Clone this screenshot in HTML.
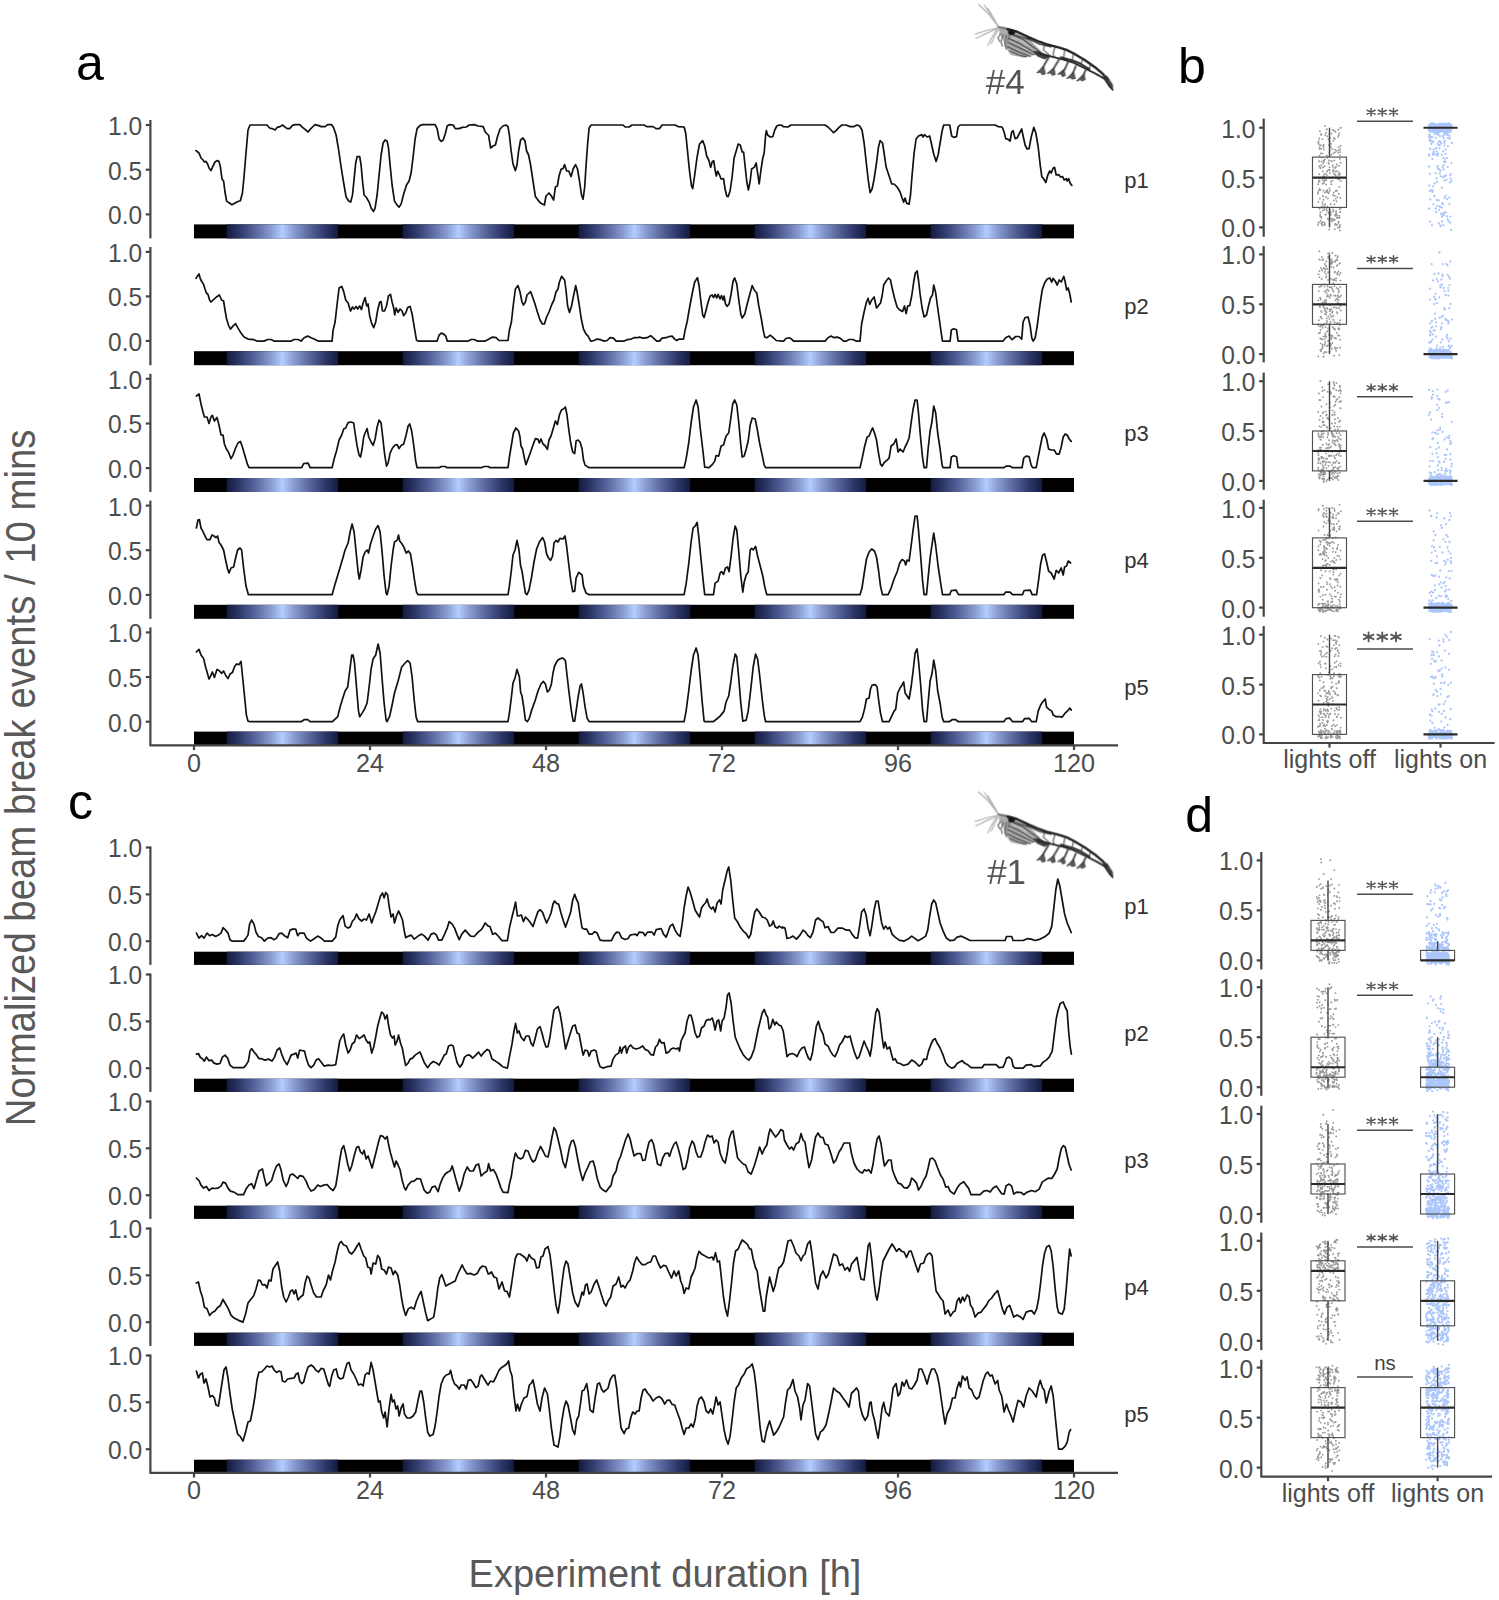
<!DOCTYPE html>
<html><head><meta charset="utf-8"><title>figure</title>
<style>
html,body{margin:0;padding:0;background:#fff;}
svg{display:block;font-family:"Liberation Sans",sans-serif;}
.tk{font-size:25.2px;fill:#4d4d4d;}
.pl{font-size:22px;fill:#333;}
.big{font-size:50px;fill:#000;}
.ttl{font-size:38px;fill:#595959;}
.st{font-size:17px;fill:#333;}
</style></head><body>
<svg width="1499" height="1600" viewBox="0 0 1499 1600">
<defs>
<linearGradient id="lg" x1="0" x2="1" y1="0" y2="0">
<stop offset="0" stop-color="#131a40"/>
<stop offset="0.1" stop-color="#2a3363"/>
<stop offset="0.25" stop-color="#56649b"/>
<stop offset="0.4" stop-color="#8a9dd3"/>
<stop offset="0.5" stop-color="#b2cdff"/>
<stop offset="0.6" stop-color="#8a9dd3"/>
<stop offset="0.75" stop-color="#56649b"/>
<stop offset="0.9" stop-color="#2a3363"/>
<stop offset="1" stop-color="#131a40"/>
</linearGradient>
</defs>
<rect width="1499" height="1600" fill="#fff"/>

<text x="76" y="79.5" class="big">a</text>
<text x="1178" y="82.5" class="big">b</text>
<text x="68" y="819" class="big">c</text>
<text x="1185.3" y="832" class="big">d</text>
<text x="665" y="1587" text-anchor="middle" class="ttl">Experiment duration [h]</text>
<text transform="translate(34.9,777.8) rotate(-90) scale(1.0087,1.12)" text-anchor="middle" class="ttl">Normalized beam break events / 10 mins</text>
<line x1="150.4" y1="120.0" x2="150.4" y2="238.4" stroke="#454545" stroke-width="2.2"/>
<line x1="145.8" y1="125.0" x2="150.4" y2="125.0" stroke="#454545" stroke-width="2.2"/>
<text transform="translate(142.2,134.9) scale(0.975,1.05)" text-anchor="end" class="tk">1.0</text>
<line x1="145.8" y1="169.7" x2="150.4" y2="169.7" stroke="#454545" stroke-width="2.2"/>
<text transform="translate(142.2,179.6) scale(0.975,1.05)" text-anchor="end" class="tk">0.5</text>
<line x1="145.8" y1="214.4" x2="150.4" y2="214.4" stroke="#454545" stroke-width="2.2"/>
<text transform="translate(142.2,224.3) scale(0.975,1.05)" text-anchor="end" class="tk">0.0</text>
<rect x="194.0" y="224.4" width="880.0" height="14.0" fill="#000"/>
<rect x="226.6" y="224.4" width="111.5" height="14.0" fill="url(#lg)"/>
<rect x="402.6" y="224.4" width="111.5" height="14.0" fill="url(#lg)"/>
<rect x="578.6" y="224.4" width="111.5" height="14.0" fill="url(#lg)"/>
<rect x="754.6" y="224.4" width="111.5" height="14.0" fill="url(#lg)"/>
<rect x="930.6" y="224.4" width="111.5" height="14.0" fill="url(#lg)"/>
<text x="1124.3" y="187.5" class="pl">p1</text>
<path d="M196.0,150.6 199.0,153.0 201.0,158.0 203.0,160.0 204.4,162.0 206.0,161.4 207.6,164.0 209.0,168.0 211.0,170.6 213.0,166.0 215.0,162.0 217.0,160.6 219.0,161.4 220.4,167.0 222.0,179.0 223.6,181.0 225.0,192.0 226.6,201.1 229.0,202.7 232.0,204.7 235.0,203.1 238.0,201.5 240.4,200.7 242.4,193.0 244.0,177.0 246.0,153.0 248.0,130.0 250.0,125.0 267.0,125.0 269.6,128.0 272.0,128.6 275.1,130.0 277.1,127.4 280.1,126.6 282.5,125.0 284.5,126.6 287.1,128.6 289.7,128.6 292.5,125.4 295.1,124.6 299.7,124.6 302.5,127.4 305.1,129.4 308.1,132.0 310.1,129.4 312.5,127.0 315.1,124.6 318.1,125.4 321.1,126.6 325.1,126.6 327.7,124.6 331.7,124.6 333.7,128.0 336.1,135.0 338.5,149.0 341.1,167.0 343.7,183.0 346.1,197.0 348.5,200.7 350.7,202.1 352.5,195.0 354.1,179.0 355.7,163.0 357.1,156.6 359.7,156.6 361.1,165.0 362.5,181.0 364.1,195.0 366.1,197.0 369.1,202.1 371.1,208.1 373.5,211.5 375.1,208.1 377.1,195.0 379.1,175.0 381.1,155.0 383.1,143.0 385.1,140.0 387.1,141.0 388.5,148.0 390.1,165.0 392.1,185.0 394.5,201.1 397.1,205.1 399.1,207.1 401.1,204.1 403.7,194.0 406.5,185.0 409.1,181.0 411.1,173.0 413.1,157.0 415.1,139.0 417.1,128.6 420.1,125.4 423.1,124.6 435.1,124.6 437.1,128.6 439.1,139.0 441.2,141.4 443.2,140.0 445.2,134.0 447.2,126.0 449.2,124.6 453.2,125.0 455.2,128.6 459.2,128.6 462.2,127.4 466.2,127.0 469.2,125.0 474.2,124.6 478.2,126.0 483.2,126.6 485.2,132.0 488.2,135.0 488.6,135.4 490.6,148.0 493.0,146.0 495.4,145.0 497.4,137.0 500.0,129.0 503.0,126.0 506.0,125.0 508.0,126.6 509.4,135.0 511.0,150.0 513.0,164.0 515.4,170.6 517.0,165.0 518.6,151.0 520.6,140.0 523.0,138.0 525.0,141.0 526.6,151.0 528.6,155.0 530.6,165.0 533.0,181.0 535.4,196.6 538.0,200.1 540.6,203.1 544.4,205.1 546.0,196.0 549.0,193.0 551.4,196.0 553.6,200.1 555.4,187.0 557.4,186.0 559.0,176.0 561.0,169.4 563.0,168.6 564.6,164.6 566.6,171.0 568.7,171.0 571.1,176.6 573.1,169.0 575.5,164.6 577.5,169.0 579.5,181.0 581.5,195.0 583.1,199.1 584.7,187.0 586.1,165.0 587.7,143.0 589.1,128.0 591.1,125.0 623.1,125.0 625.1,127.0 629.1,127.0 632.1,125.0 644.1,125.0 646.7,126.6 653.1,126.6 656.1,128.6 659.5,128.6 662.1,125.0 675.1,125.0 678.1,126.6 684.1,127.0 685.7,133.0 687.5,151.0 689.5,171.0 691.5,186.0 692.7,188.6 694.7,175.0 697.1,157.0 699.5,144.0 702.7,140.6 704.7,146.0 706.7,156.0 708.7,160.0 710.7,167.4 712.1,162.0 713.7,160.6 715.1,170.0 716.3,176.0 717.7,171.0 719.5,175.0 721.1,179.0 723.5,178.6 725.1,189.0 726.7,196.0 728.1,196.6 730.1,191.0 732.1,177.0 734.1,158.0 736.2,151.0 738.2,144.0 740.2,145.0 742.2,152.0 743.6,152.0 745.2,167.0 746.8,182.0 748.4,190.0 750.2,181.0 751.6,169.0 754.2,167.4 756.2,163.0 757.6,173.0 759.2,184.0 760.8,171.0 762.8,158.0 764.2,153.0 765.6,135.0 766.4,130.6 767.6,135.0 770.2,137.0 772.8,136.6 774.8,130.0 776.8,126.0 779.2,125.0 782.2,125.4 783.0,126.6 788.0,127.0 791.0,125.0 825.0,125.0 828.0,127.0 831.0,130.0 833.6,132.6 836.0,130.6 839.0,127.4 842.0,125.0 846.0,125.0 850.0,126.6 854.0,126.6 857.0,125.0 859.6,126.0 862.0,130.0 864.1,143.0 866.1,161.0 868.1,179.0 870.1,192.6 872.1,189.0 874.1,179.0 876.5,163.0 878.5,147.0 880.1,140.6 882.5,143.0 884.1,153.0 886.1,167.0 888.1,173.0 890.1,179.0 891.7,184.0 894.1,184.0 897.1,187.0 900.1,192.0 902.1,198.0 903.7,202.1 905.1,198.0 906.5,203.1 909.1,204.1 910.5,195.0 912.1,175.0 914.1,153.0 916.1,139.0 918.5,136.0 921.7,134.6 923.1,137.0 924.5,134.6 927.1,137.0 929.7,136.0 931.7,145.0 933.7,154.0 936.1,161.4 938.1,155.0 940.1,143.0 942.1,131.0 943.7,125.0 949.7,125.0 951.7,136.0 953.7,137.4 956.5,136.6 958.1,127.0 960.1,125.0 995.1,125.0 998.1,126.6 1002.1,127.0 1004.1,132.0 1005.7,138.6 1008.1,139.4 1010.1,141.0 1011.7,132.0 1013.1,130.6 1015.1,138.6 1017.1,138.0 1019.1,134.0 1021.7,129.0 1023.1,136.0 1025.1,145.0 1027.1,149.0 1029.1,148.6 1031.2,137.0 1033.8,127.4 1035.8,133.0 1038.2,147.0 1040.2,165.0 1041.8,176.6 1043.8,179.0 1045.8,182.6 1047.8,175.0 1049.8,171.0 1051.2,173.0 1053.2,168.0 1054.6,167.4 1056.2,175.0 1058.6,174.6 1060.6,177.0 1062.6,176.6 1064.2,180.0 1066.2,178.6 1067.2,181.0 1068.6,178.6 1070.2,183.4 1071.8,185.4" fill="none" stroke="#111" stroke-width="1.7" stroke-linejoin="round" stroke-linecap="round"/>
<line x1="150.4" y1="247.0" x2="150.4" y2="365.2" stroke="#454545" stroke-width="2.2"/>
<line x1="145.8" y1="251.9" x2="150.4" y2="251.9" stroke="#454545" stroke-width="2.2"/>
<text transform="translate(142.2,261.8) scale(0.975,1.05)" text-anchor="end" class="tk">1.0</text>
<line x1="145.8" y1="296.4" x2="150.4" y2="296.4" stroke="#454545" stroke-width="2.2"/>
<text transform="translate(142.2,306.3) scale(0.975,1.05)" text-anchor="end" class="tk">0.5</text>
<line x1="145.8" y1="340.9" x2="150.4" y2="340.9" stroke="#454545" stroke-width="2.2"/>
<text transform="translate(142.2,350.8) scale(0.975,1.05)" text-anchor="end" class="tk">0.0</text>
<rect x="194.0" y="351.2" width="880.0" height="14.0" fill="#000"/>
<rect x="226.6" y="351.2" width="111.5" height="14.0" fill="url(#lg)"/>
<rect x="402.6" y="351.2" width="111.5" height="14.0" fill="url(#lg)"/>
<rect x="578.6" y="351.2" width="111.5" height="14.0" fill="url(#lg)"/>
<rect x="754.6" y="351.2" width="111.5" height="14.0" fill="url(#lg)"/>
<rect x="930.6" y="351.2" width="111.5" height="14.0" fill="url(#lg)"/>
<text x="1124.3" y="314.2" class="pl">p2</text>
<path d="M196.0,278.4 197.6,276.0 199.0,274.0 200.4,279.0 202.0,282.0 203.6,284.4 205.0,289.0 206.4,293.0 208.0,294.4 209.6,300.0 211.0,302.0 213.6,299.6 216.4,297.0 219.4,295.0 221.6,300.0 223.6,301.0 225.0,310.0 226.4,318.0 228.4,325.0 230.4,329.1 233.0,326.1 235.6,323.6 238.0,328.1 241.0,333.1 244.0,337.1 248.0,339.1 254.0,339.7 257.0,341.1 264.0,341.1 267.6,339.5 271.0,339.5 274.1,341.1 291.1,341.1 294.1,339.5 298.1,339.5 301.1,341.1 304.1,337.7 307.7,336.1 311.1,337.7 314.1,339.1 318.1,341.1 332.1,341.1 333.1,330.1 335.1,322.0 337.1,304.0 339.1,288.0 341.7,286.4 343.7,291.6 345.7,300.0 348.1,303.0 350.5,311.0 352.5,307.0 354.1,309.0 356.1,306.4 357.7,309.0 359.7,306.0 361.5,309.6 363.1,303.0 365.1,297.6 366.7,306.0 368.1,304.0 369.7,316.0 371.7,323.6 373.7,327.7 375.7,322.0 377.7,310.0 379.7,302.0 381.1,301.6 382.5,311.0 384.5,311.0 386.5,306.0 388.5,296.0 390.5,294.4 392.1,302.0 393.7,308.0 394.7,315.0 396.1,308.0 398.1,312.4 400.1,309.0 402.1,311.0 403.7,315.6 405.7,313.0 407.7,307.6 410.1,306.4 412.1,314.0 414.1,326.1 416.5,340.1 418.1,341.1 437.1,341.1 439.1,335.1 441.2,333.1 443.8,334.1 445.8,336.1 447.2,341.1 468.2,341.1 471.2,339.5 474.2,339.5 477.2,341.1 485.2,341.1 488.2,339.5 489.0,339.1 492.6,337.1 496.0,337.7 499.0,340.5 508.0,340.5 509.4,330.1 511.4,322.0 513.4,304.0 515.4,289.0 518.0,285.6 520.0,292.0 522.0,302.0 523.4,305.0 525.4,302.0 527.0,295.0 530.6,291.6 532.6,297.0 535.0,304.0 537.4,312.0 540.0,320.0 542.4,324.0 544.4,324.0 546.6,317.0 549.0,312.0 552.0,304.0 554.0,300.0 556.0,292.0 558.0,289.0 559.4,282.0 561.6,276.4 564.6,280.0 566.0,290.0 567.6,306.0 569.5,312.4 571.5,306.0 573.5,296.0 575.7,285.6 577.1,292.0 579.1,304.0 581.1,318.0 583.5,329.1 586.1,334.1 588.1,336.1 590.7,341.1 594.1,340.5 597.1,339.1 600.7,339.7 604.1,341.1 607.1,340.5 610.1,337.7 613.5,338.1 616.1,341.1 624.1,341.1 627.1,339.7 631.1,339.1 634.1,337.7 637.1,337.7 639.5,337.1 643.1,338.1 647.1,337.7 650.7,335.7 653.5,338.1 656.7,341.1 659.5,341.1 662.1,338.1 666.1,337.7 669.1,336.5 672.1,336.1 674.7,339.1 676.7,340.5 679.1,339.1 683.5,339.1 685.1,330.1 687.1,322.0 689.5,308.0 692.1,294.0 694.7,282.0 697.5,277.6 699.1,286.0 700.7,300.0 702.7,315.0 704.1,317.6 706.1,310.0 708.1,302.0 710.1,296.0 712.1,295.0 713.5,297.6 715.1,294.4 716.7,298.0 718.1,294.4 720.1,299.0 721.5,295.6 723.1,300.0 724.1,296.0 725.5,304.0 727.1,306.4 729.1,304.0 731.1,294.0 733.1,281.0 734.7,278.0 736.8,284.0 738.8,300.0 740.8,314.0 742.2,318.0 744.8,314.0 747.2,304.0 749.6,295.0 752.2,285.6 754.2,290.0 756.8,293.0 758.8,306.0 761.2,318.0 763.2,330.1 764.8,337.1 767.2,337.7 770.2,335.1 773.2,337.7 776.2,340.5 782.2,341.1 783.6,341.1 786.0,338.5 789.0,337.7 791.6,339.1 793.6,341.1 825.0,341.1 828.0,337.7 831.0,336.1 834.0,337.7 837.0,337.1 840.0,338.1 843.6,341.1 846.4,341.1 849.0,339.5 853.0,339.5 856.0,341.1 860.0,341.1 861.6,324.0 864.1,312.0 866.5,302.0 868.1,298.4 869.7,304.4 871.7,300.0 874.1,297.0 876.5,308.0 878.5,305.6 880.5,303.0 882.1,296.0 883.7,285.0 886.1,281.0 888.5,278.0 890.5,280.0 892.1,288.0 894.5,298.0 897.1,307.0 899.7,310.0 902.5,311.6 904.5,306.0 906.1,313.6 907.7,306.0 909.7,305.6 911.7,296.0 913.7,282.0 915.3,273.0 917.1,271.0 918.5,280.0 920.1,294.0 922.1,308.0 924.1,317.0 926.5,315.0 928.5,306.0 930.5,298.0 932.5,295.0 933.7,285.0 935.7,293.0 937.7,308.0 939.7,322.0 941.7,336.1 942.5,341.1 950.1,341.1 951.3,330.1 953.7,328.7 956.5,329.7 958.1,341.1 1003.1,341.1 1005.7,337.7 1009.1,336.1 1012.1,339.7 1015.7,336.5 1019.1,336.5 1021.7,339.1 1023.1,322.0 1025.1,317.6 1028.1,317.0 1030.2,326.1 1031.8,338.1 1033.2,341.1 1035.2,337.7 1037.2,326.1 1039.8,306.0 1042.2,290.0 1044.6,283.0 1047.2,279.0 1049.8,278.0 1051.8,282.0 1053.2,278.4 1055.2,281.0 1057.2,285.0 1059.2,280.0 1061.2,282.0 1063.8,276.4 1065.2,282.0 1066.6,290.0 1068.2,288.0 1069.8,294.0 1071.2,302.0" fill="none" stroke="#111" stroke-width="1.7" stroke-linejoin="round" stroke-linecap="round"/>
<line x1="150.4" y1="373.8" x2="150.4" y2="492.0" stroke="#454545" stroke-width="2.2"/>
<line x1="145.8" y1="378.8" x2="150.4" y2="378.8" stroke="#454545" stroke-width="2.2"/>
<text transform="translate(142.2,388.7) scale(0.975,1.05)" text-anchor="end" class="tk">1.0</text>
<line x1="145.8" y1="423.5" x2="150.4" y2="423.5" stroke="#454545" stroke-width="2.2"/>
<text transform="translate(142.2,433.4) scale(0.975,1.05)" text-anchor="end" class="tk">0.5</text>
<line x1="145.8" y1="468.1" x2="150.4" y2="468.1" stroke="#454545" stroke-width="2.2"/>
<text transform="translate(142.2,478.0) scale(0.975,1.05)" text-anchor="end" class="tk">0.0</text>
<rect x="194.0" y="478.0" width="880.0" height="14.0" fill="#000"/>
<rect x="226.6" y="478.0" width="111.5" height="14.0" fill="url(#lg)"/>
<rect x="402.6" y="478.0" width="111.5" height="14.0" fill="url(#lg)"/>
<rect x="578.6" y="478.0" width="111.5" height="14.0" fill="url(#lg)"/>
<rect x="754.6" y="478.0" width="111.5" height="14.0" fill="url(#lg)"/>
<rect x="930.6" y="478.0" width="111.5" height="14.0" fill="url(#lg)"/>
<text x="1124.3" y="441.3" class="pl">p3</text>
<path d="M196.4,396.0 199.0,394.0 201.0,404.0 203.0,412.0 204.4,417.0 207.0,417.0 209.0,423.4 211.0,417.0 212.4,415.4 214.4,421.0 217.0,417.4 219.0,425.0 221.0,435.0 223.0,435.0 224.4,444.0 226.4,449.0 228.4,452.0 231.0,458.7 233.0,455.1 235.6,448.0 238.0,443.0 240.4,441.4 242.4,447.0 245.0,456.1 247.6,464.7 249.0,467.7 301.7,467.7 303.7,463.5 308.1,463.1 310.1,467.7 332.1,467.7 334.1,459.1 336.5,451.0 339.1,440.0 341.7,435.0 343.7,429.0 345.7,428.0 348.1,422.6 351.1,422.0 353.7,423.0 355.1,433.0 357.1,446.0 359.1,455.1 360.5,457.1 362.1,449.0 363.7,437.0 365.1,433.0 367.1,428.6 368.7,437.0 371.1,442.0 373.1,445.4 375.1,439.0 377.1,427.0 379.1,420.0 381.1,423.0 382.5,435.0 384.5,453.1 386.5,466.1 388.1,463.1 390.1,453.1 392.5,448.0 395.1,445.0 397.1,444.6 399.1,448.6 401.1,445.4 403.7,444.0 406.1,435.0 408.1,426.0 409.7,424.0 411.7,431.0 413.7,445.0 415.7,461.1 417.1,467.7 439.1,467.7 441.2,466.5 445.2,466.5 447.2,467.7 481.2,467.7 484.2,466.5 488.2,466.5 490.0,467.7 508.0,467.7 509.4,457.1 511.4,445.0 513.4,433.0 516.0,428.0 518.6,431.0 520.0,437.0 521.0,446.0 522.6,449.0 524.6,459.1 526.0,464.7 528.0,459.1 530.6,452.0 533.0,445.0 535.4,438.6 538.0,439.4 539.4,443.0 541.0,439.0 543.0,444.0 545.4,446.0 547.4,449.4 549.0,440.0 551.0,436.0 553.4,428.0 555.4,421.0 557.4,424.6 559.4,415.0 561.4,410.0 563.4,409.0 565.4,407.0 567.0,415.0 568.7,429.0 570.7,443.0 572.7,452.0 574.7,453.5 576.1,441.0 578.1,440.0 580.1,442.0 582.1,449.0 583.5,460.1 585.1,465.1 589.1,467.7 684.1,467.7 686.1,459.1 688.7,443.0 691.1,423.0 693.5,407.0 696.1,400.0 698.1,407.0 700.1,427.0 702.7,449.0 704.7,467.1 709.1,467.7 712.7,464.1 714.7,461.1 716.1,455.5 718.7,456.1 721.1,446.0 723.5,445.0 726.1,436.0 728.7,433.0 730.7,419.0 732.7,404.0 734.7,400.0 736.8,405.0 738.8,423.0 740.8,445.0 742.2,457.1 744.2,456.1 746.2,449.0 748.2,441.0 750.2,425.0 752.2,418.0 755.2,419.0 757.2,429.0 759.6,443.0 762.2,455.1 764.2,465.1 765.6,467.7 782.2,467.7 783.0,467.7 860.0,467.7 862.0,459.1 864.5,447.0 867.1,437.0 869.1,436.0 871.1,431.0 872.7,428.0 874.5,433.0 876.5,440.0 878.5,453.1 880.5,464.1 882.1,466.1 884.1,462.7 887.1,460.1 889.1,458.1 891.1,446.0 893.7,444.0 896.1,439.0 898.1,452.0 900.1,449.0 903.1,452.0 905.1,447.0 907.1,443.0 909.1,438.0 911.1,423.0 913.1,409.0 915.1,400.0 917.1,400.0 918.5,413.0 920.5,437.0 922.5,457.1 924.1,467.7 926.5,467.7 928.1,449.0 930.1,431.0 932.1,421.0 933.7,406.0 935.7,413.0 937.7,433.0 940.1,449.0 942.1,465.1 943.1,467.7 950.1,467.7 951.3,457.1 953.7,455.7 956.5,456.7 958.1,467.7 1003.7,467.7 1006.1,466.1 1010.1,466.1 1012.1,467.7 1022.1,467.7 1023.7,458.1 1026.1,456.1 1029.1,456.7 1031.2,465.1 1032.6,467.7 1036.2,467.7 1038.2,457.1 1040.2,447.0 1042.2,437.0 1044.2,433.0 1046.6,439.0 1048.6,449.0 1051.2,450.0 1054.2,450.0 1056.6,454.1 1059.2,454.1 1061.2,447.0 1063.2,437.0 1065.2,434.0 1067.2,435.0 1069.2,439.0 1071.2,441.4" fill="none" stroke="#111" stroke-width="1.7" stroke-linejoin="round" stroke-linecap="round"/>
<line x1="150.4" y1="500.6" x2="150.4" y2="618.8" stroke="#454545" stroke-width="2.2"/>
<line x1="145.8" y1="505.6" x2="150.4" y2="505.6" stroke="#454545" stroke-width="2.2"/>
<text transform="translate(142.2,515.5) scale(0.975,1.05)" text-anchor="end" class="tk">1.0</text>
<line x1="145.8" y1="550.2" x2="150.4" y2="550.2" stroke="#454545" stroke-width="2.2"/>
<text transform="translate(142.2,560.1) scale(0.975,1.05)" text-anchor="end" class="tk">0.5</text>
<line x1="145.8" y1="594.9" x2="150.4" y2="594.9" stroke="#454545" stroke-width="2.2"/>
<text transform="translate(142.2,604.8) scale(0.975,1.05)" text-anchor="end" class="tk">0.0</text>
<rect x="194.0" y="604.8" width="880.0" height="14.0" fill="#000"/>
<rect x="226.6" y="604.8" width="111.5" height="14.0" fill="url(#lg)"/>
<rect x="402.6" y="604.8" width="111.5" height="14.0" fill="url(#lg)"/>
<rect x="578.6" y="604.8" width="111.5" height="14.0" fill="url(#lg)"/>
<rect x="754.6" y="604.8" width="111.5" height="14.0" fill="url(#lg)"/>
<rect x="930.6" y="604.8" width="111.5" height="14.0" fill="url(#lg)"/>
<text x="1124.3" y="568.0" class="pl">p4</text>
<path d="M196.4,528.0 198.0,520.0 199.4,519.6 201.0,528.0 203.0,531.6 205.0,536.0 207.0,539.6 210.0,539.6 212.0,535.0 214.0,536.0 216.0,537.6 217.6,536.0 219.0,542.4 221.0,545.0 223.6,550.0 225.6,560.0 227.6,569.0 229.0,573.0 231.0,568.0 233.6,567.0 235.6,558.0 237.6,550.0 240.0,548.0 241.6,550.0 243.6,568.0 246.0,586.1 248.4,594.7 332.1,594.7 334.5,586.1 338.1,574.0 341.7,562.0 345.1,550.0 348.1,543.0 350.1,532.0 352.1,524.0 354.1,532.0 356.1,552.0 358.1,572.0 359.3,579.0 361.1,570.0 363.1,557.0 365.1,552.0 367.1,550.0 368.5,553.0 370.5,544.0 373.1,536.0 375.7,529.0 378.1,525.6 380.1,532.0 382.1,552.0 384.1,576.0 386.1,593.1 387.1,594.7 389.1,586.1 391.1,566.0 393.1,550.0 394.5,542.0 397.1,540.4 398.5,535.0 399.7,541.0 402.1,544.0 404.1,547.6 406.1,553.0 408.5,551.0 410.5,554.0 412.5,566.0 414.5,580.1 416.5,592.1 418.1,594.7 487.2,594.7 488.0,594.7 508.0,594.7 509.4,586.1 511.4,570.0 513.0,555.0 515.0,550.0 517.0,540.4 519.0,550.0 520.6,566.0 522.0,571.0 524.0,584.1 525.4,593.1 527.0,594.7 529.0,590.1 531.4,578.0 534.0,562.0 536.6,549.0 539.4,542.0 542.6,537.6 544.6,542.0 546.6,554.0 548.6,558.0 550.6,560.4 552.6,556.0 554.0,543.0 556.0,540.4 558.0,542.0 560.0,538.4 563.0,539.0 565.0,536.0 566.6,546.0 568.7,564.0 570.7,580.1 572.7,591.7 574.7,591.1 576.1,578.0 578.7,572.4 582.1,575.0 583.5,586.1 586.1,593.1 589.1,594.7 684.1,594.7 686.1,584.1 688.7,564.0 691.1,542.0 693.1,528.0 695.5,525.6 697.1,522.4 698.7,536.0 701.1,560.0 703.1,580.1 704.7,594.7 713.5,594.7 715.1,583.1 718.1,581.1 720.1,573.0 721.5,571.6 723.5,574.4 725.5,568.0 727.5,567.0 729.1,571.6 731.1,556.0 733.1,538.0 735.2,526.0 736.8,530.0 738.8,552.0 740.8,576.0 742.8,592.1 744.2,582.1 746.2,575.0 748.2,572.0 750.2,550.0 751.6,548.4 753.2,550.0 755.6,546.4 757.6,556.0 760.2,566.0 762.8,576.0 764.8,587.1 766.8,594.7 782.2,594.7 783.0,594.7 860.0,594.7 862.0,588.1 864.1,574.0 866.5,559.0 869.1,552.0 871.7,549.0 874.5,551.0 876.5,557.0 878.5,570.0 880.5,586.1 882.5,594.7 888.1,594.7 891.1,588.1 894.1,579.0 897.1,572.0 899.7,563.0 902.1,559.6 904.5,561.0 905.7,565.0 907.1,560.0 909.1,561.0 911.1,546.0 913.1,530.0 915.1,516.0 917.1,516.0 918.5,530.0 920.5,554.0 922.5,580.1 924.1,594.7 926.5,594.7 928.1,578.0 930.1,558.0 932.1,544.0 933.7,533.0 935.7,546.0 938.1,566.0 940.5,582.1 942.5,594.7 949.7,594.7 951.3,590.5 956.1,590.1 958.5,594.7 1003.7,594.7 1005.7,592.1 1010.1,592.1 1012.5,594.7 1022.5,594.7 1024.1,590.5 1030.2,590.1 1032.2,594.7 1036.6,594.7 1038.6,580.1 1040.6,564.0 1042.6,555.0 1044.6,554.0 1046.6,562.0 1048.6,571.0 1051.2,573.0 1054.2,579.0 1056.2,570.4 1058.6,573.0 1061.2,568.0 1063.2,575.0 1064.6,567.0 1066.6,566.0 1068.2,561.0 1070.6,563.0" fill="none" stroke="#111" stroke-width="1.7" stroke-linejoin="round" stroke-linecap="round"/>
<line x1="150.4" y1="627.4" x2="150.4" y2="745.4" stroke="#454545" stroke-width="2.2"/>
<line x1="145.8" y1="632.4" x2="150.4" y2="632.4" stroke="#454545" stroke-width="2.2"/>
<text transform="translate(142.2,642.3) scale(0.975,1.05)" text-anchor="end" class="tk">1.0</text>
<line x1="145.8" y1="677.0" x2="150.4" y2="677.0" stroke="#454545" stroke-width="2.2"/>
<text transform="translate(142.2,686.9) scale(0.975,1.05)" text-anchor="end" class="tk">0.5</text>
<line x1="145.8" y1="721.7" x2="150.4" y2="721.7" stroke="#454545" stroke-width="2.2"/>
<text transform="translate(142.2,731.6) scale(0.975,1.05)" text-anchor="end" class="tk">0.0</text>
<rect x="194.0" y="731.6" width="880.0" height="13.8" fill="#000"/>
<rect x="226.6" y="731.6" width="111.5" height="13.8" fill="url(#lg)"/>
<rect x="402.6" y="731.6" width="111.5" height="13.8" fill="url(#lg)"/>
<rect x="578.6" y="731.6" width="111.5" height="13.8" fill="url(#lg)"/>
<rect x="754.6" y="731.6" width="111.5" height="13.8" fill="url(#lg)"/>
<rect x="930.6" y="731.6" width="111.5" height="13.8" fill="url(#lg)"/>
<text x="1124.3" y="694.8" class="pl">p5</text>
<path d="M196.4,652.0 199.0,649.4 201.0,655.0 203.6,658.6 205.6,667.0 207.6,674.0 209.0,679.0 211.0,675.4 212.4,672.0 214.4,677.4 217.0,669.4 219.6,671.0 221.6,673.4 223.6,671.0 226.0,676.0 228.0,678.6 230.0,674.0 232.4,672.6 234.4,667.0 236.4,664.0 239.0,664.6 241.0,661.4 242.4,675.0 244.4,695.0 246.4,715.1 248.0,721.1 250.0,721.7 301.1,721.7 304.1,719.7 307.7,719.7 310.1,721.7 332.5,721.7 335.1,719.1 337.7,716.7 340.1,707.1 342.5,699.0 345.1,691.0 347.7,687.0 349.7,671.0 351.7,655.0 353.1,655.0 354.5,663.0 356.5,687.0 358.5,711.1 359.7,716.7 362.1,713.1 364.5,709.1 367.1,703.0 369.1,687.0 371.1,669.0 373.1,659.0 375.7,655.0 378.1,644.0 380.1,653.0 382.1,679.0 384.1,703.0 386.1,720.1 387.1,721.7 389.7,716.1 392.1,705.0 394.5,693.0 398.1,681.0 401.7,667.0 405.1,663.0 407.7,660.6 410.1,663.0 412.1,677.0 414.1,699.0 416.1,717.1 417.7,721.7 487.2,721.7 488.0,721.7 508.0,721.7 509.4,713.1 511.4,697.0 513.0,683.0 515.0,678.0 517.0,669.4 519.4,677.0 520.6,692.0 522.0,696.0 524.0,709.1 525.4,720.1 527.4,721.7 529.4,718.1 532.0,709.1 535.0,701.0 538.0,691.0 541.0,684.0 543.4,681.4 545.4,684.0 547.4,692.0 549.4,690.0 551.4,684.0 553.0,673.0 554.6,666.0 556.6,662.0 558.0,660.0 560.6,658.6 563.0,658.0 565.4,660.6 567.0,675.0 569.1,693.0 571.1,709.1 573.1,721.1 574.7,721.1 576.1,711.1 578.1,697.0 580.1,686.0 581.5,684.0 583.1,693.0 585.1,707.1 587.1,718.1 589.1,721.7 684.1,721.7 686.1,711.1 688.7,691.0 691.1,671.0 693.5,655.0 696.1,648.0 698.1,655.0 700.1,677.0 702.1,701.0 704.1,721.1 705.1,721.7 713.1,721.7 716.1,719.5 720.1,716.1 724.1,711.1 726.1,702.0 728.7,696.0 730.7,683.0 732.7,667.0 735.2,654.0 736.8,657.0 738.8,679.0 740.8,703.0 742.8,721.1 746.2,720.1 748.2,711.1 750.8,689.0 753.2,667.0 755.6,654.0 757.6,659.0 759.6,675.0 762.2,699.0 764.2,715.1 765.6,721.7 782.2,721.7 783.0,721.7 860.0,721.7 862.4,717.1 864.5,709.1 866.5,699.0 869.1,698.0 870.5,689.0 872.1,685.0 875.1,684.6 877.1,687.0 878.5,699.0 880.5,713.1 882.5,721.7 889.1,721.7 891.7,716.1 894.1,711.1 895.7,709.1 897.7,693.0 900.1,688.0 902.1,685.0 903.7,682.0 905.1,693.0 907.1,696.0 909.1,699.0 911.1,687.0 913.1,671.0 915.1,653.0 917.1,649.0 918.5,661.0 920.5,683.0 922.5,709.1 924.1,721.7 926.5,721.7 928.1,703.0 930.1,681.0 932.1,673.0 933.7,660.0 935.7,671.0 937.7,691.0 940.1,703.0 942.1,717.1 943.7,721.7 949.1,721.7 952.1,719.7 955.7,719.7 958.5,721.7 1003.7,721.7 1006.1,718.7 1009.7,718.1 1012.5,721.7 1022.5,721.7 1024.5,718.7 1029.1,718.3 1031.8,721.7 1036.2,721.7 1038.2,711.1 1040.6,705.0 1042.6,702.0 1045.2,699.0 1046.6,707.1 1049.2,709.5 1051.8,711.1 1053.2,715.1 1056.2,716.7 1059.2,716.7 1062.2,717.1 1065.2,713.1 1067.8,710.7 1069.8,708.1 1071.2,710.1" fill="none" stroke="#111" stroke-width="1.7" stroke-linejoin="round" stroke-linecap="round"/>
<line x1="149.5" y1="745.4" x2="1118" y2="745.4" stroke="#454545" stroke-width="2.2"/>
<line x1="194.0" y1="745.4" x2="194.0" y2="750.0" stroke="#454545" stroke-width="2.2"/>
<text x="194.1" y="771.7" text-anchor="middle" class="tk">0</text>
<line x1="370.0" y1="745.4" x2="370.0" y2="750.0" stroke="#454545" stroke-width="2.2"/>
<text x="370.1" y="771.7" text-anchor="middle" class="tk">24</text>
<line x1="546.0" y1="745.4" x2="546.0" y2="750.0" stroke="#454545" stroke-width="2.2"/>
<text x="546.1" y="771.7" text-anchor="middle" class="tk">48</text>
<line x1="722.0" y1="745.4" x2="722.0" y2="750.0" stroke="#454545" stroke-width="2.2"/>
<text x="722.1" y="771.7" text-anchor="middle" class="tk">72</text>
<line x1="898.0" y1="745.4" x2="898.0" y2="750.0" stroke="#454545" stroke-width="2.2"/>
<text x="898.1" y="771.7" text-anchor="middle" class="tk">96</text>
<line x1="1074.0" y1="745.4" x2="1074.0" y2="750.0" stroke="#454545" stroke-width="2.2"/>
<text x="1074.1" y="771.7" text-anchor="middle" class="tk">120</text>
<line x1="150.4" y1="846.5" x2="150.4" y2="964.9" stroke="#454545" stroke-width="2.2"/>
<line x1="145.8" y1="847.5" x2="150.4" y2="847.5" stroke="#454545" stroke-width="2.2"/>
<text transform="translate(142.2,857.4) scale(0.975,1.05)" text-anchor="end" class="tk">1.0</text>
<line x1="145.8" y1="894.4" x2="150.4" y2="894.4" stroke="#454545" stroke-width="2.2"/>
<text transform="translate(142.2,904.2) scale(0.975,1.05)" text-anchor="end" class="tk">0.5</text>
<line x1="145.8" y1="941.2" x2="150.4" y2="941.2" stroke="#454545" stroke-width="2.2"/>
<text transform="translate(142.2,951.1) scale(0.975,1.05)" text-anchor="end" class="tk">0.0</text>
<rect x="194.0" y="951.7" width="880.0" height="13.2" fill="#000"/>
<rect x="226.6" y="951.7" width="111.5" height="13.2" fill="url(#lg)"/>
<rect x="402.6" y="951.7" width="111.5" height="13.2" fill="url(#lg)"/>
<rect x="578.6" y="951.7" width="111.5" height="13.2" fill="url(#lg)"/>
<rect x="754.6" y="951.7" width="111.5" height="13.2" fill="url(#lg)"/>
<rect x="930.6" y="951.7" width="111.5" height="13.2" fill="url(#lg)"/>
<text x="1124.3" y="914.0" class="pl">p1</text>
<path d="M196.4,933.1 199.0,938.1 201.6,935.7 204.0,938.1 207.0,933.1 209.6,935.7 212.4,934.5 215.6,936.5 218.4,935.1 221.0,933.1 223.0,927.7 225.6,930.1 228.0,933.1 230.0,939.7 232.0,941.1 243.6,941.1 246.0,938.1 248.0,935.1 249.6,924.1 251.6,920.0 254.0,924.1 256.0,932.1 258.4,936.5 261.6,937.7 264.4,941.1 267.6,938.1 271.0,937.7 274.1,939.7 276.5,938.1 279.1,933.7 281.7,933.1 284.5,935.7 287.7,937.7 290.1,930.1 292.5,929.1 295.7,929.1 297.7,935.7 299.7,933.1 304.1,933.1 306.5,938.1 310.5,941.1 314.5,938.5 317.7,936.1 321.1,938.1 324.5,941.1 332.1,941.1 335.7,937.1 337.7,926.1 339.7,920.0 343.1,915.6 345.1,926.1 348.1,928.1 350.1,927.1 352.5,921.0 354.5,919.0 356.5,914.0 359.1,919.0 361.7,921.0 364.1,919.0 366.5,920.0 369.1,914.0 371.7,923.0 373.7,917.0 375.7,912.0 378.1,904.0 380.5,896.0 382.5,893.0 384.1,898.0 385.7,892.4 387.7,895.0 389.1,906.0 391.1,917.0 393.1,914.0 394.5,923.0 396.5,916.0 398.5,911.0 400.5,915.0 402.5,920.0 404.1,930.1 405.7,937.7 408.5,936.1 411.1,935.1 414.1,939.1 418.1,936.1 421.7,934.1 424.5,936.1 428.1,940.1 431.1,934.1 434.1,933.1 436.5,935.1 438.5,940.1 441.8,940.1 444.6,934.1 447.2,928.1 449.2,921.6 452.2,924.1 454.6,928.1 457.2,935.1 459.2,939.7 461.8,934.1 465.2,930.1 467.8,933.1 470.6,936.1 474.2,936.5 478.2,932.1 481.8,929.1 485.2,923.0 488.2,926.1 490.0,926.5 492.6,934.1 495.4,933.1 498.6,936.5 502.0,940.7 507.4,940.7 509.4,928.1 512.0,917.0 514.0,909.0 515.6,902.0 517.4,916.0 519.4,915.6 521.4,915.0 523.4,921.6 525.4,917.0 528.0,919.6 530.6,923.0 533.0,926.5 535.4,919.0 538.0,911.6 540.0,909.6 542.6,912.4 544.6,918.0 546.6,923.0 549.0,918.0 551.0,913.0 553.0,904.0 554.6,901.0 556.6,903.6 558.6,904.0 561.0,913.0 563.4,921.0 565.6,927.1 568.0,920.0 570.7,912.0 572.7,900.0 574.7,894.4 576.7,900.0 578.1,902.4 580.1,916.0 582.1,928.1 584.1,929.1 586.7,929.1 589.1,934.1 592.1,934.1 594.7,931.7 597.1,933.1 600.1,940.1 603.1,940.7 611.5,940.7 614.1,935.1 616.7,932.1 619.1,932.5 621.5,937.7 625.1,939.5 628.1,938.5 630.1,935.1 633.1,934.5 635.5,934.1 637.1,935.7 639.1,932.1 643.1,932.5 645.1,935.7 647.5,932.1 652.1,932.1 654.1,935.1 656.1,929.7 658.7,929.1 661.1,928.5 663.5,934.1 666.1,937.1 668.1,932.1 670.1,926.1 672.7,924.1 675.1,930.1 677.5,934.1 680.1,936.5 682.1,924.1 684.1,908.0 686.1,896.0 688.1,887.0 690.1,892.0 692.7,901.0 695.1,910.0 697.5,914.0 699.5,917.0 701.5,908.0 703.5,905.0 705.5,903.0 707.1,899.0 709.1,906.0 711.5,909.0 713.1,907.0 715.1,912.0 717.1,903.0 719.5,900.0 721.1,904.0 722.7,890.0 725.1,880.0 727.1,871.0 728.7,867.0 730.7,880.0 732.7,900.0 734.7,918.0 737.6,922.0 740.2,927.1 743.2,931.1 746.2,933.7 748.8,938.1 750.8,934.1 752.8,922.0 754.8,912.0 756.8,909.0 759.2,912.0 762.2,917.0 765.2,918.0 767.2,920.0 769.6,926.1 771.6,925.1 773.2,921.0 775.2,927.1 777.2,928.1 779.2,926.1 782.2,928.1 782.4,927.1 785.0,928.1 787.0,938.5 790.0,937.7 793.0,936.1 796.4,939.1 800.0,935.1 803.0,930.1 805.6,932.1 808.0,935.7 810.4,937.7 813.0,932.1 815.6,920.0 818.0,918.0 820.4,920.0 823.0,921.6 825.0,927.7 828.0,926.5 831.0,932.5 834.0,932.5 838.0,928.1 842.0,928.1 846.0,930.1 849.6,930.1 852.0,934.1 855.0,937.7 857.6,938.1 859.6,926.1 861.6,912.0 864.1,909.0 866.1,915.0 868.1,928.1 870.1,935.7 872.1,924.1 874.1,910.0 876.1,901.0 878.1,901.0 879.7,911.0 881.7,923.0 883.7,929.1 885.7,926.1 887.7,929.1 889.7,927.1 892.1,934.1 895.1,937.1 899.1,940.1 904.1,941.1 908.1,939.1 911.7,936.1 914.5,938.1 918.1,940.7 922.1,938.5 925.7,936.1 927.7,930.1 929.7,916.0 931.7,904.0 933.7,900.0 935.7,903.0 937.7,912.0 940.1,923.0 943.1,931.1 946.1,937.7 950.1,940.7 954.1,940.1 957.1,937.1 961.1,936.1 965.1,938.1 970.1,940.5 1005.1,940.5 1006.5,936.5 1011.7,936.5 1013.1,940.5 1023.1,940.5 1027.1,938.7 1031.2,939.1 1035.2,940.5 1040.2,939.1 1045.2,936.5 1049.2,933.1 1051.8,926.1 1053.8,908.0 1055.8,890.0 1057.8,879.0 1059.8,886.0 1062.2,900.0 1064.6,914.0 1067.2,923.0 1069.8,929.1 1071.2,932.5" fill="none" stroke="#111" stroke-width="1.7" stroke-linejoin="round" stroke-linecap="round"/>
<line x1="150.4" y1="973.5" x2="150.4" y2="1091.9" stroke="#454545" stroke-width="2.2"/>
<line x1="145.8" y1="974.5" x2="150.4" y2="974.5" stroke="#454545" stroke-width="2.2"/>
<text transform="translate(142.2,984.4) scale(0.975,1.05)" text-anchor="end" class="tk">1.0</text>
<line x1="145.8" y1="1021.4" x2="150.4" y2="1021.4" stroke="#454545" stroke-width="2.2"/>
<text transform="translate(142.2,1031.2) scale(0.975,1.05)" text-anchor="end" class="tk">0.5</text>
<line x1="145.8" y1="1068.2" x2="150.4" y2="1068.2" stroke="#454545" stroke-width="2.2"/>
<text transform="translate(142.2,1078.1) scale(0.975,1.05)" text-anchor="end" class="tk">0.0</text>
<rect x="194.0" y="1078.7" width="880.0" height="13.2" fill="#000"/>
<rect x="226.6" y="1078.7" width="111.5" height="13.2" fill="url(#lg)"/>
<rect x="402.6" y="1078.7" width="111.5" height="13.2" fill="url(#lg)"/>
<rect x="578.6" y="1078.7" width="111.5" height="13.2" fill="url(#lg)"/>
<rect x="754.6" y="1078.7" width="111.5" height="13.2" fill="url(#lg)"/>
<rect x="930.6" y="1078.7" width="111.5" height="13.2" fill="url(#lg)"/>
<text x="1124.3" y="1041.0" class="pl">p2</text>
<path d="M196.4,1054.1 198.4,1053.5 200.4,1057.5 202.4,1058.7 204.4,1061.1 206.4,1057.1 209.0,1060.7 211.6,1060.1 214.0,1063.1 217.0,1064.1 220.0,1063.5 222.4,1057.1 225.0,1055.1 227.6,1058.1 230.0,1065.1 233.0,1067.7 243.6,1067.7 246.0,1065.1 248.4,1061.1 250.0,1051.1 251.6,1048.6 254.0,1052.1 256.4,1054.7 259.0,1058.7 261.6,1058.7 265.0,1060.1 268.4,1059.1 272.0,1061.1 274.5,1057.1 277.1,1050.0 279.7,1048.0 281.7,1054.1 284.1,1060.1 287.1,1064.7 289.1,1060.1 291.1,1055.1 293.7,1054.1 296.1,1053.1 297.7,1058.1 299.7,1050.0 302.5,1050.7 304.5,1051.1 306.5,1059.1 308.5,1065.1 311.1,1067.7 313.7,1065.1 316.1,1060.1 318.5,1058.7 321.1,1062.1 324.1,1066.1 328.1,1065.1 332.1,1065.5 335.7,1064.7 337.7,1053.1 339.7,1041.0 342.1,1036.0 343.7,1034.0 345.7,1045.0 348.1,1053.1 350.1,1050.0 352.1,1044.0 354.5,1042.0 356.5,1035.0 359.1,1038.6 361.7,1037.0 364.1,1035.0 366.1,1040.0 368.1,1043.0 369.7,1042.0 371.7,1053.1 373.7,1047.0 375.7,1037.0 377.7,1026.0 380.1,1017.0 381.7,1012.0 383.7,1014.0 385.1,1019.0 387.1,1015.0 388.5,1025.0 390.5,1035.0 392.5,1038.0 394.1,1036.0 395.1,1045.0 397.1,1041.0 398.5,1035.0 400.5,1043.0 402.5,1049.0 404.1,1058.1 405.7,1065.5 408.1,1063.1 410.1,1059.1 412.5,1058.1 415.1,1055.1 418.1,1053.1 420.1,1052.1 422.1,1057.1 424.5,1063.1 427.7,1067.7 430.1,1064.1 433.1,1061.5 436.1,1062.7 439.1,1065.1 441.8,1060.1 444.2,1055.1 446.2,1054.1 448.6,1046.0 451.2,1045.0 453.2,1046.0 455.2,1055.1 457.2,1062.7 459.8,1067.1 462.2,1064.1 464.6,1057.1 467.2,1055.1 469.8,1055.1 472.6,1058.1 475.8,1055.1 478.6,1052.1 481.2,1056.1 484.2,1052.1 487.2,1049.4 489.4,1050.7 492.0,1059.1 495.4,1061.1 499.0,1063.5 502.6,1066.7 507.4,1068.1 509.4,1057.1 512.0,1044.0 514.0,1031.0 515.6,1023.4 517.4,1033.0 519.0,1031.0 521.0,1037.0 524.0,1040.6 526.0,1036.0 529.0,1036.0 531.0,1043.0 533.0,1046.0 535.0,1039.0 537.4,1029.0 540.0,1026.6 542.0,1033.0 544.0,1041.0 546.0,1047.0 548.0,1046.6 550.0,1037.0 552.0,1023.0 554.0,1010.0 556.0,1008.0 558.0,1006.6 560.0,1013.0 562.0,1025.0 564.0,1039.0 565.6,1049.0 568.0,1041.0 570.1,1034.0 572.7,1026.0 575.1,1025.0 577.1,1033.0 579.1,1034.0 581.1,1045.0 583.1,1055.1 585.1,1050.0 587.5,1050.7 589.1,1056.1 591.1,1051.1 594.1,1050.0 596.1,1051.1 598.1,1061.1 600.1,1066.7 603.1,1068.1 607.1,1066.7 611.1,1066.1 613.1,1059.1 615.5,1055.1 618.7,1053.1 620.1,1047.0 621.5,1053.1 623.1,1048.0 625.5,1046.0 626.7,1053.1 628.7,1047.0 630.7,1045.0 633.1,1048.0 636.1,1049.0 639.5,1048.0 642.7,1046.0 645.1,1049.4 648.1,1050.7 651.1,1054.7 653.5,1055.1 655.5,1047.0 657.5,1045.0 659.5,1039.4 661.5,1043.0 664.1,1042.6 666.1,1053.1 668.7,1052.1 671.1,1049.0 673.5,1048.0 676.1,1049.0 678.1,1048.0 679.5,1051.1 681.1,1041.0 683.1,1036.6 685.1,1033.0 687.1,1021.0 689.1,1015.0 691.1,1015.4 693.1,1023.0 695.1,1033.0 697.1,1037.4 699.5,1036.0 701.5,1028.0 704.1,1026.0 706.1,1020.6 708.1,1019.4 710.1,1020.0 712.1,1018.0 713.5,1022.0 715.1,1030.0 717.1,1021.0 718.7,1020.0 720.7,1031.0 722.1,1021.0 724.1,1018.0 726.1,1007.0 727.5,995.0 729.1,993.0 731.1,1003.0 733.1,1021.0 735.2,1037.0 737.6,1043.0 740.2,1049.0 743.2,1054.7 746.2,1058.1 748.8,1060.1 751.2,1057.1 754.2,1049.0 756.2,1039.0 758.2,1029.0 760.2,1021.0 762.2,1013.0 764.2,1009.4 766.2,1015.0 767.6,1017.0 769.2,1029.0 770.8,1027.0 772.8,1019.4 774.8,1025.0 776.2,1022.0 778.8,1025.0 781.2,1026.0 783.2,1031.0 785.0,1043.0 787.0,1056.7 789.6,1054.1 792.4,1053.5 795.0,1054.7 797.0,1056.7 799.6,1051.1 802.0,1048.0 804.4,1047.0 806.4,1053.1 808.4,1058.1 810.4,1060.1 812.4,1053.1 814.4,1039.0 816.4,1026.0 818.4,1021.4 820.4,1029.0 823.0,1034.0 825.0,1044.0 828.0,1046.0 830.4,1051.1 833.0,1055.1 835.0,1056.7 837.6,1051.1 839.6,1045.0 842.0,1042.0 845.0,1036.0 847.6,1037.4 850.0,1036.0 852.0,1044.0 854.4,1052.1 857.0,1058.7 859.0,1057.1 861.6,1049.0 864.1,1041.0 866.1,1046.0 868.5,1051.1 870.1,1056.1 871.7,1047.0 873.7,1029.0 875.7,1013.0 877.3,1008.6 879.1,1012.0 880.5,1023.0 882.1,1037.0 883.7,1048.0 885.1,1042.0 887.1,1049.0 889.7,1047.0 891.7,1055.1 893.1,1060.1 895.1,1058.7 897.1,1062.7 900.1,1063.5 903.7,1065.5 908.1,1064.1 911.7,1060.1 915.1,1062.1 919.1,1066.1 921.7,1064.1 923.7,1059.1 926.5,1059.5 928.5,1051.1 931.1,1044.0 933.1,1040.0 935.1,1038.6 937.1,1043.0 940.1,1048.0 943.1,1055.1 945.7,1062.7 948.5,1066.1 951.7,1068.1 954.5,1067.1 957.1,1063.5 959.7,1062.1 962.1,1060.7 964.5,1063.1 968.1,1065.1 971.1,1067.7 982.1,1067.7 984.1,1064.7 996.1,1064.7 999.1,1067.7 1003.1,1067.1 1005.1,1062.7 1006.5,1058.1 1009.1,1057.1 1011.7,1059.5 1013.1,1066.1 1015.1,1068.1 1023.1,1068.1 1026.1,1065.1 1031.2,1064.7 1033.8,1066.7 1037.2,1066.1 1040.2,1066.1 1043.2,1062.1 1046.2,1060.1 1049.2,1057.1 1052.2,1051.1 1054.2,1035.0 1056.2,1019.0 1058.2,1010.0 1060.2,1003.4 1063.2,1002.0 1065.2,1007.0 1067.2,1011.0 1068.6,1031.0 1070.2,1047.0 1071.4,1054.1" fill="none" stroke="#111" stroke-width="1.7" stroke-linejoin="round" stroke-linecap="round"/>
<line x1="150.4" y1="1100.5" x2="150.4" y2="1218.9" stroke="#454545" stroke-width="2.2"/>
<line x1="145.8" y1="1101.5" x2="150.4" y2="1101.5" stroke="#454545" stroke-width="2.2"/>
<text transform="translate(142.2,1111.4) scale(0.975,1.05)" text-anchor="end" class="tk">1.0</text>
<line x1="145.8" y1="1148.3" x2="150.4" y2="1148.3" stroke="#454545" stroke-width="2.2"/>
<text transform="translate(142.2,1158.2) scale(0.975,1.05)" text-anchor="end" class="tk">0.5</text>
<line x1="145.8" y1="1195.2" x2="150.4" y2="1195.2" stroke="#454545" stroke-width="2.2"/>
<text transform="translate(142.2,1205.1) scale(0.975,1.05)" text-anchor="end" class="tk">0.0</text>
<rect x="194.0" y="1205.7" width="880.0" height="13.2" fill="#000"/>
<rect x="226.6" y="1205.7" width="111.5" height="13.2" fill="url(#lg)"/>
<rect x="402.6" y="1205.7" width="111.5" height="13.2" fill="url(#lg)"/>
<rect x="578.6" y="1205.7" width="111.5" height="13.2" fill="url(#lg)"/>
<rect x="754.6" y="1205.7" width="111.5" height="13.2" fill="url(#lg)"/>
<rect x="930.6" y="1205.7" width="111.5" height="13.2" fill="url(#lg)"/>
<text x="1124.3" y="1167.9" class="pl">p3</text>
<path d="M196.4,1178.1 199.0,1180.5 201.0,1185.1 203.6,1188.1 206.4,1186.5 209.0,1190.5 212.0,1188.1 215.0,1188.5 218.0,1188.1 221.0,1186.1 223.0,1182.1 225.6,1183.1 228.0,1188.1 230.4,1191.1 234.0,1192.1 238.0,1194.7 243.6,1194.7 246.0,1189.1 249.0,1185.1 251.6,1183.7 254.0,1188.5 256.4,1180.1 259.0,1171.0 262.4,1169.0 264.4,1178.1 266.4,1185.7 269.0,1183.1 271.6,1180.5 274.1,1172.0 276.5,1166.0 279.1,1164.0 281.1,1170.0 283.1,1180.1 286.1,1186.5 288.1,1182.1 290.1,1175.0 292.5,1174.0 295.1,1176.0 297.7,1178.5 299.7,1175.6 303.1,1176.4 306.1,1181.1 308.5,1187.1 311.1,1191.1 314.1,1189.7 317.7,1185.1 320.5,1186.5 323.7,1185.1 327.1,1184.5 330.1,1188.1 333.1,1190.5 335.7,1186.1 337.7,1174.0 339.7,1160.0 341.7,1149.0 343.7,1145.6 345.7,1154.0 347.7,1164.0 349.7,1171.0 351.7,1166.0 354.1,1156.0 356.5,1147.6 358.5,1146.4 360.5,1152.0 362.5,1154.0 364.1,1150.4 366.1,1159.0 368.1,1156.0 370.1,1162.0 372.1,1168.0 374.1,1160.0 376.1,1152.0 378.5,1142.0 380.5,1135.6 383.1,1136.4 385.1,1139.0 387.1,1136.4 388.5,1144.0 390.5,1153.0 392.5,1160.0 394.5,1167.0 396.1,1161.0 398.1,1165.0 400.1,1170.0 402.1,1180.1 404.1,1187.1 405.7,1190.1 408.1,1185.1 411.1,1181.7 414.1,1181.1 417.1,1178.5 420.5,1179.1 422.1,1184.1 424.1,1190.1 427.1,1193.1 429.7,1192.1 432.1,1187.1 435.1,1186.1 438.1,1191.7 440.2,1184.1 442.6,1178.1 445.2,1174.0 447.8,1172.0 450.2,1171.0 452.2,1166.0 454.2,1173.0 456.6,1182.1 459.2,1191.1 461.8,1184.1 464.2,1174.0 467.2,1167.0 469.8,1171.0 473.2,1171.0 476.2,1165.0 478.6,1164.0 481.2,1176.0 484.2,1173.0 487.2,1171.0 488.6,1163.6 490.6,1171.0 493.4,1169.6 496.0,1174.0 498.6,1181.1 501.0,1188.1 503.0,1192.1 508.0,1192.7 509.4,1184.1 511.4,1176.0 513.4,1162.0 515.4,1153.0 518.0,1157.6 520.6,1159.0 523.0,1157.6 525.4,1150.4 528.0,1151.0 530.6,1158.0 533.0,1162.0 535.4,1160.0 538.0,1152.0 540.6,1146.4 543.0,1151.0 545.4,1156.0 548.0,1157.0 550.0,1148.0 552.0,1137.0 554.0,1127.6 556.0,1131.0 558.0,1139.0 560.6,1150.0 563.0,1162.0 565.4,1167.6 567.4,1158.0 569.5,1147.0 571.5,1141.0 573.5,1140.4 575.5,1147.0 577.5,1158.0 580.1,1171.0 582.7,1180.5 585.1,1173.0 587.5,1168.0 590.1,1162.0 593.1,1161.0 595.1,1168.0 597.1,1178.1 600.1,1187.1 603.1,1190.1 606.1,1191.7 608.7,1188.1 611.1,1185.1 613.1,1176.0 616.1,1171.0 618.1,1162.0 620.7,1156.0 623.1,1148.0 625.5,1140.0 628.1,1134.0 630.1,1139.0 632.1,1148.0 634.1,1156.0 637.1,1153.6 640.7,1153.6 642.7,1160.4 645.1,1160.0 647.1,1150.0 649.1,1142.0 651.5,1139.6 653.5,1144.0 655.5,1154.0 657.5,1164.0 660.7,1165.6 662.7,1158.0 665.1,1153.6 668.1,1153.0 669.5,1156.4 671.5,1150.0 674.1,1144.0 676.1,1142.0 678.1,1148.0 680.7,1158.0 683.1,1169.6 685.5,1168.0 687.5,1160.0 689.5,1148.0 692.1,1141.0 694.1,1144.0 696.1,1152.0 698.1,1157.0 700.7,1157.0 703.1,1150.0 705.1,1142.0 707.5,1135.0 710.1,1137.0 712.1,1136.0 714.1,1143.0 716.1,1140.0 718.1,1142.0 720.1,1153.0 722.7,1160.0 725.1,1163.0 727.1,1154.0 729.1,1139.0 731.5,1132.0 733.1,1131.0 735.2,1144.0 737.6,1158.0 740.2,1161.0 743.2,1164.0 745.6,1165.0 748.2,1172.0 751.2,1174.0 754.2,1166.0 757.2,1156.0 759.6,1147.0 762.2,1154.0 764.2,1149.0 766.8,1145.0 768.8,1134.0 770.2,1129.0 772.8,1133.0 775.6,1137.0 778.2,1134.0 780.8,1129.6 783.2,1131.0 784.4,1140.0 787.0,1145.0 789.6,1149.0 791.6,1147.0 793.6,1150.0 796.0,1144.0 799.0,1142.0 801.0,1133.6 803.0,1140.0 805.0,1142.0 807.0,1156.0 809.0,1167.6 811.6,1160.0 813.6,1148.0 815.6,1137.0 818.0,1133.0 820.4,1137.0 823.0,1137.6 825.0,1144.0 828.0,1145.0 831.0,1154.0 833.6,1163.0 836.0,1160.0 839.0,1152.0 841.6,1148.0 844.0,1143.0 847.0,1143.0 849.6,1143.0 851.6,1154.0 854.0,1163.0 857.0,1169.0 860.0,1172.0 862.4,1173.0 864.5,1169.6 866.5,1171.0 868.5,1169.6 871.1,1173.0 873.1,1164.0 875.1,1150.0 877.1,1139.0 879.1,1136.0 881.1,1144.0 883.1,1158.0 884.5,1166.0 886.5,1163.0 888.5,1160.0 891.1,1160.0 892.5,1170.0 895.1,1177.0 898.1,1183.1 901.1,1184.1 904.1,1187.7 907.1,1188.1 909.7,1185.1 911.7,1178.1 914.1,1180.1 916.5,1183.1 918.5,1190.1 921.1,1186.1 923.7,1180.1 926.1,1176.0 928.1,1168.0 930.1,1159.0 932.5,1158.0 935.1,1161.0 937.7,1168.0 940.5,1175.0 943.1,1179.1 945.7,1187.1 948.1,1186.5 950.1,1191.1 954.1,1194.1 957.1,1188.1 960.1,1184.1 963.7,1181.7 966.1,1185.1 968.5,1188.1 971.1,1194.7 980.1,1194.7 983.7,1191.1 987.1,1190.5 990.1,1192.1 993.1,1188.1 996.5,1186.1 999.1,1190.1 1001.7,1193.7 1004.1,1194.1 1006.1,1185.7 1009.1,1184.1 1011.7,1186.1 1013.7,1194.1 1017.1,1192.1 1021.1,1192.5 1023.7,1194.7 1027.1,1192.1 1031.8,1190.5 1035.2,1191.7 1039.2,1189.1 1042.2,1182.1 1045.2,1180.1 1048.6,1178.1 1051.8,1178.5 1054.6,1174.0 1057.2,1169.0 1059.2,1158.0 1061.2,1149.0 1063.2,1145.6 1065.2,1147.0 1067.2,1156.0 1069.2,1165.0 1071.2,1170.0" fill="none" stroke="#111" stroke-width="1.7" stroke-linejoin="round" stroke-linecap="round"/>
<line x1="150.4" y1="1227.5" x2="150.4" y2="1345.9" stroke="#454545" stroke-width="2.2"/>
<line x1="145.8" y1="1228.5" x2="150.4" y2="1228.5" stroke="#454545" stroke-width="2.2"/>
<text transform="translate(142.2,1238.4) scale(0.975,1.05)" text-anchor="end" class="tk">1.0</text>
<line x1="145.8" y1="1275.3" x2="150.4" y2="1275.3" stroke="#454545" stroke-width="2.2"/>
<text transform="translate(142.2,1285.2) scale(0.975,1.05)" text-anchor="end" class="tk">0.5</text>
<line x1="145.8" y1="1322.2" x2="150.4" y2="1322.2" stroke="#454545" stroke-width="2.2"/>
<text transform="translate(142.2,1332.1) scale(0.975,1.05)" text-anchor="end" class="tk">0.0</text>
<rect x="194.0" y="1332.7" width="880.0" height="13.2" fill="#000"/>
<rect x="226.6" y="1332.7" width="111.5" height="13.2" fill="url(#lg)"/>
<rect x="402.6" y="1332.7" width="111.5" height="13.2" fill="url(#lg)"/>
<rect x="578.6" y="1332.7" width="111.5" height="13.2" fill="url(#lg)"/>
<rect x="754.6" y="1332.7" width="111.5" height="13.2" fill="url(#lg)"/>
<rect x="930.6" y="1332.7" width="111.5" height="13.2" fill="url(#lg)"/>
<text x="1124.3" y="1294.9" class="pl">p4</text>
<path d="M196.4,1283.0 198.4,1282.0 200.4,1291.0 202.4,1297.0 204.4,1307.1 207.0,1308.7 209.6,1315.5 212.0,1312.7 215.0,1311.1 217.6,1307.5 220.0,1306.1 223.0,1299.4 225.6,1304.0 228.0,1308.1 231.0,1315.1 234.0,1318.1 238.0,1320.1 243.0,1322.1 245.6,1314.1 248.0,1303.0 251.0,1299.0 253.6,1296.0 256.0,1289.0 258.4,1280.0 260.4,1280.6 262.4,1285.0 265.0,1284.6 267.0,1288.0 269.0,1280.0 271.0,1281.0 273.0,1269.0 275.7,1265.0 277.7,1262.0 279.7,1271.0 281.7,1287.0 283.7,1297.0 286.1,1302.0 288.5,1297.0 290.5,1291.0 292.5,1290.0 294.1,1294.0 295.7,1290.0 298.1,1300.0 300.5,1297.0 303.1,1295.0 305.1,1283.0 307.1,1276.0 309.1,1278.0 311.1,1285.0 313.7,1293.0 316.5,1297.0 321.1,1297.0 323.1,1291.0 326.1,1285.0 328.5,1275.0 330.5,1280.0 332.5,1271.0 335.1,1262.0 337.1,1252.0 339.1,1244.0 341.1,1241.4 343.7,1245.0 346.5,1246.0 349.1,1252.0 351.7,1254.0 354.1,1251.0 357.1,1246.0 359.1,1243.0 361.1,1249.0 363.7,1256.0 365.7,1258.0 367.7,1267.0 370.1,1268.0 371.1,1274.0 373.1,1263.0 375.7,1264.0 377.7,1255.4 379.7,1258.0 381.7,1269.0 384.1,1270.0 386.5,1274.0 388.5,1267.0 391.1,1268.0 393.1,1274.6 395.1,1271.0 397.7,1275.0 399.7,1285.0 401.7,1299.0 403.7,1309.1 405.7,1315.5 408.1,1309.1 411.1,1307.1 414.1,1309.1 416.5,1301.0 419.1,1295.0 421.1,1291.4 423.1,1301.0 425.7,1313.1 427.7,1320.7 430.5,1319.1 433.7,1317.1 435.7,1305.1 437.7,1289.0 439.7,1278.0 441.8,1274.6 443.8,1280.0 445.8,1286.0 449.2,1284.0 452.2,1282.6 455.2,1281.0 457.8,1274.0 460.2,1269.0 462.2,1265.0 464.6,1270.0 467.2,1274.0 470.2,1273.4 474.2,1275.0 477.2,1273.4 480.2,1268.0 482.6,1266.0 485.8,1267.0 488.2,1274.0 489.0,1274.0 491.4,1272.0 494.0,1277.0 496.6,1278.0 499.0,1289.0 502.0,1282.0 504.6,1291.0 507.0,1291.4 509.4,1297.0 511.4,1285.0 513.4,1271.0 515.4,1258.0 517.4,1254.0 520.0,1254.0 523.0,1256.0 525.4,1258.0 527.0,1261.0 529.0,1254.6 531.4,1258.0 534.6,1260.0 536.6,1268.0 539.0,1267.4 541.0,1257.0 543.0,1256.0 545.0,1249.0 548.0,1246.6 550.0,1255.0 552.0,1271.0 554.0,1289.0 556.0,1305.1 558.0,1313.1 560.0,1301.0 562.0,1283.0 564.0,1268.0 566.0,1261.0 568.0,1264.0 570.1,1277.0 572.7,1293.0 575.1,1302.0 578.1,1306.7 580.1,1300.0 582.1,1292.0 583.5,1295.0 585.5,1285.0 587.1,1284.0 589.1,1294.0 591.1,1292.0 594.1,1284.0 596.7,1280.0 599.1,1287.0 601.5,1295.0 604.1,1303.0 606.1,1306.1 608.1,1301.0 610.7,1297.0 613.1,1286.0 616.1,1284.0 618.7,1277.0 621.1,1287.0 623.1,1285.4 625.1,1288.0 627.5,1283.0 630.1,1280.0 632.7,1271.0 634.7,1262.0 636.7,1257.0 639.1,1261.0 642.1,1264.6 645.1,1264.6 648.1,1262.6 650.7,1262.0 653.1,1256.0 655.5,1256.0 658.1,1263.0 660.7,1268.0 663.5,1265.4 666.1,1266.0 668.7,1272.0 671.5,1278.0 674.1,1271.0 676.1,1276.0 678.7,1271.0 680.7,1281.0 682.7,1286.0 684.1,1293.4 686.1,1288.0 688.7,1289.0 691.1,1277.0 693.1,1273.0 695.1,1268.0 697.1,1257.0 699.1,1251.4 701.5,1254.0 704.1,1255.4 706.7,1257.0 709.1,1258.0 712.1,1257.0 713.5,1260.0 715.5,1252.6 717.5,1262.0 719.5,1261.0 721.5,1279.0 723.5,1297.0 725.5,1309.1 727.5,1316.1 729.5,1301.0 731.5,1283.0 733.5,1263.0 735.6,1251.0 738.2,1249.0 740.2,1244.0 742.2,1240.0 744.8,1242.0 747.6,1244.6 749.6,1249.0 751.2,1249.0 753.2,1259.0 755.6,1268.0 757.2,1271.0 759.2,1287.0 761.2,1299.0 763.2,1311.1 764.8,1311.1 766.2,1297.0 768.2,1285.0 769.6,1277.0 771.6,1285.0 773.2,1291.4 775.2,1285.0 777.2,1275.0 778.8,1268.0 781.2,1266.0 783.6,1262.0 784.0,1260.0 786.0,1251.0 788.0,1241.0 791.0,1240.0 793.6,1246.0 796.0,1253.0 799.0,1256.0 801.0,1260.6 803.0,1256.0 805.0,1254.0 807.6,1244.0 810.0,1241.0 811.6,1251.0 813.6,1267.0 815.6,1283.0 818.0,1289.0 820.4,1276.0 823.0,1271.0 826.0,1278.0 828.4,1274.0 831.0,1264.0 833.6,1254.0 837.0,1256.0 839.6,1265.4 842.4,1264.0 845.0,1270.0 847.6,1267.4 849.6,1271.4 851.6,1264.0 854.4,1260.6 857.0,1257.4 859.0,1269.0 861.0,1279.0 864.1,1280.0 866.1,1264.0 868.1,1246.0 869.7,1243.0 871.7,1259.0 873.7,1279.0 875.7,1295.0 877.1,1300.0 879.1,1289.0 881.1,1273.0 883.1,1261.0 885.1,1257.0 887.1,1253.0 889.7,1248.0 892.1,1244.0 894.1,1247.0 896.5,1251.4 899.1,1248.6 901.7,1251.4 904.1,1252.0 906.5,1257.4 909.1,1251.4 911.1,1251.0 913.1,1257.0 915.7,1265.0 918.1,1272.0 920.5,1264.0 923.7,1263.0 925.7,1257.0 927.7,1254.0 930.1,1253.0 932.1,1256.0 934.1,1275.0 936.1,1291.0 938.1,1294.0 940.5,1298.0 943.1,1301.0 945.1,1314.1 948.1,1310.1 950.5,1316.1 953.1,1312.1 955.1,1311.1 957.1,1301.0 959.1,1298.0 960.5,1303.0 962.5,1297.0 964.5,1301.0 967.1,1295.0 969.1,1296.6 970.5,1305.1 972.5,1308.1 975.1,1317.1 978.1,1313.1 981.1,1312.1 984.1,1308.1 986.5,1305.1 988.5,1301.0 991.7,1298.0 994.5,1294.0 997.7,1290.6 999.7,1298.0 1002.1,1308.1 1004.5,1314.1 1007.1,1307.1 1009.7,1305.5 1011.7,1311.1 1013.7,1317.1 1017.1,1315.1 1020.1,1316.7 1023.1,1319.5 1026.1,1312.1 1029.1,1311.1 1031.8,1310.7 1034.2,1314.1 1036.6,1309.1 1038.6,1299.0 1040.6,1283.0 1042.6,1265.0 1044.6,1253.0 1046.6,1247.0 1049.2,1245.4 1051.2,1251.0 1053.2,1267.0 1055.2,1289.0 1057.2,1307.1 1058.6,1312.7 1062.2,1314.1 1064.2,1309.1 1066.2,1289.0 1068.2,1265.0 1069.6,1249.0 1071.2,1256.0" fill="none" stroke="#111" stroke-width="1.7" stroke-linejoin="round" stroke-linecap="round"/>
<line x1="150.4" y1="1354.5" x2="150.4" y2="1472.9" stroke="#454545" stroke-width="2.2"/>
<line x1="145.8" y1="1355.5" x2="150.4" y2="1355.5" stroke="#454545" stroke-width="2.2"/>
<text transform="translate(142.2,1365.4) scale(0.975,1.05)" text-anchor="end" class="tk">1.0</text>
<line x1="145.8" y1="1402.3" x2="150.4" y2="1402.3" stroke="#454545" stroke-width="2.2"/>
<text transform="translate(142.2,1412.2) scale(0.975,1.05)" text-anchor="end" class="tk">0.5</text>
<line x1="145.8" y1="1449.2" x2="150.4" y2="1449.2" stroke="#454545" stroke-width="2.2"/>
<text transform="translate(142.2,1459.1) scale(0.975,1.05)" text-anchor="end" class="tk">0.0</text>
<rect x="194.0" y="1459.7" width="880.0" height="13.2" fill="#000"/>
<rect x="226.6" y="1459.7" width="111.5" height="13.2" fill="url(#lg)"/>
<rect x="402.6" y="1459.7" width="111.5" height="13.2" fill="url(#lg)"/>
<rect x="578.6" y="1459.7" width="111.5" height="13.2" fill="url(#lg)"/>
<rect x="754.6" y="1459.7" width="111.5" height="13.2" fill="url(#lg)"/>
<rect x="930.6" y="1459.7" width="111.5" height="13.2" fill="url(#lg)"/>
<text x="1124.3" y="1421.9" class="pl">p5</text>
<path d="M196.4,1371.0 198.4,1378.0 200.4,1374.0 202.4,1373.0 204.0,1383.0 206.0,1379.0 208.0,1387.0 210.0,1397.0 212.4,1395.6 214.4,1398.0 216.0,1405.0 218.4,1406.0 220.0,1396.0 222.0,1383.0 224.0,1370.0 226.0,1367.0 228.0,1378.0 230.0,1394.0 232.4,1410.0 235.0,1422.0 237.6,1434.1 240.0,1436.1 243.0,1441.1 245.6,1432.1 248.0,1422.0 250.4,1421.0 253.0,1408.0 255.0,1396.0 257.0,1380.0 259.0,1372.0 261.6,1372.0 264.4,1369.0 267.0,1366.0 269.6,1367.0 272.0,1366.0 274.1,1370.0 276.5,1372.4 279.1,1371.0 281.1,1372.0 282.5,1381.0 285.1,1382.0 287.7,1379.0 291.1,1378.4 294.1,1378.0 296.1,1374.0 298.1,1373.0 299.7,1381.0 301.7,1383.6 303.7,1382.0 305.7,1374.0 308.1,1367.0 311.1,1365.0 313.7,1367.0 316.1,1370.4 318.5,1372.0 321.1,1368.4 323.7,1369.0 326.1,1377.0 328.5,1385.0 329.7,1386.4 331.7,1376.0 333.7,1370.0 336.1,1369.0 338.1,1377.0 340.5,1379.0 343.1,1378.0 345.1,1370.0 347.1,1363.6 349.1,1362.4 351.1,1370.0 353.7,1374.0 356.1,1379.0 358.5,1385.0 361.1,1384.0 363.1,1386.0 365.1,1375.0 367.1,1373.0 369.1,1374.0 371.1,1362.4 373.1,1370.0 375.1,1382.0 377.1,1394.0 378.5,1402.0 380.1,1401.0 381.7,1412.0 383.7,1418.0 385.1,1412.0 387.1,1427.0 389.1,1408.0 391.1,1394.4 392.5,1402.0 394.1,1400.0 396.1,1409.0 397.7,1406.0 399.1,1416.0 401.1,1408.0 403.1,1404.0 404.5,1414.0 407.1,1418.0 410.1,1418.0 413.1,1416.0 415.7,1412.0 418.1,1400.0 420.1,1391.0 421.7,1391.0 423.7,1402.0 425.7,1418.0 427.7,1432.1 429.7,1436.1 433.1,1434.5 435.1,1426.0 437.1,1412.0 439.1,1396.0 441.2,1384.0 443.8,1377.6 446.2,1375.0 449.2,1374.0 450.6,1370.4 452.6,1379.0 454.6,1384.0 457.2,1386.0 459.2,1389.0 461.2,1385.0 464.2,1385.0 466.2,1389.0 468.2,1380.4 470.6,1379.6 473.2,1383.0 475.8,1387.6 478.2,1386.0 480.2,1376.4 481.8,1375.0 484.2,1379.0 487.2,1384.0 488.0,1385.0 490.6,1381.0 493.4,1382.0 496.0,1377.0 498.6,1371.0 501.0,1368.0 504.0,1366.0 506.6,1364.0 508.6,1361.0 510.0,1370.0 512.0,1376.0 514.0,1396.0 516.0,1411.0 517.4,1404.0 519.4,1411.0 521.4,1404.0 524.0,1398.0 527.0,1396.4 529.4,1385.0 531.4,1383.0 533.0,1380.0 535.0,1390.0 537.4,1404.0 540.0,1411.0 542.0,1398.0 544.6,1388.0 547.4,1394.0 549.4,1410.0 551.4,1428.0 554.0,1445.1 558.0,1447.1 560.0,1436.1 562.0,1420.0 564.0,1408.0 566.0,1401.0 568.0,1405.0 570.1,1416.0 572.7,1430.0 574.7,1434.5 576.7,1420.0 578.7,1416.0 580.7,1402.0 582.1,1391.0 584.1,1390.0 586.7,1383.6 588.1,1392.0 590.1,1410.0 593.1,1412.4 595.1,1398.0 597.5,1384.0 599.5,1383.0 601.5,1389.0 603.5,1392.0 606.1,1390.0 608.1,1388.0 610.1,1380.0 612.7,1375.6 614.7,1375.0 616.7,1388.0 618.7,1408.0 621.1,1428.0 624.1,1433.7 626.1,1429.0 628.7,1428.0 630.7,1418.0 632.7,1412.0 635.1,1414.0 637.1,1411.0 639.1,1411.0 641.1,1398.0 643.1,1390.0 645.1,1389.0 647.5,1393.0 650.1,1396.0 653.1,1401.0 656.1,1398.0 659.1,1396.4 662.1,1399.0 664.7,1404.0 667.1,1400.4 669.5,1400.0 672.1,1404.4 674.7,1405.0 677.1,1412.0 680.1,1420.0 682.1,1428.0 684.1,1434.5 686.1,1428.0 688.7,1428.0 691.1,1424.0 693.1,1427.0 695.1,1420.0 697.1,1406.0 699.1,1399.0 701.5,1397.0 704.1,1402.0 706.1,1411.0 708.7,1413.0 710.7,1409.0 712.7,1414.0 714.7,1405.0 716.1,1397.0 718.1,1405.0 720.1,1402.0 722.1,1416.0 724.1,1430.0 726.1,1439.1 728.1,1444.1 730.1,1436.1 732.1,1420.0 734.1,1402.0 736.2,1388.0 738.8,1384.4 741.2,1378.0 744.2,1374.0 746.8,1368.4 749.6,1367.0 752.2,1364.0 754.2,1372.0 756.2,1388.0 758.2,1408.0 760.2,1428.0 762.2,1441.1 764.2,1442.1 766.2,1432.1 768.2,1425.0 769.6,1421.0 771.6,1428.0 773.6,1435.1 776.2,1432.1 779.2,1427.0 782.2,1420.0 783.6,1417.0 785.6,1402.0 787.6,1390.0 790.0,1387.6 793.0,1379.6 795.0,1391.0 797.6,1397.0 799.6,1408.0 801.0,1420.0 803.0,1405.0 805.0,1400.0 807.6,1383.6 809.6,1386.0 811.6,1402.0 813.6,1418.0 815.6,1434.1 818.0,1439.7 820.4,1432.1 823.0,1430.0 826.0,1425.0 829.0,1412.0 831.6,1399.0 833.6,1388.0 836.4,1391.0 839.6,1393.0 843.0,1398.0 846.0,1402.0 849.0,1407.0 851.6,1393.0 854.0,1391.0 856.4,1388.0 858.4,1391.0 860.0,1406.0 862.4,1415.0 865.1,1420.4 867.7,1416.0 869.7,1403.0 871.1,1402.0 872.5,1413.0 874.5,1420.0 876.1,1429.0 878.1,1438.1 880.1,1424.0 882.1,1408.0 883.7,1402.4 885.7,1412.0 889.1,1416.0 891.1,1404.0 893.1,1388.0 896.1,1383.6 898.1,1396.0 900.1,1393.0 902.1,1382.0 904.1,1386.0 906.5,1380.0 909.1,1388.0 911.7,1389.0 914.5,1385.0 917.1,1380.0 919.1,1369.0 921.7,1369.0 924.5,1376.0 927.1,1384.0 929.1,1376.0 931.7,1369.0 934.5,1369.0 937.1,1375.0 939.1,1384.0 941.1,1398.0 943.1,1412.0 945.1,1424.0 947.1,1414.0 950.1,1408.0 952.5,1398.0 955.1,1398.0 957.1,1388.0 959.1,1382.0 960.5,1387.0 962.5,1376.0 965.1,1380.4 967.1,1377.0 969.1,1388.0 971.7,1390.0 974.1,1396.0 976.5,1399.0 979.1,1397.0 981.1,1389.0 983.1,1381.0 985.7,1374.0 987.7,1372.0 990.1,1376.0 992.1,1375.0 995.1,1384.0 997.7,1380.4 999.1,1390.0 1001.7,1396.0 1004.1,1412.0 1006.5,1404.0 1008.5,1410.0 1011.1,1416.0 1013.1,1422.0 1015.7,1410.0 1018.1,1400.4 1021.1,1402.0 1023.7,1407.0 1026.1,1396.0 1029.1,1388.0 1032.2,1391.0 1036.2,1397.0 1038.2,1387.0 1040.2,1380.4 1042.6,1388.0 1044.2,1390.0 1046.2,1403.0 1049.2,1391.0 1051.2,1386.0 1053.2,1396.0 1055.2,1416.0 1057.2,1436.1 1058.6,1449.1 1062.2,1449.1 1065.2,1446.1 1067.2,1442.1 1069.2,1432.1 1070.6,1429.6" fill="none" stroke="#111" stroke-width="1.7" stroke-linejoin="round" stroke-linecap="round"/>
<line x1="149.5" y1="1472.9" x2="1118" y2="1472.9" stroke="#454545" stroke-width="2.2"/>
<line x1="194.0" y1="1472.9" x2="194.0" y2="1477.5" stroke="#454545" stroke-width="2.2"/>
<text x="194.1" y="1499.2" text-anchor="middle" class="tk">0</text>
<line x1="370.0" y1="1472.9" x2="370.0" y2="1477.5" stroke="#454545" stroke-width="2.2"/>
<text x="370.1" y="1499.2" text-anchor="middle" class="tk">24</text>
<line x1="546.0" y1="1472.9" x2="546.0" y2="1477.5" stroke="#454545" stroke-width="2.2"/>
<text x="546.1" y="1499.2" text-anchor="middle" class="tk">48</text>
<line x1="722.0" y1="1472.9" x2="722.0" y2="1477.5" stroke="#454545" stroke-width="2.2"/>
<text x="722.1" y="1499.2" text-anchor="middle" class="tk">72</text>
<line x1="898.0" y1="1472.9" x2="898.0" y2="1477.5" stroke="#454545" stroke-width="2.2"/>
<text x="898.1" y="1499.2" text-anchor="middle" class="tk">96</text>
<line x1="1074.0" y1="1472.9" x2="1074.0" y2="1477.5" stroke="#454545" stroke-width="2.2"/>
<text x="1074.1" y="1499.2" text-anchor="middle" class="tk">120</text>
<line x1="1263.7" y1="118.6" x2="1263.7" y2="236.8" stroke="#454545" stroke-width="2.2"/>
<line x1="1259.1000000000001" y1="127.7" x2="1263.7" y2="127.7" stroke="#454545" stroke-width="2.2"/>
<text transform="translate(1255.5,137.6) scale(0.975,1.05)" text-anchor="end" class="tk">1.0</text>
<line x1="1259.1000000000001" y1="177.6" x2="1263.7" y2="177.6" stroke="#454545" stroke-width="2.2"/>
<text transform="translate(1255.5,187.5) scale(0.975,1.05)" text-anchor="end" class="tk">0.5</text>
<line x1="1259.1000000000001" y1="227.4" x2="1263.7" y2="227.4" stroke="#454545" stroke-width="2.2"/>
<text transform="translate(1255.5,237.3) scale(0.975,1.05)" text-anchor="end" class="tk">0.0</text>
<path d="M1335.8,198.6h0M1330.9,213.1h0M1339.0,165.7h0M1332.1,221.6h0M1329.8,173.0h0M1328.4,193.3h0M1329.0,219.0h0M1334.1,173.7h0M1339.7,226.5h0M1330.9,181.7h0M1337.3,224.9h0M1320.8,220.7h0M1319.7,188.8h0M1319.7,146.6h0M1336.0,214.1h0M1321.6,207.7h0M1333.2,170.2h0M1338.3,129.8h0M1323.1,167.4h0M1327.2,190.0h0M1340.8,127.6h0M1321.7,224.3h0M1329.9,145.7h0M1322.5,204.3h0M1334.6,220.0h0M1330.7,218.5h0M1318.4,201.9h0M1332.4,149.2h0M1319.5,208.8h0M1336.1,166.8h0M1320.4,168.2h0M1318.9,190.4h0M1324.2,176.8h0M1327.7,218.9h0M1336.8,224.7h0M1321.4,207.4h0M1331.1,161.1h0M1320.1,190.0h0M1333.8,200.4h0M1319.7,166.8h0M1332.6,180.6h0M1319.9,198.5h0M1319.5,148.8h0M1328.4,162.7h0M1330.7,204.3h0M1324.2,174.6h0M1330.1,177.7h0M1320.5,145.3h0M1319.2,161.3h0M1325.2,204.6h0M1335.5,131.8h0M1329.5,220.7h0M1326.0,191.5h0M1323.8,160.4h0M1334.9,214.8h0M1322.4,179.1h0M1339.5,227.6h0M1336.8,164.4h0M1329.4,152.5h0M1327.0,171.5h0M1333.8,138.2h0M1325.9,197.0h0M1334.3,160.4h0M1327.3,171.1h0M1319.3,174.2h0M1319.6,180.7h0M1323.9,149.4h0M1319.9,131.3h0M1338.0,179.2h0M1324.5,166.3h0M1324.7,222.9h0M1321.6,161.5h0M1324.1,161.6h0M1340.4,128.1h0M1323.6,144.7h0M1325.1,204.6h0M1318.0,192.2h0M1328.9,163.7h0M1322.6,225.6h0M1318.1,184.2h0M1320.1,214.9h0M1319.0,222.2h0M1325.0,225.0h0M1331.5,154.7h0M1335.3,215.7h0M1334.5,204.4h0M1327.0,192.1h0M1340.6,145.8h0M1334.7,219.7h0M1319.0,180.8h0M1338.5,172.4h0M1334.9,138.7h0M1321.2,148.8h0M1329.6,140.8h0M1336.5,201.3h0M1331.4,184.3h0M1333.7,192.8h0M1323.3,145.3h0M1321.1,133.9h0M1320.4,212.5h0M1330.8,212.2h0M1332.4,207.4h0M1329.3,213.0h0M1336.3,177.2h0M1329.6,170.0h0M1333.2,209.7h0M1334.9,229.2h0M1319.7,189.3h0M1334.8,195.7h0M1335.0,168.0h0M1329.4,134.2h0M1329.0,160.4h0M1335.6,175.3h0M1332.8,171.6h0M1321.4,165.3h0M1335.1,224.8h0M1331.1,143.7h0M1319.4,155.6h0M1333.5,140.8h0M1333.5,153.3h0M1329.9,190.7h0M1328.7,192.9h0M1338.6,221.7h0M1340.5,162.8h0M1318.4,222.8h0M1336.9,218.0h0M1328.3,212.7h0M1322.8,210.6h0M1322.8,196.0h0M1321.3,223.0h0M1339.9,230.5h0M1336.9,215.3h0M1338.4,217.6h0M1323.3,190.5h0M1329.2,229.4h0M1318.1,142.6h0M1328.4,169.9h0M1321.2,216.9h0M1325.3,204.3h0M1318.0,193.7h0M1337.3,197.1h0M1339.3,215.8h0M1338.7,147.3h0M1326.6,129.4h0M1341.0,180.9h0M1326.3,180.1h0M1324.3,224.4h0M1320.3,216.4h0M1324.6,192.6h0M1323.7,207.7h0M1329.8,150.5h0M1326.6,210.6h0M1338.3,222.9h0M1332.5,129.9h0M1339.6,174.8h0M1334.6,219.6h0M1334.8,174.4h0M1335.3,224.0h0M1324.6,179.1h0M1339.3,133.4h0M1328.9,145.1h0M1324.8,159.5h0M1340.5,208.2h0M1333.1,195.2h0M1330.8,215.0h0M1321.8,157.4h0M1322.8,171.4h0M1329.4,156.1h0M1338.8,193.7h0M1328.3,212.7h0M1322.4,153.4h0M1325.9,133.0h0M1323.5,147.1h0M1331.1,147.2h0M1335.2,149.8h0M1327.5,157.7h0M1326.7,210.7h0M1319.4,178.0h0M1340.3,198.0h0M1329.6,224.0h0M1337.8,227.6h0M1324.2,206.1h0M1327.2,206.8h0M1339.9,158.8h0M1338.1,136.9h0M1318.7,182.1h0M1338.6,135.3h0M1331.5,133.4h0M1327.0,129.3h0M1337.0,190.7h0M1340.4,212.0h0M1320.5,212.3h0M1330.0,210.1h0M1339.7,209.2h0M1332.9,165.1h0M1328.5,139.0h0M1318.9,144.1h0M1323.3,176.4h0M1332.8,166.7h0M1320.9,153.4h0M1332.6,218.9h0M1320.6,168.1h0M1330.1,137.6h0M1326.9,155.7h0M1331.8,161.3h0M1324.9,180.5h0M1340.1,211.9h0M1338.3,152.7h0M1323.4,199.8h0M1340.1,149.4h0M1325.1,135.1h0M1329.5,188.5h0M1327.7,191.4h0M1333.3,130.3h0M1323.2,163.2h0M1325.8,214.5h0M1333.7,219.9h0M1336.3,213.3h0M1329.6,141.4h0M1340.3,152.1h0M1336.9,218.0h0M1323.1,145.9h0M1324.8,126.1h0M1329.4,167.4h0M1323.1,196.2h0M1333.3,169.7h0M1321.4,217.9h0M1322.9,222.2h0M1321.3,135.0h0M1319.4,166.2h0M1338.7,172.1h0M1334.9,131.2h0M1339.4,186.9h0M1322.3,139.1h0M1335.2,152.2h0M1333.3,211.6h0M1326.6,208.7h0M1321.9,206.6h0M1324.4,209.5h0M1340.0,173.7h0M1340.2,208.8h0M1326.2,184.5h0M1336.9,217.5h0M1319.1,138.5h0M1326.6,191.4h0M1322.4,183.7h0M1338.6,174.8h0M1327.4,136.3h0M1335.6,191.0h0M1318.8,141.1h0M1339.2,179.5h0M1335.2,171.5h0M1325.8,177.6h0M1340.0,224.9h0M1324.0,182.9h0M1325.3,214.7h0M1318.1,224.9h0M1339.1,150.2h0M1339.7,217.7h0M1323.4,180.9h0M1340.0,155.2h0M1326.9,175.1h0M1327.9,198.4h0M1339.3,178.8h0M1336.5,171.0h0M1336.9,150.7h0M1332.0,220.4h0M1325.3,173.8h0M1336.0,211.2h0M1322.5,202.1h0" stroke="#555555" stroke-opacity="0.6" stroke-width="1.9" stroke-linecap="round" fill="none"/>
<path d="M1438.7,127.0h0M1438.8,126.3h0M1439.3,128.2h0M1429.5,126.7h0M1440.3,130.0h0M1446.6,125.3h0M1439.5,130.4h0M1439.9,131.1h0M1432.0,128.3h0M1431.1,128.2h0M1440.7,131.6h0M1443.6,131.3h0M1445.9,125.3h0M1440.8,131.5h0M1440.6,128.7h0M1450.9,130.8h0M1448.7,123.4h0M1445.8,125.0h0M1433.5,123.6h0M1440.3,123.8h0M1450.1,130.6h0M1447.1,124.0h0M1430.5,129.0h0M1446.4,130.6h0M1449.6,129.6h0M1447.8,130.8h0M1440.6,124.1h0M1433.8,129.7h0M1440.6,129.3h0M1429.8,130.4h0M1432.7,124.0h0M1444.6,124.3h0M1432.9,125.3h0M1431.6,127.4h0M1443.6,128.9h0M1449.1,127.2h0M1442.3,124.4h0M1431.4,123.5h0M1443.5,128.6h0M1447.3,129.7h0M1451.8,127.0h0M1437.3,125.4h0M1439.2,130.5h0M1446.1,131.6h0M1447.9,129.8h0M1443.7,123.5h0M1442.5,126.3h0M1436.2,132.0h0M1429.8,130.7h0M1443.2,128.3h0M1440.8,124.3h0M1432.0,130.0h0M1444.0,131.8h0M1429.1,128.9h0M1431.4,128.9h0M1434.2,127.0h0M1442.5,130.2h0M1443.4,127.9h0M1432.1,124.0h0M1434.6,130.7h0M1431.2,126.5h0M1449.0,125.3h0M1438.2,129.7h0M1429.3,126.5h0M1441.9,129.0h0M1443.8,128.2h0M1450.6,125.7h0M1434.7,124.2h0M1430.0,127.4h0M1438.3,129.9h0M1430.3,125.3h0M1429.3,127.3h0M1450.6,130.8h0M1433.6,126.8h0M1440.7,126.5h0M1447.7,130.5h0M1436.1,129.4h0M1430.1,124.4h0M1447.0,125.9h0M1429.1,124.7h0M1446.1,128.0h0M1446.1,128.1h0M1434.2,131.1h0M1434.3,131.7h0M1436.7,125.6h0M1445.0,124.7h0M1445.4,129.7h0M1441.7,128.2h0M1447.1,127.5h0M1435.1,126.5h0M1451.2,130.1h0M1449.2,131.9h0M1435.0,130.0h0M1446.1,123.9h0M1446.2,129.2h0M1449.2,129.2h0M1434.5,124.2h0M1443.5,126.0h0M1444.3,123.6h0M1439.8,124.8h0M1445.0,124.6h0M1439.1,125.8h0M1442.1,129.3h0M1433.9,126.6h0M1430.8,124.2h0M1432.3,131.8h0M1431.5,124.0h0M1436.9,130.8h0M1429.7,131.6h0M1444.9,126.6h0M1445.0,125.7h0M1430.5,126.9h0M1437.4,125.0h0M1447.8,124.3h0M1430.5,124.5h0M1450.0,123.9h0M1431.5,130.2h0M1431.6,131.7h0M1448.5,125.0h0M1443.6,124.9h0M1443.5,129.5h0M1431.3,131.1h0M1446.4,130.2h0M1436.3,128.4h0M1429.5,129.8h0M1435.5,125.9h0M1437.5,129.2h0M1451.2,127.7h0M1448.6,126.7h0M1429.7,128.4h0M1439.0,125.4h0M1437.0,125.9h0M1441.4,130.1h0M1448.8,131.2h0M1447.9,130.5h0M1429.0,130.3h0M1446.5,123.6h0M1429.1,127.8h0M1440.3,125.2h0M1433.2,127.7h0M1437.0,124.9h0M1435.0,123.9h0M1435.5,130.1h0M1445.1,127.7h0M1431.5,126.5h0M1430.9,125.2h0M1445.0,125.2h0M1443.4,128.9h0M1438.2,128.6h0M1449.5,131.2h0M1449.4,131.8h0M1433.7,129.7h0M1449.7,127.7h0M1437.7,124.4h0M1434.4,128.0h0M1441.2,125.5h0M1446.3,126.4h0M1437.0,129.2h0M1432.6,124.8h0M1444.2,125.6h0M1432.9,128.2h0M1446.8,127.0h0M1431.9,128.0h0M1449.4,129.9h0M1433.4,129.4h0M1445.2,124.8h0M1432.6,130.6h0M1434.7,129.2h0M1441.0,130.6h0M1436.5,130.4h0M1451.4,125.7h0M1431.3,123.7h0M1431.3,128.7h0M1451.6,125.2h0M1445.9,128.3h0M1433.5,126.5h0M1431.5,130.2h0M1437.9,131.7h0M1438.2,125.2h0M1444.9,127.7h0M1443.5,128.0h0M1432.3,126.8h0M1438.3,125.6h0M1449.9,128.3h0M1442.2,125.6h0M1438.7,130.0h0M1445.6,124.4h0M1446.8,126.0h0M1448.6,126.2h0M1443.8,128.1h0M1436.2,126.6h0M1431.3,128.4h0M1447.0,125.9h0M1443.5,129.8h0M1438.7,128.1h0M1443.3,128.5h0M1444.5,124.0h0M1433.2,126.4h0M1446.9,128.7h0M1440.3,123.6h0M1429.9,127.3h0M1432.7,125.3h0M1450.6,127.5h0M1431.3,127.1h0M1441.4,125.8h0M1440.8,126.5h0M1448.1,127.5h0M1438.4,123.9h0M1433.8,126.1h0M1438.0,125.4h0M1431.8,123.5h0M1437.2,131.5h0M1435.3,128.6h0M1429.3,128.4h0M1438.7,126.0h0M1437.1,129.7h0M1434.2,125.6h0M1450.6,127.5h0M1434.0,125.1h0M1438.0,130.2h0M1432.0,125.3h0M1447.6,126.5h0M1439.8,127.2h0M1434.2,123.7h0M1437.1,126.5h0M1447.8,125.0h0M1439.8,129.5h0M1441.6,130.9h0M1448.2,128.9h0M1448.6,129.7h0M1437.7,143.9h0M1438.8,132.6h0M1429.1,126.7h0M1435.5,173.3h0M1435.9,148.6h0M1438.9,223.5h0M1444.2,212.7h0M1450.4,222.7h0M1430.3,140.4h0M1449.8,128.4h0M1432.2,128.6h0M1443.6,169.5h0M1429.3,185.5h0M1444.1,162.1h0M1431.3,143.8h0M1434.4,154.6h0M1437.0,181.8h0M1449.8,182.6h0M1432.9,190.7h0M1443.0,204.3h0M1444.4,180.6h0M1447.1,130.0h0M1433.5,204.3h0M1441.2,143.6h0M1439.1,169.5h0M1441.8,154.8h0M1434.4,196.0h0M1440.3,141.9h0M1439.7,144.9h0M1440.3,141.7h0M1441.4,131.8h0M1429.2,208.7h0M1439.8,173.5h0M1444.3,145.6h0M1437.6,155.7h0M1451.1,230.0h0M1443.7,165.1h0M1429.7,139.6h0M1444.7,198.0h0M1436.6,178.5h0M1440.7,226.3h0M1449.6,135.8h0M1445.5,161.8h0M1436.8,200.0h0M1437.4,206.1h0M1441.1,213.3h0M1433.8,129.4h0M1438.7,145.2h0M1448.0,134.6h0M1448.0,138.2h0M1440.6,225.6h0M1440.6,170.5h0M1444.1,215.3h0M1436.6,154.3h0M1435.9,208.5h0M1443.6,157.8h0M1429.9,140.9h0M1449.4,197.4h0M1430.1,221.6h0M1429.1,134.7h0M1450.2,175.1h0M1444.1,176.3h0M1449.9,138.5h0M1443.2,151.3h0M1445.0,133.3h0M1444.7,140.9h0M1444.3,142.8h0M1446.5,179.8h0M1433.2,186.4h0M1446.8,134.9h0M1444.1,129.0h0M1447.9,146.1h0M1441.9,187.7h0M1435.9,137.8h0M1436.3,147.8h0M1443.8,134.7h0M1430.3,199.5h0M1429.9,173.9h0M1447.6,129.1h0M1450.1,132.2h0M1429.3,155.9h0M1442.6,167.1h0M1451.6,181.2h0M1438.5,134.6h0M1443.8,138.1h0M1432.5,191.8h0M1429.1,154.7h0M1431.8,140.8h0M1431.0,143.7h0M1432.0,225.1h0M1445.5,149.5h0M1445.9,175.4h0M1430.2,148.9h0M1445.4,153.9h0M1445.8,212.5h0M1443.5,225.1h0M1439.6,148.2h0M1434.8,134.0h0M1445.5,195.8h0M1429.3,137.2h0M1447.8,131.4h0M1436.2,212.0h0M1432.8,154.6h0M1440.2,207.0h0M1437.5,155.3h0M1439.1,209.9h0M1432.3,158.9h0M1437.4,134.3h0M1443.5,128.7h0M1437.9,168.6h0M1450.7,178.7h0M1442.0,216.8h0M1430.4,127.0h0M1445.2,176.2h0M1436.6,151.7h0M1451.5,163.1h0M1442.8,136.1h0M1438.9,141.4h0M1437.7,166.2h0M1442.8,213.8h0M1447.6,134.0h0M1429.0,166.5h0M1438.7,200.5h0M1447.8,219.5h0M1430.0,135.1h0M1447.7,130.1h0M1442.2,221.5h0M1448.6,221.4h0M1444.7,160.1h0M1437.0,132.9h0M1441.7,214.7h0M1433.6,152.0h0M1450.4,216.6h0M1443.0,177.3h0M1439.7,206.3h0M1434.9,133.2h0M1447.2,199.2h0M1431.0,137.2h0M1446.8,158.1h0M1442.3,203.2h0M1449.4,204.2h0M1440.0,136.2h0M1433.4,142.2h0M1433.2,153.6h0M1437.3,166.8h0M1438.3,153.6h0M1432.4,136.9h0M1451.9,142.9h0M1431.4,190.1h0M1447.1,216.3h0M1442.7,130.2h0M1440.9,176.3h0M1429.8,191.1h0M1448.9,128.8h0M1442.0,207.6h0M1446.9,133.3h0M1450.8,174.1h0M1447.8,166.9h0M1434.8,183.5h0M1433.6,149.5h0" stroke="#a6c3fa" stroke-opacity="0.95" stroke-width="2.3" stroke-linecap="round" fill="none"/>
<line x1="1329.5" y1="127.7" x2="1329.5" y2="157.1" stroke="#444" stroke-width="1.4"/>
<line x1="1329.5" y1="207.5" x2="1329.5" y2="227.4" stroke="#444" stroke-width="1.4"/>
<rect x="1312.5" y="157.1" width="34.0" height="50.3" fill="none" stroke="#505050" stroke-width="1.15"/>
<line x1="1312.5" y1="177.6" x2="1346.5" y2="177.6" stroke="#2b2b2b" stroke-width="2.15"/>
<line x1="1423.5" y1="127.7" x2="1457.5" y2="127.7" stroke="#2b2b2b" stroke-width="2.15"/>
<line x1="1357" y1="121.2" x2="1413" y2="121.2" stroke="#4a4a4a" stroke-width="1.5"/>
<path d="M1371.1,108.5V115.9M1367.1,110.3L1375.1,114.1M1367.1,114.1L1375.1,110.3M1382.3,108.5V115.9M1378.3,110.3L1386.3,114.1M1378.3,114.1L1386.3,110.3M1393.5,108.5V115.9M1389.5,110.3L1397.5,114.1M1389.5,114.1L1397.5,110.3" stroke="#555" stroke-width="1.50" fill="none" stroke-linecap="round"/>
<line x1="1263.7" y1="246.1" x2="1263.7" y2="362.4" stroke="#454545" stroke-width="2.2"/>
<line x1="1259.1000000000001" y1="254.4" x2="1263.7" y2="254.4" stroke="#454545" stroke-width="2.2"/>
<text transform="translate(1255.5,264.3) scale(0.975,1.05)" text-anchor="end" class="tk">1.0</text>
<line x1="1259.1000000000001" y1="304.3" x2="1263.7" y2="304.3" stroke="#454545" stroke-width="2.2"/>
<text transform="translate(1255.5,314.2) scale(0.975,1.05)" text-anchor="end" class="tk">0.5</text>
<line x1="1259.1000000000001" y1="354.1" x2="1263.7" y2="354.1" stroke="#454545" stroke-width="2.2"/>
<text transform="translate(1255.5,364.0) scale(0.975,1.05)" text-anchor="end" class="tk">0.0</text>
<path d="M1330.3,347.2h0M1320.9,351.2h0M1324.8,300.5h0M1324.6,272.1h0M1320.0,307.2h0M1337.3,259.8h0M1331.1,263.9h0M1322.6,344.7h0M1328.6,296.1h0M1332.1,312.7h0M1325.1,342.0h0M1323.1,259.2h0M1326.8,322.9h0M1318.3,300.4h0M1337.8,295.3h0M1330.8,259.7h0M1324.6,286.6h0M1324.8,310.5h0M1321.6,312.1h0M1338.0,335.6h0M1319.4,259.5h0M1328.1,253.4h0M1320.5,330.0h0M1340.1,347.5h0M1321.6,325.2h0M1326.1,314.6h0M1332.2,263.1h0M1336.9,265.7h0M1335.0,271.8h0M1335.5,348.7h0M1336.1,278.2h0M1339.0,290.8h0M1338.0,296.9h0M1335.6,255.5h0M1329.5,343.5h0M1331.2,337.5h0M1336.0,280.6h0M1332.0,262.7h0M1328.4,290.6h0M1334.6,322.1h0M1327.0,296.5h0M1326.8,284.9h0M1336.1,338.5h0M1329.5,318.8h0M1322.2,325.4h0M1321.3,338.7h0M1331.4,309.3h0M1339.2,335.5h0M1337.4,322.7h0M1340.1,339.6h0M1327.8,286.6h0M1318.2,356.5h0M1331.0,287.0h0M1339.2,328.5h0M1330.4,345.6h0M1329.9,263.0h0M1333.8,328.7h0M1326.2,261.5h0M1326.1,266.6h0M1333.6,267.5h0M1320.3,338.5h0M1327.2,308.0h0M1331.2,339.3h0M1340.2,263.1h0M1328.1,272.3h0M1340.9,295.4h0M1330.2,305.4h0M1321.9,318.6h0M1340.5,272.8h0M1329.8,309.4h0M1338.6,292.4h0M1336.9,332.9h0M1338.4,328.3h0M1321.6,349.2h0M1329.8,287.2h0M1322.3,302.8h0M1332.5,336.0h0M1326.1,265.7h0M1332.6,326.9h0M1327.5,308.9h0M1325.1,333.9h0M1318.1,324.2h0M1337.4,272.9h0M1333.4,320.1h0M1329.5,333.6h0M1324.1,303.8h0M1330.2,314.5h0M1331.2,266.8h0M1320.8,343.4h0M1335.5,260.4h0M1320.3,350.2h0M1330.0,264.2h0M1332.1,288.2h0M1319.4,333.1h0M1335.7,307.6h0M1334.5,322.6h0M1321.9,325.6h0M1320.3,326.6h0M1331.4,316.4h0M1328.3,256.5h0M1319.3,251.3h0M1331.4,259.5h0M1328.1,341.4h0M1323.7,325.0h0M1339.4,263.8h0M1325.2,343.9h0M1336.8,287.9h0M1331.9,316.8h0M1329.4,253.2h0M1323.6,353.2h0M1334.5,279.9h0M1325.1,313.8h0M1329.1,334.9h0M1323.6,356.7h0M1326.2,277.2h0M1340.3,304.0h0M1330.9,335.2h0M1330.3,310.4h0M1327.3,268.7h0M1320.8,325.2h0M1326.1,300.8h0M1322.4,339.5h0M1323.5,336.6h0M1333.3,283.3h0M1321.6,285.7h0M1320.1,332.6h0M1337.2,347.9h0M1328.2,340.8h0M1336.5,298.6h0M1326.1,302.8h0M1326.7,318.4h0M1322.8,325.6h0M1329.6,297.7h0M1328.4,290.9h0M1334.2,279.0h0M1338.7,296.9h0M1326.5,332.1h0M1332.0,348.8h0M1338.1,289.0h0M1329.8,311.3h0M1324.2,284.3h0M1326.9,346.2h0M1331.1,278.7h0M1327.0,321.0h0M1322.1,270.4h0M1325.4,269.3h0M1320.5,304.3h0M1326.3,352.3h0M1324.8,268.9h0M1325.2,308.5h0M1320.9,267.9h0M1324.5,323.8h0M1338.9,329.5h0M1338.3,271.5h0M1321.0,316.8h0M1318.7,333.1h0M1333.3,315.8h0M1327.5,295.4h0M1334.1,355.8h0M1337.5,304.0h0M1332.5,311.4h0M1320.7,299.5h0M1334.9,337.9h0M1318.9,291.1h0M1321.7,279.0h0M1325.0,271.6h0M1318.9,320.2h0M1332.7,290.2h0M1337.3,313.2h0M1334.5,286.3h0M1328.0,345.2h0M1326.0,273.9h0M1337.2,257.6h0M1324.6,308.6h0M1337.6,302.3h0M1319.1,304.1h0M1320.6,298.8h0M1322.8,348.1h0M1335.2,261.9h0M1334.0,328.3h0M1335.2,329.5h0M1324.5,345.4h0M1339.8,324.9h0M1339.4,274.7h0M1335.0,347.7h0M1332.4,343.0h0M1319.2,286.7h0M1327.9,330.7h0M1339.3,355.2h0M1335.5,300.3h0M1334.2,295.6h0M1324.0,302.1h0M1340.3,287.0h0M1330.5,344.0h0M1319.4,271.3h0M1327.5,289.5h0M1325.1,351.9h0M1334.3,338.0h0M1323.5,307.0h0M1329.9,304.7h0M1339.5,323.2h0M1324.9,336.3h0M1321.3,311.3h0M1325.7,335.1h0M1330.6,294.7h0M1321.9,269.6h0M1331.8,336.9h0M1335.6,295.7h0M1320.6,286.4h0M1326.3,337.0h0M1319.4,277.1h0M1322.5,260.2h0M1328.3,316.5h0M1325.5,310.9h0M1326.3,276.5h0M1319.7,306.5h0M1340.8,310.5h0M1319.9,259.6h0M1340.5,280.6h0M1320.5,317.3h0M1328.0,328.1h0M1330.5,321.7h0M1339.1,308.2h0M1332.4,253.0h0M1333.0,280.0h0M1323.7,268.0h0M1318.6,274.2h0M1337.3,274.4h0M1322.3,346.6h0M1337.5,299.3h0M1321.9,257.1h0M1337.1,260.2h0M1325.5,327.0h0M1337.0,312.1h0M1326.5,293.3h0M1326.5,312.3h0M1323.5,305.8h0M1331.0,344.8h0M1336.9,307.9h0M1338.8,300.1h0M1329.4,351.7h0M1321.6,339.2h0M1331.4,261.7h0M1333.8,284.1h0M1328.2,258.0h0M1320.1,297.6h0M1328.1,279.9h0M1334.6,272.5h0M1337.3,265.2h0M1336.1,350.7h0M1324.5,291.6h0M1329.8,323.7h0M1325.8,290.6h0M1333.3,319.6h0M1338.8,303.8h0M1324.8,264.0h0M1331.0,295.9h0M1322.5,327.8h0M1325.4,303.0h0M1340.3,306.1h0M1337.9,256.3h0M1340.1,320.2h0M1336.7,323.6h0M1333.6,291.6h0M1324.8,339.1h0M1339.9,296.9h0M1332.9,261.4h0M1325.9,299.9h0M1318.6,325.4h0M1333.6,307.4h0" stroke="#555555" stroke-opacity="0.6" stroke-width="1.9" stroke-linecap="round" fill="none"/>
<path d="M1442.6,358.1h0M1432.9,355.3h0M1439.8,353.5h0M1437.9,355.4h0M1429.1,353.5h0M1436.7,358.3h0M1439.6,350.0h0M1430.0,357.2h0M1444.4,356.1h0M1435.3,354.1h0M1435.0,353.6h0M1441.1,350.2h0M1451.8,358.1h0M1441.9,351.8h0M1449.1,351.8h0M1443.6,353.0h0M1437.3,356.0h0M1447.3,351.0h0M1450.6,352.6h0M1436.0,351.9h0M1446.0,354.1h0M1443.6,355.4h0M1441.7,355.0h0M1430.4,355.5h0M1436.4,350.0h0M1440.1,355.3h0M1434.6,356.4h0M1437.0,357.3h0M1429.2,351.0h0M1439.4,354.6h0M1442.1,355.8h0M1432.9,357.9h0M1435.9,355.8h0M1445.7,353.7h0M1450.6,355.5h0M1450.2,353.4h0M1430.8,356.9h0M1442.4,350.0h0M1437.2,351.8h0M1438.9,351.0h0M1430.6,354.3h0M1449.7,356.1h0M1434.9,358.2h0M1432.8,356.1h0M1445.2,356.6h0M1438.2,356.7h0M1442.9,351.0h0M1443.9,356.8h0M1445.9,350.2h0M1442.8,357.8h0M1447.6,350.9h0M1436.8,357.3h0M1433.3,353.8h0M1449.1,353.0h0M1450.2,356.6h0M1436.5,352.0h0M1443.9,355.0h0M1444.6,355.5h0M1430.3,354.9h0M1430.0,353.1h0M1436.7,354.2h0M1442.8,356.2h0M1439.7,358.3h0M1450.3,353.6h0M1451.7,358.0h0M1443.1,352.2h0M1436.6,357.6h0M1432.6,357.2h0M1446.6,357.7h0M1447.7,354.8h0M1441.4,353.4h0M1441.8,352.8h0M1442.8,355.6h0M1446.0,356.2h0M1445.4,351.9h0M1446.8,355.8h0M1446.8,350.1h0M1439.4,356.1h0M1441.0,350.4h0M1432.0,358.4h0M1439.9,352.8h0M1446.8,355.3h0M1451.8,356.5h0M1446.4,357.7h0M1429.6,357.3h0M1430.4,354.1h0M1441.8,356.9h0M1450.6,355.3h0M1432.4,356.9h0M1446.0,350.5h0M1432.7,358.2h0M1446.9,356.4h0M1451.6,354.2h0M1443.6,355.5h0M1447.4,354.5h0M1436.4,350.7h0M1431.5,352.1h0M1430.5,352.9h0M1438.2,351.0h0M1430.4,353.6h0M1438.4,350.6h0M1450.7,353.1h0M1434.2,356.3h0M1435.0,354.7h0M1434.3,356.7h0M1446.5,352.9h0M1435.9,349.9h0M1434.0,353.6h0M1432.6,351.0h0M1449.0,356.1h0M1446.3,351.4h0M1435.5,355.6h0M1440.2,350.8h0M1432.7,352.6h0M1442.7,354.6h0M1442.3,350.9h0M1433.8,350.9h0M1437.3,351.8h0M1448.9,356.9h0M1448.9,349.9h0M1435.8,358.2h0M1431.6,350.1h0M1429.2,350.6h0M1432.5,352.1h0M1431.2,357.0h0M1444.7,357.7h0M1436.8,350.6h0M1445.5,350.9h0M1451.5,358.2h0M1434.4,351.6h0M1444.9,358.1h0M1440.6,356.5h0M1438.9,357.5h0M1429.5,349.9h0M1436.3,350.9h0M1431.8,354.3h0M1432.1,354.8h0M1433.1,352.6h0M1432.4,352.1h0M1440.5,357.5h0M1437.1,354.2h0M1450.1,355.4h0M1433.9,350.1h0M1449.3,352.2h0M1435.3,356.9h0M1435.1,357.8h0M1430.0,354.1h0M1438.4,353.7h0M1437.3,358.3h0M1444.8,352.8h0M1441.5,353.7h0M1444.9,350.0h0M1449.1,352.3h0M1438.2,355.7h0M1438.6,350.1h0M1437.9,355.1h0M1438.4,357.2h0M1452.0,358.4h0M1443.0,350.5h0M1434.9,353.2h0M1437.7,356.4h0M1433.6,357.4h0M1448.4,351.7h0M1449.9,358.0h0M1445.0,355.7h0M1443.9,353.7h0M1436.3,350.1h0M1429.0,352.0h0M1448.6,354.1h0M1442.6,349.9h0M1434.4,353.0h0M1446.1,355.2h0M1445.4,355.1h0M1441.1,353.2h0M1444.6,355.7h0M1443.5,353.8h0M1434.1,353.2h0M1435.1,350.6h0M1439.9,352.3h0M1441.0,354.4h0M1434.1,357.2h0M1450.3,353.9h0M1441.1,353.9h0M1447.7,356.4h0M1433.0,351.4h0M1439.6,352.9h0M1448.0,350.8h0M1449.0,358.1h0M1437.8,351.3h0M1447.8,357.4h0M1432.5,356.3h0M1431.4,355.4h0M1447.5,354.0h0M1439.4,357.7h0M1438.1,349.9h0M1445.0,354.6h0M1440.0,351.6h0M1446.5,357.2h0M1444.6,355.3h0M1441.0,356.4h0M1437.5,355.5h0M1437.8,358.3h0M1433.6,353.5h0M1430.3,356.9h0M1445.5,356.1h0M1436.5,356.4h0M1448.2,357.7h0M1443.6,351.1h0M1433.6,354.8h0M1447.2,353.1h0M1437.5,358.1h0M1439.2,355.3h0M1445.4,355.9h0M1438.4,352.9h0M1447.6,355.4h0M1437.9,353.5h0M1450.3,356.8h0M1451.3,352.3h0M1437.6,352.7h0M1436.6,357.8h0M1446.4,355.2h0M1441.1,354.2h0M1449.7,351.9h0M1429.6,353.4h0M1439.6,354.5h0M1448.3,354.9h0M1439.9,350.8h0M1439.1,354.2h0M1440.8,351.4h0M1444.4,352.1h0M1438.2,357.2h0M1444.6,308.4h0M1446.7,336.6h0M1431.7,321.0h0M1430.8,332.6h0M1431.3,327.8h0M1446.3,319.9h0M1430.3,335.4h0M1445.4,352.7h0M1430.3,348.7h0M1438.6,273.5h0M1452.0,319.6h0M1449.1,355.6h0M1436.7,278.8h0M1429.1,342.6h0M1435.3,355.0h0M1436.2,326.3h0M1448.8,346.4h0M1440.8,329.2h0M1430.2,323.4h0M1448.9,345.6h0M1448.7,321.7h0M1433.6,356.4h0M1441.3,327.2h0M1439.7,317.8h0M1442.4,354.5h0M1447.4,338.6h0M1450.1,353.0h0M1430.2,334.8h0M1441.3,279.5h0M1442.0,323.6h0M1435.3,299.0h0M1435.7,293.6h0M1447.5,351.7h0M1439.5,252.5h0M1439.2,297.3h0M1430.3,353.4h0M1443.7,288.0h0M1448.8,341.0h0M1442.7,353.4h0M1450.2,261.4h0M1447.4,320.7h0M1444.5,291.2h0M1435.8,354.4h0M1448.3,295.6h0M1450.1,356.2h0M1431.3,351.2h0M1447.0,335.0h0M1438.5,352.8h0M1434.9,313.6h0M1444.8,351.8h0M1430.3,342.4h0M1430.0,299.6h0M1435.8,336.7h0M1442.4,276.0h0M1441.9,316.8h0M1450.0,278.8h0M1448.4,323.7h0M1447.4,265.4h0M1438.0,281.5h0M1437.7,349.6h0M1434.1,296.7h0M1431.2,341.5h0M1445.7,295.0h0M1444.6,309.5h0M1448.1,288.1h0M1450.2,348.0h0M1450.6,338.6h0M1435.7,299.6h0M1446.3,264.1h0M1450.4,304.0h0M1440.1,350.8h0M1442.7,315.6h0M1431.0,356.0h0M1435.2,318.9h0M1448.4,290.8h0M1450.3,356.6h0M1442.8,264.1h0M1436.9,303.1h0M1444.1,350.6h0M1436.7,350.2h0M1434.7,330.5h0M1433.1,280.4h0M1435.9,322.3h0M1441.9,356.0h0M1441.7,351.6h0M1442.7,353.0h0M1429.8,288.7h0M1431.2,348.8h0M1432.0,321.0h0M1437.1,345.7h0M1444.3,308.2h0M1432.9,334.4h0M1436.6,348.7h0M1449.1,276.9h0M1432.4,326.9h0M1449.2,308.2h0M1440.4,287.3h0M1431.7,264.2h0M1432.8,353.8h0M1440.7,342.3h0M1433.5,352.2h0M1433.7,330.5h0M1434.5,273.9h0M1440.5,285.5h0M1429.3,350.2h0M1440.2,347.7h0M1442.1,284.4h0M1434.3,304.2h0M1432.5,339.3h0M1429.7,330.8h0M1440.9,352.9h0M1449.5,285.3h0M1442.3,339.5h0M1442.7,274.7h0M1445.3,318.8h0M1434.7,352.6h0M1451.6,346.0h0M1443.2,347.1h0M1447.7,274.9h0" stroke="#a6c3fa" stroke-opacity="0.95" stroke-width="2.3" stroke-linecap="round" fill="none"/>
<line x1="1329.5" y1="254.4" x2="1329.5" y2="284.4" stroke="#444" stroke-width="1.4"/>
<line x1="1329.5" y1="324.2" x2="1329.5" y2="354.1" stroke="#444" stroke-width="1.4"/>
<rect x="1312.5" y="284.4" width="34.0" height="39.9" fill="none" stroke="#505050" stroke-width="1.15"/>
<line x1="1312.5" y1="304.3" x2="1346.5" y2="304.3" stroke="#2b2b2b" stroke-width="2.15"/>
<line x1="1423.5" y1="354.1" x2="1457.5" y2="354.1" stroke="#2b2b2b" stroke-width="2.15"/>
<line x1="1357" y1="268.4" x2="1413" y2="268.4" stroke="#4a4a4a" stroke-width="1.5"/>
<path d="M1371.1,255.7V263.1M1367.1,257.5L1375.1,261.3M1367.1,261.3L1375.1,257.5M1382.3,255.7V263.1M1378.3,257.5L1386.3,261.3M1378.3,261.3L1386.3,257.5M1393.5,255.7V263.1M1389.5,257.5L1397.5,261.3M1389.5,261.3L1397.5,257.5" stroke="#555" stroke-width="1.50" fill="none" stroke-linecap="round"/>
<line x1="1263.7" y1="372.6" x2="1263.7" y2="489.8" stroke="#454545" stroke-width="2.2"/>
<line x1="1259.1000000000001" y1="381.2" x2="1263.7" y2="381.2" stroke="#454545" stroke-width="2.2"/>
<text transform="translate(1255.5,391.1) scale(0.975,1.05)" text-anchor="end" class="tk">1.0</text>
<line x1="1259.1000000000001" y1="431.0" x2="1263.7" y2="431.0" stroke="#454545" stroke-width="2.2"/>
<text transform="translate(1255.5,440.9) scale(0.975,1.05)" text-anchor="end" class="tk">0.5</text>
<line x1="1259.1000000000001" y1="480.9" x2="1263.7" y2="480.9" stroke="#454545" stroke-width="2.2"/>
<text transform="translate(1255.5,490.8) scale(0.975,1.05)" text-anchor="end" class="tk">0.0</text>
<path d="M1319.5,419.7h0M1329.5,451.0h0M1333.4,396.3h0M1327.3,479.8h0M1324.3,390.1h0M1336.1,455.1h0M1321.5,456.9h0M1335.3,477.4h0M1338.7,467.7h0M1335.1,429.6h0M1332.9,433.5h0M1321.0,473.1h0M1334.2,462.4h0M1324.3,479.0h0M1331.9,470.2h0M1324.3,474.6h0M1323.1,467.9h0M1333.5,381.9h0M1336.4,382.9h0M1334.1,426.4h0M1337.3,454.1h0M1318.1,450.1h0M1321.2,427.1h0M1319.4,400.0h0M1330.8,428.1h0M1318.9,437.3h0M1320.5,475.3h0M1332.5,442.4h0M1325.6,411.4h0M1323.0,421.2h0M1322.8,474.3h0M1336.6,433.3h0M1318.7,460.6h0M1318.7,474.4h0M1327.7,391.8h0M1332.5,435.3h0M1331.5,432.3h0M1329.8,474.8h0M1323.2,412.3h0M1340.9,391.1h0M1340.1,401.6h0M1340.7,435.1h0M1329.0,417.7h0M1328.4,419.1h0M1334.3,444.2h0M1325.9,458.8h0M1327.3,417.9h0M1322.5,422.2h0M1329.9,407.5h0M1322.5,465.3h0M1322.5,391.0h0M1330.9,446.7h0M1340.4,389.9h0M1339.8,472.7h0M1334.6,385.6h0M1319.4,426.1h0M1318.3,467.7h0M1334.6,412.3h0M1324.1,472.9h0M1321.8,471.9h0M1340.8,456.0h0M1319.0,474.2h0M1326.2,448.2h0M1336.5,399.9h0M1320.3,439.6h0M1321.5,431.8h0M1328.8,455.4h0M1339.0,421.8h0M1329.0,419.6h0M1321.0,439.8h0M1331.0,392.8h0M1322.8,418.1h0M1318.5,455.0h0M1334.3,473.6h0M1340.6,439.4h0M1334.8,414.8h0M1336.7,460.9h0M1321.1,447.6h0M1322.9,413.1h0M1326.7,426.7h0M1337.1,478.3h0M1328.7,455.8h0M1338.4,480.0h0M1319.6,478.0h0M1332.4,415.3h0M1329.1,456.3h0M1322.7,444.8h0M1338.8,455.4h0M1320.4,463.3h0M1320.9,475.0h0M1328.5,461.9h0M1332.6,410.4h0M1328.1,445.2h0M1334.7,471.4h0M1328.8,478.2h0M1333.5,467.4h0M1323.5,433.7h0M1333.9,455.9h0M1321.3,434.6h0M1331.8,423.4h0M1323.5,471.9h0M1323.3,437.3h0M1336.1,476.5h0M1332.6,414.4h0M1318.9,477.0h0M1340.5,466.6h0M1318.9,393.5h0M1323.5,458.3h0M1323.1,470.5h0M1339.4,402.0h0M1339.1,444.2h0M1321.5,406.5h0M1335.4,462.8h0M1340.4,449.2h0M1322.3,387.4h0M1321.7,450.3h0M1320.4,381.0h0M1338.5,469.8h0M1318.1,412.0h0M1330.8,471.7h0M1329.6,447.8h0M1331.7,478.3h0M1319.8,477.7h0M1330.5,394.0h0M1327.1,458.8h0M1335.1,423.3h0M1337.1,468.2h0M1328.5,466.0h0M1333.0,479.4h0M1327.9,450.1h0M1340.5,408.3h0M1326.1,453.4h0M1334.8,457.8h0M1337.5,398.9h0M1326.5,404.1h0M1335.5,440.7h0M1331.9,473.8h0M1335.7,445.3h0M1319.7,458.8h0M1333.9,388.8h0M1330.0,462.4h0M1327.4,437.2h0M1332.9,436.9h0M1334.9,458.3h0M1339.0,446.3h0M1334.5,440.9h0M1333.7,396.7h0M1327.9,447.9h0M1322.1,458.1h0M1328.2,384.2h0M1323.8,480.3h0M1326.0,415.6h0M1320.2,436.8h0M1340.6,445.1h0M1339.4,452.9h0M1337.2,426.6h0M1335.3,404.8h0M1323.7,433.5h0M1318.5,433.4h0M1338.4,475.9h0M1325.6,462.6h0M1335.8,472.1h0M1336.3,390.3h0M1320.4,400.1h0M1325.2,474.0h0M1326.4,443.7h0M1340.2,447.8h0M1330.2,477.8h0M1330.4,455.8h0M1327.4,427.7h0M1333.9,435.7h0M1320.1,470.9h0M1324.6,425.1h0M1318.3,469.7h0M1334.5,443.3h0M1322.1,457.8h0M1333.8,383.9h0M1335.2,437.0h0M1323.7,422.2h0M1318.6,435.3h0M1322.8,462.6h0M1340.2,387.3h0M1331.6,432.9h0M1331.8,434.1h0M1325.0,472.5h0M1319.5,478.6h0M1326.3,448.1h0M1320.6,416.0h0M1340.3,420.7h0M1324.3,460.9h0M1322.1,478.8h0M1325.0,450.5h0M1333.9,406.1h0M1334.8,477.9h0M1339.4,433.3h0M1337.1,478.1h0M1337.1,468.3h0M1337.7,476.2h0M1333.4,469.0h0M1318.2,463.0h0M1338.8,390.7h0M1333.2,388.0h0M1333.2,476.2h0M1321.3,469.6h0M1340.6,393.4h0M1333.0,472.4h0M1323.1,469.0h0M1318.3,452.9h0M1321.0,472.6h0M1326.4,468.2h0M1321.2,457.0h0M1323.8,461.3h0M1330.0,391.8h0M1323.7,467.0h0M1324.6,473.8h0M1335.6,401.8h0M1322.5,457.4h0M1326.8,414.8h0M1332.8,440.3h0M1338.0,429.2h0M1333.3,462.9h0M1323.4,478.9h0M1328.1,432.9h0M1328.6,451.6h0M1320.2,449.6h0M1329.0,440.2h0M1323.3,431.0h0M1320.7,472.6h0M1326.3,462.2h0M1339.5,397.2h0M1319.6,451.0h0M1335.1,467.3h0M1338.0,436.6h0M1337.7,473.5h0M1339.7,426.6h0M1323.5,482.1h0M1337.9,418.2h0M1319.9,447.7h0M1339.3,463.0h0M1334.8,396.8h0M1328.4,471.3h0M1322.7,469.8h0M1326.3,481.4h0M1340.6,447.3h0M1322.1,434.5h0M1333.0,436.7h0M1318.6,458.2h0M1335.0,419.2h0M1323.4,476.5h0M1331.9,465.1h0M1321.3,436.8h0M1339.7,385.7h0M1337.7,441.4h0M1338.8,438.4h0M1323.2,425.3h0M1338.7,463.0h0M1323.0,397.1h0M1328.1,434.7h0M1322.4,461.5h0M1331.4,455.8h0M1327.2,418.4h0M1318.3,459.1h0M1323.4,473.7h0M1329.8,403.0h0M1329.3,444.2h0M1332.3,451.7h0M1337.2,440.0h0M1341.0,401.2h0M1323.2,471.6h0M1325.4,464.7h0" stroke="#555555" stroke-opacity="0.6" stroke-width="1.9" stroke-linecap="round" fill="none"/>
<path d="M1430.8,480.2h0M1450.7,480.2h0M1437.2,479.1h0M1439.1,483.7h0M1440.1,485.0h0M1444.5,483.8h0M1437.5,476.9h0M1446.6,478.0h0M1443.8,479.7h0M1445.2,476.9h0M1433.5,478.6h0M1435.9,483.0h0M1447.9,480.0h0M1448.5,477.7h0M1442.5,483.5h0M1429.3,480.6h0M1445.7,482.9h0M1430.6,485.1h0M1433.0,479.2h0M1429.1,483.2h0M1435.1,479.1h0M1451.7,485.0h0M1431.6,477.2h0M1451.3,483.9h0M1436.7,480.7h0M1436.4,481.6h0M1440.0,483.0h0M1430.3,484.5h0M1432.7,484.4h0M1443.4,479.2h0M1435.0,478.4h0M1445.8,482.3h0M1440.3,483.6h0M1450.4,480.4h0M1430.2,483.9h0M1444.9,481.9h0M1445.5,483.2h0M1447.3,478.3h0M1431.2,480.2h0M1433.4,479.1h0M1447.5,478.4h0M1434.3,484.4h0M1444.3,480.3h0M1432.2,483.5h0M1442.4,484.3h0M1443.6,483.1h0M1434.9,481.6h0M1441.3,479.0h0M1429.7,479.0h0M1434.1,482.7h0M1443.7,479.3h0M1443.1,477.5h0M1433.7,482.5h0M1444.2,483.0h0M1432.6,483.2h0M1446.7,478.1h0M1445.5,477.0h0M1447.3,482.5h0M1436.3,479.0h0M1430.3,480.0h0M1431.1,484.8h0M1440.8,483.9h0M1450.4,477.7h0M1439.6,483.5h0M1431.8,480.8h0M1441.0,482.1h0M1445.5,480.6h0M1446.8,484.3h0M1430.6,481.9h0M1440.1,483.0h0M1444.4,483.3h0M1436.3,481.1h0M1445.4,478.6h0M1437.5,481.4h0M1450.3,477.2h0M1443.2,484.3h0M1439.5,479.7h0M1435.4,484.9h0M1451.6,477.4h0M1432.0,481.2h0M1443.2,482.6h0M1430.6,478.8h0M1446.7,481.4h0M1431.0,481.8h0M1431.2,476.9h0M1430.2,482.7h0M1446.7,484.0h0M1431.5,484.6h0M1432.8,480.6h0M1448.2,483.7h0M1433.0,478.6h0M1438.8,482.3h0M1431.8,483.1h0M1451.4,484.2h0M1435.0,478.8h0M1449.5,477.4h0M1439.9,477.0h0M1442.9,482.7h0M1439.7,479.0h0M1445.9,484.1h0M1433.5,477.0h0M1431.5,478.2h0M1436.8,483.1h0M1434.9,481.2h0M1451.8,483.9h0M1448.7,482.4h0M1433.0,478.8h0M1436.9,483.6h0M1438.6,478.1h0M1448.9,480.3h0M1429.2,478.6h0M1443.0,477.5h0M1450.9,482.4h0M1448.5,478.2h0M1435.1,482.1h0M1437.6,482.2h0M1437.7,484.2h0M1434.2,477.4h0M1438.4,479.7h0M1449.4,478.7h0M1434.6,477.3h0M1447.5,476.7h0M1445.7,478.7h0M1447.7,483.0h0M1444.1,481.9h0M1448.3,484.0h0M1441.4,482.3h0M1447.9,482.2h0M1448.4,477.9h0M1449.2,484.0h0M1450.6,478.8h0M1444.6,479.6h0M1430.1,477.7h0M1441.6,481.3h0M1436.8,478.5h0M1447.0,477.7h0M1433.9,482.3h0M1434.7,484.3h0M1436.5,485.0h0M1447.3,483.2h0M1430.6,484.6h0M1446.0,483.5h0M1439.6,481.7h0M1447.5,477.0h0M1436.1,479.8h0M1449.6,481.2h0M1449.7,478.9h0M1436.2,477.7h0M1442.2,484.3h0M1442.5,478.1h0M1440.9,481.0h0M1438.6,477.6h0M1444.3,483.4h0M1437.3,482.1h0M1451.0,479.2h0M1431.9,477.3h0M1429.8,480.1h0M1438.9,479.0h0M1438.9,484.4h0M1441.0,478.2h0M1447.1,482.1h0M1434.1,478.8h0M1447.4,483.3h0M1449.3,476.7h0M1439.0,481.9h0M1445.3,477.2h0M1433.6,482.6h0M1436.6,478.9h0M1433.3,480.5h0M1440.5,479.5h0M1432.3,477.0h0M1452.0,480.4h0M1447.3,483.6h0M1449.9,480.5h0M1446.5,477.7h0M1437.3,477.3h0M1433.8,485.0h0M1440.6,477.5h0M1449.7,477.0h0M1440.7,477.2h0M1441.9,484.0h0M1443.5,478.3h0M1438.7,480.0h0M1435.0,482.8h0M1438.7,480.8h0M1439.8,484.4h0M1429.1,482.3h0M1445.5,478.8h0M1434.5,483.0h0M1440.9,483.7h0M1442.9,477.4h0M1433.6,480.2h0M1445.6,478.8h0M1445.4,479.1h0M1435.3,478.0h0M1450.3,484.7h0M1450.7,481.4h0M1431.0,484.6h0M1447.3,479.4h0M1432.3,481.2h0M1443.7,476.6h0M1436.7,478.6h0M1434.6,483.5h0M1432.7,481.7h0M1443.2,482.6h0M1432.7,483.3h0M1431.0,483.5h0M1436.3,480.9h0M1433.2,481.1h0M1439.1,476.8h0M1440.2,477.1h0M1439.8,483.5h0M1442.6,483.9h0M1432.9,484.6h0M1445.1,476.9h0M1438.3,482.2h0M1438.8,482.2h0M1444.9,481.8h0M1432.5,477.8h0M1442.2,485.1h0M1448.5,478.9h0M1437.2,479.8h0M1450.2,481.7h0M1438.9,482.6h0M1441.7,479.5h0M1445.9,477.0h0M1432.3,482.1h0M1448.6,478.4h0M1442.6,479.4h0M1436.8,477.1h0M1441.6,467.9h0M1433.2,438.3h0M1449.6,478.2h0M1429.6,466.3h0M1440.0,477.4h0M1437.4,410.1h0M1437.0,480.6h0M1450.4,441.1h0M1440.0,474.1h0M1437.9,457.1h0M1447.1,449.4h0M1437.5,430.5h0M1437.3,474.7h0M1441.4,475.5h0M1436.6,476.0h0M1432.7,391.2h0M1429.5,480.4h0M1430.4,475.6h0M1432.4,453.8h0M1430.3,447.2h0M1445.9,402.8h0M1449.9,476.5h0M1441.7,470.3h0M1431.1,473.5h0M1439.0,447.4h0M1446.2,455.1h0M1437.9,465.4h0M1449.1,402.2h0M1442.7,431.8h0M1429.9,412.5h0M1431.9,397.5h0M1445.3,470.9h0M1431.6,398.7h0M1433.2,461.1h0M1444.5,476.4h0M1437.3,396.1h0M1439.0,480.2h0M1434.8,483.1h0M1451.4,466.5h0M1445.2,473.5h0M1433.1,394.7h0M1437.1,405.1h0M1430.4,460.8h0M1444.7,454.8h0M1439.1,407.9h0M1442.2,416.9h0M1449.3,436.0h0M1436.8,453.3h0M1450.7,475.8h0M1450.0,472.9h0M1432.3,439.1h0M1437.8,443.0h0M1429.1,414.8h0M1447.1,402.6h0M1429.1,389.9h0M1438.5,474.6h0M1442.1,478.0h0M1438.4,399.0h0M1451.0,442.8h0M1443.1,478.1h0M1437.7,434.0h0M1449.8,470.3h0M1447.1,471.1h0M1451.8,463.8h0M1436.3,449.1h0M1435.0,433.0h0M1432.6,477.0h0M1440.2,427.6h0M1450.2,443.9h0M1450.4,454.2h0M1432.4,432.3h0M1442.2,414.1h0M1442.5,481.5h0M1450.5,459.6h0M1446.9,437.3h0M1435.4,433.2h0M1449.0,438.1h0M1445.7,478.7h0M1445.8,391.9h0M1431.2,419.6h0M1445.6,476.5h0M1444.0,462.0h0M1437.5,389.6h0M1450.7,471.1h0M1438.8,461.3h0M1447.6,390.4h0M1439.5,399.4h0M1438.2,470.2h0M1439.9,429.7h0M1446.2,468.9h0M1444.6,439.5h0M1451.7,421.8h0M1446.0,481.7h0M1443.6,475.6h0M1434.7,472.2h0M1429.8,472.4h0M1431.0,477.7h0M1449.5,482.3h0M1439.7,462.5h0M1445.5,459.0h0" stroke="#a6c3fa" stroke-opacity="0.95" stroke-width="2.3" stroke-linecap="round" fill="none"/>
<line x1="1329.5" y1="381.2" x2="1329.5" y2="431.0" stroke="#444" stroke-width="1.4"/>
<line x1="1329.5" y1="470.9" x2="1329.5" y2="480.9" stroke="#444" stroke-width="1.4"/>
<rect x="1312.5" y="431.0" width="34.0" height="39.9" fill="none" stroke="#505050" stroke-width="1.15"/>
<line x1="1312.5" y1="451.0" x2="1346.5" y2="451.0" stroke="#2b2b2b" stroke-width="2.15"/>
<line x1="1423.5" y1="480.9" x2="1457.5" y2="480.9" stroke="#2b2b2b" stroke-width="2.15"/>
<line x1="1357" y1="396.8" x2="1413" y2="396.8" stroke="#4a4a4a" stroke-width="1.5"/>
<path d="M1371.1,384.1V391.5M1367.1,385.9L1375.1,389.7M1367.1,389.7L1375.1,385.9M1382.3,384.1V391.5M1378.3,385.9L1386.3,389.7M1378.3,389.7L1386.3,385.9M1393.5,384.1V391.5M1389.5,385.9L1397.5,389.7M1389.5,389.7L1397.5,385.9" stroke="#555" stroke-width="1.50" fill="none" stroke-linecap="round"/>
<line x1="1263.7" y1="499.7" x2="1263.7" y2="616.7" stroke="#454545" stroke-width="2.2"/>
<line x1="1259.1000000000001" y1="507.9" x2="1263.7" y2="507.9" stroke="#454545" stroke-width="2.2"/>
<text transform="translate(1255.5,517.9) scale(0.975,1.05)" text-anchor="end" class="tk">1.0</text>
<line x1="1259.1000000000001" y1="557.8" x2="1263.7" y2="557.8" stroke="#454545" stroke-width="2.2"/>
<text transform="translate(1255.5,567.7) scale(0.975,1.05)" text-anchor="end" class="tk">0.5</text>
<line x1="1259.1000000000001" y1="607.6" x2="1263.7" y2="607.6" stroke="#454545" stroke-width="2.2"/>
<text transform="translate(1255.5,617.5) scale(0.975,1.05)" text-anchor="end" class="tk">0.0</text>
<path d="M1340.9,594.3h0M1338.9,513.5h0M1337.9,606.9h0M1340.3,606.4h0M1339.8,529.6h0M1322.5,607.5h0M1329.1,609.0h0M1326.6,567.7h0M1331.5,596.3h0M1324.4,607.6h0M1329.6,517.0h0M1333.3,574.6h0M1330.2,535.5h0M1335.7,605.9h0M1336.0,518.3h0M1323.7,604.0h0M1329.7,520.2h0M1324.7,555.1h0M1334.3,508.7h0M1329.1,533.3h0M1322.9,552.5h0M1326.2,565.5h0M1326.3,523.1h0M1334.9,579.3h0M1323.4,605.2h0M1333.1,516.8h0M1332.6,529.5h0M1324.3,549.8h0M1326.3,542.5h0M1340.1,607.4h0M1333.4,569.6h0M1336.5,531.5h0M1325.7,515.9h0M1336.3,515.1h0M1329.2,608.8h0M1324.2,545.9h0M1334.4,557.9h0M1337.5,579.7h0M1328.1,608.3h0M1325.2,603.6h0M1322.2,575.4h0M1324.5,565.2h0M1337.6,606.2h0M1337.6,585.5h0M1327.8,563.9h0M1335.8,537.5h0M1320.7,553.6h0M1328.1,608.5h0M1331.7,523.7h0M1318.5,589.8h0M1326.7,517.0h0M1326.6,507.9h0M1325.7,606.1h0M1332.4,560.6h0M1318.5,510.4h0M1332.1,587.9h0M1322.6,559.0h0M1338.9,599.8h0M1331.5,607.0h0M1325.4,611.6h0M1325.5,606.4h0M1331.8,602.1h0M1320.8,554.7h0M1325.2,560.9h0M1326.4,510.7h0M1320.7,541.4h0M1323.5,586.7h0M1323.6,513.3h0M1326.7,555.7h0M1336.3,559.9h0M1324.2,522.0h0M1329.0,543.3h0M1319.3,591.1h0M1323.2,554.2h0M1335.9,596.7h0M1330.6,512.6h0M1336.4,611.0h0M1324.0,509.0h0M1328.1,603.4h0M1320.1,608.0h0M1322.9,565.7h0M1320.2,611.2h0M1326.5,567.5h0M1329.7,609.5h0M1334.1,527.3h0M1340.6,550.4h0M1329.7,545.8h0M1326.6,513.6h0M1322.8,505.7h0M1326.2,547.9h0M1332.1,541.7h0M1324.5,611.2h0M1340.0,608.8h0M1320.6,578.1h0M1330.2,513.1h0M1325.6,594.6h0M1325.8,560.3h0M1340.0,608.8h0M1327.2,584.1h0M1333.2,518.2h0M1328.3,557.9h0M1323.4,526.5h0M1328.5,604.8h0M1326.6,605.6h0M1318.7,610.1h0M1340.1,526.5h0M1333.5,607.7h0M1328.9,518.7h0M1322.0,603.6h0M1334.0,524.3h0M1332.8,569.0h0M1332.1,598.7h0M1329.7,513.6h0M1330.7,586.1h0M1329.1,543.2h0M1321.1,609.3h0M1333.6,527.8h0M1332.2,507.8h0M1331.1,610.0h0M1328.2,535.5h0M1331.0,602.2h0M1326.4,608.1h0M1340.3,586.7h0M1333.0,551.8h0M1332.1,517.5h0M1339.5,504.6h0M1334.7,510.7h0M1337.5,555.8h0M1337.0,549.2h0M1318.4,604.3h0M1328.1,537.9h0M1333.8,561.4h0M1337.8,592.8h0M1338.7,521.3h0M1318.6,608.2h0M1319.5,611.3h0M1332.4,610.9h0M1321.7,609.4h0M1324.4,553.6h0M1338.8,528.6h0M1340.8,608.2h0M1336.3,569.3h0M1339.3,556.2h0M1334.8,562.9h0M1320.1,578.1h0M1330.7,561.6h0M1337.8,610.7h0M1334.1,608.0h0M1336.1,580.5h0M1322.5,603.7h0M1324.5,534.9h0M1337.1,609.8h0M1334.0,529.9h0M1323.2,610.1h0M1339.9,608.8h0M1329.7,571.4h0M1318.6,583.5h0M1335.1,590.8h0M1326.2,538.5h0M1326.0,605.7h0M1333.1,548.2h0M1330.1,530.7h0M1339.1,575.6h0M1329.7,564.9h0M1322.6,515.2h0M1326.1,552.6h0M1320.2,609.6h0M1332.6,607.8h0M1326.7,607.0h0M1323.0,595.2h0M1318.0,605.1h0M1323.8,547.1h0M1330.7,579.1h0M1332.4,601.5h0M1335.9,568.1h0M1337.8,513.1h0M1333.6,604.9h0M1328.0,606.2h0M1339.9,601.5h0M1320.3,596.6h0M1329.7,521.7h0M1323.1,540.0h0M1326.9,582.1h0M1322.2,607.0h0M1322.4,607.9h0M1330.4,608.2h0M1329.6,523.3h0M1318.4,546.4h0M1322.6,611.6h0M1335.7,552.2h0M1330.4,610.1h0M1336.0,568.6h0M1334.7,596.4h0M1331.2,606.4h0M1326.5,538.9h0M1319.5,540.6h0M1333.9,569.5h0M1330.7,605.7h0M1320.3,544.6h0M1338.0,582.3h0M1323.7,552.0h0M1323.8,611.2h0M1329.3,521.7h0M1324.9,608.0h0M1326.5,605.2h0M1334.6,587.3h0M1323.1,611.9h0M1325.6,611.0h0M1334.0,542.9h0M1340.9,511.2h0M1318.8,591.9h0M1327.5,601.4h0M1327.0,549.0h0M1319.7,603.8h0M1329.8,584.1h0M1328.1,542.9h0M1337.1,579.0h0M1322.1,608.5h0M1338.5,608.4h0M1333.2,562.1h0M1328.6,508.4h0M1323.6,517.0h0M1337.9,611.3h0M1326.5,564.2h0M1340.5,573.8h0M1332.4,606.5h0M1337.4,547.7h0M1321.0,570.2h0M1334.4,528.9h0M1322.7,599.7h0M1333.1,514.5h0M1318.5,530.6h0M1325.5,571.2h0M1325.7,610.8h0M1333.4,572.2h0M1336.2,609.3h0M1330.6,542.9h0M1320.7,542.2h0M1319.6,554.7h0M1318.6,508.9h0M1326.5,610.4h0M1327.1,542.0h0M1327.5,535.0h0M1330.0,609.4h0M1340.2,597.2h0M1328.0,610.0h0M1340.3,559.4h0M1332.9,538.2h0M1327.0,589.8h0M1324.4,547.7h0M1319.0,589.5h0M1338.1,544.9h0M1328.1,601.1h0M1324.4,513.5h0M1329.9,578.3h0M1339.6,604.2h0M1323.5,607.1h0M1327.6,544.7h0M1328.2,520.6h0M1325.0,550.7h0M1334.3,611.4h0M1339.3,526.6h0M1324.9,540.0h0M1318.4,608.7h0M1320.9,587.0h0M1318.4,550.2h0M1323.1,611.2h0M1320.1,610.3h0M1329.9,594.2h0M1336.9,523.7h0" stroke="#555555" stroke-opacity="0.6" stroke-width="1.9" stroke-linecap="round" fill="none"/>
<path d="M1448.2,604.4h0M1435.2,605.2h0M1439.9,609.3h0M1437.5,605.1h0M1448.4,604.7h0M1444.4,610.5h0M1432.6,607.1h0M1433.9,609.1h0M1431.4,610.6h0M1445.5,610.0h0M1448.5,609.1h0M1448.5,609.3h0M1435.2,608.6h0M1429.3,608.2h0M1437.7,611.8h0M1448.8,608.7h0M1429.0,603.7h0M1434.3,609.8h0M1429.6,611.1h0M1445.3,606.9h0M1440.6,609.8h0M1435.6,603.6h0M1437.6,603.5h0M1449.4,610.9h0M1448.5,611.8h0M1445.4,605.0h0M1445.0,607.2h0M1447.7,610.6h0M1441.4,609.7h0M1438.2,610.3h0M1445.3,607.0h0M1446.9,606.6h0M1442.8,604.0h0M1447.7,607.1h0M1436.5,604.0h0M1437.5,611.1h0M1436.7,605.9h0M1450.4,606.4h0M1444.2,603.9h0M1446.9,608.1h0M1439.6,605.4h0M1436.3,611.0h0M1443.3,605.0h0M1434.7,606.1h0M1449.5,610.8h0M1432.1,607.7h0M1436.7,603.8h0M1451.9,608.1h0M1447.2,606.5h0M1433.0,603.6h0M1433.0,611.3h0M1439.4,611.8h0M1440.1,608.4h0M1450.9,608.4h0M1448.5,605.3h0M1442.5,609.9h0M1436.0,607.7h0M1438.1,606.4h0M1440.6,609.2h0M1443.0,603.4h0M1433.7,609.1h0M1429.3,611.1h0M1430.3,608.3h0M1448.2,606.0h0M1451.2,604.8h0M1442.5,607.0h0M1429.3,608.6h0M1435.0,606.6h0M1430.5,607.3h0M1437.6,607.7h0M1438.3,611.1h0M1445.8,605.1h0M1442.8,610.9h0M1442.8,604.5h0M1451.7,605.4h0M1430.1,604.4h0M1444.3,609.6h0M1450.2,604.9h0M1449.6,609.8h0M1442.3,608.7h0M1435.8,605.4h0M1443.2,609.1h0M1441.5,604.0h0M1442.0,604.1h0M1442.0,603.4h0M1429.7,608.0h0M1441.7,605.7h0M1451.3,606.6h0M1440.0,606.5h0M1441.3,605.9h0M1450.8,611.8h0M1436.4,604.4h0M1430.4,605.2h0M1429.7,606.4h0M1447.4,609.9h0M1437.8,610.0h0M1445.2,607.4h0M1442.9,609.1h0M1442.5,603.8h0M1446.9,603.8h0M1434.7,607.5h0M1437.9,609.0h0M1447.5,610.4h0M1441.8,605.3h0M1450.5,611.8h0M1435.2,607.7h0M1450.5,610.5h0M1448.3,608.5h0M1441.6,604.0h0M1430.5,609.1h0M1432.6,610.8h0M1436.0,605.9h0M1442.3,610.9h0M1447.4,607.6h0M1432.3,604.9h0M1447.9,610.1h0M1450.6,605.0h0M1434.3,611.9h0M1448.9,604.9h0M1431.2,605.4h0M1446.8,606.5h0M1448.1,603.5h0M1436.5,604.8h0M1450.2,609.2h0M1444.7,606.1h0M1448.5,607.1h0M1435.3,609.8h0M1441.5,610.8h0M1448.8,604.3h0M1434.6,606.0h0M1444.5,610.9h0M1446.9,605.4h0M1436.0,611.1h0M1435.5,605.3h0M1439.7,604.9h0M1432.7,611.0h0M1437.0,604.4h0M1432.7,611.3h0M1446.3,611.2h0M1444.4,611.2h0M1434.7,606.2h0M1449.1,608.4h0M1439.3,611.7h0M1436.8,609.9h0M1447.1,605.8h0M1447.0,607.4h0M1445.1,610.8h0M1437.9,609.4h0M1435.5,605.6h0M1433.9,609.1h0M1435.5,604.5h0M1443.7,607.8h0M1437.7,604.0h0M1450.6,608.1h0M1442.0,604.5h0M1434.9,609.7h0M1431.4,607.6h0M1446.7,610.6h0M1438.9,603.4h0M1440.1,608.7h0M1448.3,604.3h0M1437.7,610.9h0M1443.6,605.6h0M1450.2,606.3h0M1436.1,607.5h0M1435.6,608.1h0M1439.8,604.1h0M1449.8,604.0h0M1440.0,603.7h0M1432.2,604.0h0M1443.7,604.5h0M1438.5,603.4h0M1429.6,604.7h0M1447.8,608.7h0M1448.1,610.1h0M1446.3,607.9h0M1438.5,610.3h0M1447.4,605.7h0M1431.0,603.6h0M1434.1,608.7h0M1438.5,607.0h0M1449.5,603.8h0M1443.6,608.8h0M1431.5,611.3h0M1440.9,606.9h0M1439.3,603.5h0M1438.5,608.9h0M1438.6,610.5h0M1450.6,606.9h0M1441.5,608.3h0M1434.8,609.2h0M1440.4,608.1h0M1451.5,607.1h0M1433.8,611.5h0M1432.7,609.0h0M1447.0,604.3h0M1434.4,605.2h0M1439.2,607.3h0M1441.3,611.6h0M1430.5,606.2h0M1444.8,608.7h0M1450.1,604.9h0M1435.9,611.4h0M1441.7,606.3h0M1434.2,611.6h0M1440.2,611.6h0M1445.9,606.6h0M1435.4,608.1h0M1434.4,610.3h0M1433.2,604.9h0M1439.4,605.8h0M1437.0,605.0h0M1442.7,606.3h0M1438.0,607.1h0M1433.4,603.6h0M1444.5,607.4h0M1443.7,611.1h0M1436.7,610.0h0M1448.4,611.8h0M1439.2,604.5h0M1447.0,605.8h0M1435.9,609.9h0M1445.2,609.4h0M1445.6,608.9h0M1446.5,607.0h0M1447.8,603.5h0M1437.7,603.5h0M1429.2,604.4h0M1429.7,607.3h0M1437.9,605.3h0M1436.2,598.2h0M1447.0,596.0h0M1446.4,534.9h0M1429.8,604.4h0M1434.0,547.3h0M1429.0,606.8h0M1444.3,518.4h0M1443.6,583.4h0M1445.9,562.4h0M1433.7,531.4h0M1442.8,602.7h0M1433.5,607.7h0M1436.9,556.4h0M1437.0,563.0h0M1442.3,552.5h0M1445.8,597.1h0M1446.3,577.5h0M1431.2,602.1h0M1440.8,582.3h0M1449.3,589.7h0M1435.5,563.1h0M1445.0,591.6h0M1434.9,590.2h0M1451.0,563.0h0M1436.6,606.8h0M1433.6,540.3h0M1449.7,578.7h0M1448.2,598.9h0M1429.3,600.5h0M1435.3,575.7h0M1431.7,574.9h0M1431.7,552.6h0M1434.8,585.3h0M1439.3,584.3h0M1441.1,525.4h0M1445.7,595.4h0M1450.1,513.1h0M1441.9,528.0h0M1436.6,517.5h0M1449.4,520.0h0M1431.3,591.6h0M1449.4,542.0h0M1445.1,564.6h0M1441.3,596.1h0M1437.1,513.3h0M1444.3,560.9h0M1443.4,539.3h0M1451.6,570.8h0M1445.4,609.5h0M1435.3,535.0h0M1432.4,600.4h0M1433.0,592.6h0M1431.2,560.8h0M1448.8,602.8h0M1434.0,575.6h0M1439.8,546.9h0M1436.8,605.7h0M1451.0,558.1h0M1451.2,601.1h0M1433.6,576.2h0M1450.6,561.4h0M1448.5,551.3h0M1446.2,605.9h0M1431.3,595.8h0M1431.4,516.1h0M1445.6,586.1h0M1444.7,582.2h0M1446.3,589.8h0M1450.5,553.6h0M1447.5,547.5h0M1447.7,559.7h0M1441.5,587.5h0M1440.3,570.5h0M1448.8,571.1h0M1438.8,595.9h0M1450.8,516.1h0M1430.9,516.1h0M1445.7,541.8h0M1429.4,510.4h0M1439.1,576.7h0M1447.7,536.8h0M1429.7,592.8h0M1435.2,551.0h0M1432.1,546.1h0M1446.0,524.0h0" stroke="#a6c3fa" stroke-opacity="0.95" stroke-width="2.3" stroke-linecap="round" fill="none"/>
<line x1="1329.5" y1="507.9" x2="1329.5" y2="537.9" stroke="#444" stroke-width="1.4"/>
<rect x="1312.5" y="537.9" width="34.0" height="69.8" fill="none" stroke="#505050" stroke-width="1.15"/>
<line x1="1312.5" y1="567.8" x2="1346.5" y2="567.8" stroke="#2b2b2b" stroke-width="2.15"/>
<line x1="1423.5" y1="607.6" x2="1457.5" y2="607.6" stroke="#2b2b2b" stroke-width="2.15"/>
<line x1="1357" y1="521.2" x2="1413" y2="521.2" stroke="#4a4a4a" stroke-width="1.5"/>
<path d="M1371.1,508.5V515.9M1367.1,510.3L1375.1,514.1M1367.1,514.1L1375.1,510.3M1382.3,508.5V515.9M1378.3,510.3L1386.3,514.1M1378.3,514.1L1386.3,510.3M1393.5,508.5V515.9M1389.5,510.3L1397.5,514.1M1389.5,514.1L1397.5,510.3" stroke="#555" stroke-width="1.50" fill="none" stroke-linecap="round"/>
<line x1="1263.7" y1="626.1" x2="1263.7" y2="743.0" stroke="#454545" stroke-width="2.2"/>
<line x1="1259.1000000000001" y1="634.7" x2="1263.7" y2="634.7" stroke="#454545" stroke-width="2.2"/>
<text transform="translate(1255.5,644.6) scale(0.975,1.05)" text-anchor="end" class="tk">1.0</text>
<line x1="1259.1000000000001" y1="684.6" x2="1263.7" y2="684.6" stroke="#454545" stroke-width="2.2"/>
<text transform="translate(1255.5,694.5) scale(0.975,1.05)" text-anchor="end" class="tk">0.5</text>
<line x1="1259.1000000000001" y1="734.4" x2="1263.7" y2="734.4" stroke="#454545" stroke-width="2.2"/>
<text transform="translate(1255.5,744.3) scale(0.975,1.05)" text-anchor="end" class="tk">0.0</text>
<path d="M1337.1,738.5h0M1325.3,654.1h0M1331.9,682.4h0M1321.0,696.3h0M1337.6,732.8h0M1320.5,713.3h0M1336.3,644.0h0M1321.6,733.0h0M1325.3,717.3h0M1321.8,735.2h0M1320.9,636.0h0M1330.7,734.0h0M1327.3,639.5h0M1320.0,661.5h0M1339.5,673.6h0M1339.2,732.1h0M1330.3,678.6h0M1331.2,708.6h0M1323.9,709.0h0M1338.1,735.9h0M1327.4,702.7h0M1320.3,664.5h0M1336.3,731.9h0M1338.3,656.0h0M1321.3,711.8h0M1333.9,733.6h0M1325.9,737.4h0M1337.1,709.6h0M1336.7,688.2h0M1325.4,696.0h0M1335.1,649.0h0M1326.1,701.5h0M1327.3,699.9h0M1335.5,636.0h0M1326.3,736.3h0M1338.4,731.8h0M1325.0,728.6h0M1322.5,722.9h0M1318.9,731.7h0M1330.2,713.8h0M1330.4,735.2h0M1330.8,650.8h0M1339.2,709.8h0M1321.2,652.6h0M1332.7,678.2h0M1333.9,673.3h0M1319.2,677.4h0M1323.4,725.8h0M1321.5,676.8h0M1335.7,737.3h0M1330.1,694.5h0M1335.2,694.0h0M1329.0,672.4h0M1340.1,732.0h0M1333.6,724.8h0M1334.8,662.8h0M1336.4,667.0h0M1338.3,636.6h0M1328.4,733.9h0M1336.5,734.2h0M1340.1,738.6h0M1338.6,675.9h0M1329.3,672.1h0M1321.4,688.2h0M1334.4,667.1h0M1326.6,698.3h0M1332.9,700.9h0M1320.8,650.9h0M1331.1,688.3h0M1324.0,686.3h0M1319.8,690.4h0M1337.3,704.7h0M1328.2,675.1h0M1331.9,697.1h0M1340.4,730.5h0M1334.7,710.6h0M1319.7,717.1h0M1325.9,715.8h0M1327.7,693.0h0M1337.2,717.1h0M1323.1,719.9h0M1318.5,715.2h0M1319.3,719.6h0M1324.9,637.7h0M1330.9,733.6h0M1324.9,732.4h0M1333.9,676.2h0M1328.8,717.3h0M1324.6,714.5h0M1328.7,692.5h0M1322.3,717.3h0M1338.2,731.4h0M1336.8,734.5h0M1322.0,656.8h0M1335.0,640.3h0M1320.6,734.3h0M1326.1,709.9h0M1331.7,728.9h0M1337.4,735.8h0M1338.9,653.3h0M1325.0,663.6h0M1340.2,733.6h0M1337.0,737.6h0M1330.5,678.8h0M1340.6,663.4h0M1320.4,709.2h0M1341.0,717.7h0M1340.0,736.5h0M1318.6,663.1h0M1324.1,655.9h0M1326.3,656.7h0M1339.5,730.6h0M1338.2,695.4h0M1336.9,641.2h0M1327.6,674.9h0M1323.9,710.5h0M1331.4,736.7h0M1334.3,733.1h0M1320.2,673.2h0M1319.6,732.7h0M1326.0,668.2h0M1319.8,680.4h0M1336.4,708.0h0M1336.3,648.0h0M1339.3,645.2h0M1324.3,690.4h0M1340.6,732.4h0M1333.4,691.0h0M1327.4,713.4h0M1337.5,737.0h0M1337.8,650.2h0M1330.4,676.3h0M1321.4,730.8h0M1328.1,737.1h0M1327.5,722.5h0M1327.9,700.0h0M1320.1,723.6h0M1321.0,713.8h0M1336.6,661.4h0M1338.3,737.2h0M1318.1,676.0h0M1331.8,725.9h0M1318.4,644.1h0M1323.5,641.6h0M1340.6,727.6h0M1319.7,690.1h0M1320.5,736.8h0M1328.1,711.0h0M1325.5,691.3h0M1328.9,690.9h0M1327.3,721.6h0M1325.5,731.9h0M1322.2,737.8h0M1332.4,697.7h0M1339.1,737.8h0M1335.2,726.2h0M1326.5,693.5h0M1332.1,648.3h0M1328.9,702.9h0M1333.8,732.9h0M1327.7,696.9h0M1328.7,730.9h0M1338.6,665.2h0M1330.8,735.9h0M1323.1,731.8h0M1335.0,714.0h0M1333.9,645.1h0M1327.0,730.6h0M1328.0,733.1h0M1337.9,736.9h0M1325.9,730.2h0M1319.5,726.2h0M1329.0,714.9h0M1332.5,669.4h0M1333.4,720.3h0M1319.6,711.4h0M1327.9,720.9h0M1330.1,669.6h0M1322.7,647.1h0M1327.5,709.5h0M1326.2,646.2h0M1330.5,736.4h0M1335.9,642.5h0M1323.7,703.0h0M1338.3,682.7h0M1318.8,720.4h0M1332.0,729.2h0M1320.5,732.0h0M1327.0,652.8h0M1327.7,721.8h0M1340.8,677.1h0M1339.1,707.2h0M1334.1,704.4h0M1318.8,731.6h0M1333.5,733.3h0M1325.2,726.1h0M1339.2,682.5h0M1318.5,700.7h0M1326.0,738.1h0M1340.5,675.8h0M1336.7,716.7h0M1327.6,737.7h0M1334.7,730.6h0M1336.2,731.9h0M1320.8,667.1h0M1320.1,695.6h0M1337.1,725.1h0M1323.4,731.3h0M1320.8,731.0h0M1318.0,726.7h0M1327.5,720.6h0M1336.4,667.4h0M1340.7,666.1h0M1339.3,676.8h0M1319.9,650.9h0M1323.2,687.6h0M1325.9,730.2h0M1319.4,735.0h0M1320.9,730.1h0M1329.4,731.7h0M1330.0,698.8h0M1325.7,663.8h0M1335.1,692.5h0M1338.4,714.5h0M1337.5,732.4h0M1331.2,638.4h0M1331.0,677.7h0M1320.2,725.1h0M1320.8,738.3h0M1334.5,635.6h0M1332.2,736.2h0M1334.6,656.2h0M1332.2,736.7h0M1331.0,687.1h0M1324.2,724.7h0M1337.9,651.3h0M1339.5,731.6h0M1324.1,734.3h0M1319.4,736.1h0M1330.4,665.9h0M1338.9,637.4h0M1332.7,686.7h0M1336.1,683.9h0M1318.0,726.4h0M1336.2,734.9h0M1320.6,736.8h0M1333.1,640.3h0M1318.5,734.5h0M1318.1,693.1h0M1326.8,725.0h0M1318.1,736.5h0M1323.6,713.7h0M1327.5,646.9h0M1325.5,738.5h0M1337.3,732.4h0M1329.3,693.3h0M1323.4,682.3h0M1328.5,705.7h0M1336.9,731.0h0M1320.8,654.8h0M1330.9,737.7h0M1325.3,733.4h0M1333.5,733.3h0M1332.3,703.9h0M1319.6,711.5h0M1337.3,694.9h0M1338.8,681.0h0M1335.7,654.4h0M1326.0,710.8h0M1337.8,731.7h0" stroke="#555555" stroke-opacity="0.6" stroke-width="1.9" stroke-linecap="round" fill="none"/>
<path d="M1439.8,734.1h0M1436.1,737.8h0M1440.1,738.1h0M1432.9,734.9h0M1437.0,734.4h0M1441.2,735.4h0M1432.1,738.5h0M1441.9,730.4h0M1435.5,735.7h0M1436.3,732.3h0M1440.3,731.9h0M1429.1,737.5h0M1433.7,735.5h0M1438.2,735.4h0M1451.2,734.9h0M1442.2,730.4h0M1443.8,733.6h0M1448.0,735.8h0M1429.8,730.5h0M1441.3,733.7h0M1430.5,732.3h0M1437.6,733.2h0M1435.5,730.8h0M1437.5,736.3h0M1449.6,736.8h0M1435.2,734.5h0M1451.6,737.7h0M1433.8,731.9h0M1430.7,735.1h0M1447.0,732.6h0M1447.2,737.7h0M1449.5,735.6h0M1447.7,734.6h0M1449.5,734.6h0M1434.9,737.4h0M1440.4,738.3h0M1432.8,731.2h0M1442.2,731.3h0M1432.5,734.6h0M1439.8,737.8h0M1435.1,730.8h0M1445.6,734.3h0M1443.0,731.3h0M1450.9,733.6h0M1430.2,731.2h0M1432.8,736.6h0M1432.2,734.3h0M1442.4,734.7h0M1439.8,737.5h0M1445.5,734.1h0M1436.1,731.5h0M1450.6,730.8h0M1451.7,738.1h0M1437.9,734.8h0M1434.9,732.3h0M1449.8,737.5h0M1440.6,730.4h0M1449.4,734.8h0M1431.4,734.8h0M1440.9,732.0h0M1433.3,736.3h0M1451.6,738.6h0M1443.1,737.9h0M1446.3,735.1h0M1450.3,736.8h0M1449.2,736.7h0M1430.1,737.9h0M1430.8,735.4h0M1451.4,735.6h0M1445.5,738.4h0M1440.9,734.1h0M1431.3,733.7h0M1439.3,735.9h0M1448.1,732.8h0M1431.8,737.8h0M1430.2,736.4h0M1443.6,730.4h0M1451.3,731.3h0M1431.9,731.9h0M1446.5,734.6h0M1451.9,733.6h0M1431.7,736.8h0M1432.0,733.5h0M1443.4,731.3h0M1429.2,738.6h0M1451.4,736.4h0M1435.1,731.3h0M1431.6,731.9h0M1449.6,733.9h0M1443.0,738.6h0M1443.0,733.4h0M1446.7,734.3h0M1431.6,736.8h0M1444.0,738.0h0M1431.5,736.5h0M1447.3,734.0h0M1437.2,730.4h0M1442.4,736.6h0M1442.0,731.4h0M1437.5,735.0h0M1442.3,730.2h0M1443.7,737.1h0M1442.4,735.9h0M1439.9,732.6h0M1429.5,734.3h0M1436.2,733.6h0M1447.9,734.7h0M1443.5,736.2h0M1434.9,734.3h0M1441.2,736.8h0M1446.6,734.4h0M1437.2,736.5h0M1448.2,731.0h0M1450.6,736.6h0M1430.6,733.3h0M1429.6,731.3h0M1444.6,735.8h0M1439.2,732.8h0M1432.7,735.6h0M1447.1,732.9h0M1442.5,737.8h0M1434.0,736.5h0M1429.7,733.2h0M1442.2,730.8h0M1441.8,730.8h0M1439.8,734.2h0M1435.5,734.7h0M1450.5,734.5h0M1429.0,735.7h0M1433.5,733.3h0M1440.7,734.6h0M1450.3,732.1h0M1431.0,738.4h0M1445.1,733.6h0M1444.0,734.4h0M1429.8,734.8h0M1448.2,733.5h0M1430.0,737.6h0M1449.8,734.0h0M1432.8,732.6h0M1450.3,731.3h0M1443.8,731.8h0M1431.0,734.7h0M1447.6,735.8h0M1432.3,731.3h0M1445.2,738.6h0M1430.5,733.9h0M1450.9,733.4h0M1449.2,737.8h0M1442.2,737.1h0M1436.6,737.4h0M1439.7,738.3h0M1444.1,733.1h0M1449.8,732.1h0M1430.7,731.2h0M1441.5,730.7h0M1440.3,738.0h0M1445.2,737.2h0M1451.6,734.1h0M1449.8,734.5h0M1436.5,733.0h0M1445.3,734.7h0M1435.3,735.1h0M1445.4,736.7h0M1432.6,734.5h0M1444.1,738.1h0M1435.2,730.4h0M1435.1,732.1h0M1436.0,738.0h0M1440.2,731.2h0M1446.9,738.3h0M1445.2,733.4h0M1440.1,733.0h0M1441.0,737.1h0M1445.0,737.6h0M1436.1,731.4h0M1442.1,734.3h0M1445.3,734.5h0M1437.8,734.0h0M1429.5,735.7h0M1429.9,730.1h0M1449.9,733.1h0M1432.6,731.4h0M1435.5,731.8h0M1444.0,733.5h0M1446.1,736.4h0M1448.2,734.0h0M1446.4,731.5h0M1434.9,735.2h0M1437.3,738.0h0M1449.1,732.8h0M1440.3,734.0h0M1449.2,738.1h0M1437.2,732.8h0M1441.3,734.4h0M1435.0,736.8h0M1444.4,735.8h0M1450.6,731.0h0M1451.3,736.3h0M1440.8,737.8h0M1437.3,738.0h0M1440.5,730.5h0M1446.5,735.6h0M1435.4,730.7h0M1430.2,731.4h0M1448.7,738.1h0M1450.9,733.1h0M1437.9,735.0h0M1443.0,734.2h0M1449.0,731.0h0M1436.5,738.6h0M1446.9,733.1h0M1444.1,738.1h0M1430.7,731.0h0M1437.4,734.6h0M1451.4,737.0h0M1443.6,738.2h0M1441.9,732.4h0M1432.6,732.2h0M1451.3,731.6h0M1447.2,730.6h0M1445.5,734.0h0M1448.0,731.8h0M1443.5,733.0h0M1433.1,735.8h0M1436.5,731.3h0M1447.0,736.2h0M1451.9,738.2h0M1430.4,735.9h0M1430.8,730.5h0M1437.2,652.3h0M1448.7,696.1h0M1443.5,641.6h0M1439.6,704.6h0M1435.4,676.9h0M1440.0,670.3h0M1432.4,711.0h0M1447.4,696.9h0M1430.4,720.7h0M1432.2,651.7h0M1430.0,714.7h0M1432.4,722.9h0M1438.7,704.5h0M1439.0,671.3h0M1438.3,670.7h0M1435.5,678.2h0M1433.4,652.5h0M1441.6,660.7h0M1445.6,717.4h0M1444.6,682.3h0M1450.3,719.2h0M1439.0,711.9h0M1441.3,721.6h0M1444.4,727.5h0M1445.3,701.3h0M1439.5,645.5h0M1445.5,667.7h0M1438.9,729.2h0M1431.6,715.6h0M1433.2,678.1h0M1444.2,682.9h0M1449.9,734.0h0M1434.7,727.8h0M1432.3,676.4h0M1442.3,676.6h0M1447.6,724.9h0M1438.9,656.4h0M1444.1,710.9h0M1431.1,676.8h0M1450.8,682.7h0M1443.7,704.0h0M1446.8,636.9h0M1437.6,696.1h0M1440.8,694.3h0M1433.8,683.7h0M1444.8,650.6h0M1451.0,632.0h0M1449.1,653.9h0M1448.3,684.8h0M1432.0,658.8h0M1449.1,669.8h0M1443.3,639.3h0M1438.8,640.7h0M1441.6,660.6h0M1431.8,709.6h0M1442.2,674.5h0M1435.8,689.9h0M1435.4,708.5h0M1433.8,655.2h0M1441.8,713.8h0M1430.8,663.8h0M1441.0,682.9h0M1433.7,694.5h0M1436.0,661.4h0M1434.3,661.0h0M1429.7,639.3h0M1445.3,634.8h0M1431.6,654.9h0M1450.6,709.0h0M1441.8,668.4h0M1440.6,688.9h0M1449.3,640.0h0M1437.0,691.7h0M1433.3,695.0h0M1448.3,732.9h0" stroke="#a6c3fa" stroke-opacity="0.95" stroke-width="2.3" stroke-linecap="round" fill="none"/>
<line x1="1329.5" y1="634.7" x2="1329.5" y2="674.6" stroke="#444" stroke-width="1.4"/>
<rect x="1312.5" y="674.6" width="34.0" height="59.8" fill="none" stroke="#505050" stroke-width="1.15"/>
<line x1="1312.5" y1="704.5" x2="1346.5" y2="704.5" stroke="#2b2b2b" stroke-width="2.15"/>
<line x1="1423.5" y1="734.4" x2="1457.5" y2="734.4" stroke="#2b2b2b" stroke-width="2.15"/>
<line x1="1357" y1="648.9" x2="1413" y2="648.9" stroke="#4a4a4a" stroke-width="1.5"/>
<path d="M1368.6,632.4V641.4M1363.8,634.6L1373.5,639.2M1363.8,639.2L1373.5,634.6M1382.3,632.4V641.4M1377.4,634.6L1387.2,639.2M1377.4,639.2L1387.2,634.6M1396.0,632.4V641.4M1391.1,634.6L1400.8,639.2M1391.1,639.2L1400.8,634.6" stroke="#555" stroke-width="1.83" fill="none" stroke-linecap="round"/>
<line x1="1262.8" y1="743.0" x2="1494.6" y2="743.0" stroke="#454545" stroke-width="2.2"/>
<line x1="1329.5" y1="743.0" x2="1329.5" y2="747.6" stroke="#454545" stroke-width="2.2"/>
<text x="1329.5" y="768.0" text-anchor="middle" class="tk" style="font-size:25px">lights off</text>
<line x1="1440.5" y1="743.0" x2="1440.5" y2="747.6" stroke="#454545" stroke-width="2.2"/>
<text x="1440.5" y="768.0" text-anchor="middle" class="tk" style="font-size:25px">lights on</text>
<line x1="1261.3" y1="852.0" x2="1261.3" y2="969.5" stroke="#454545" stroke-width="2.2"/>
<line x1="1256.7" y1="860.4" x2="1261.3" y2="860.4" stroke="#454545" stroke-width="2.2"/>
<text transform="translate(1253.1,870.3) scale(0.975,1.05)" text-anchor="end" class="tk">1.0</text>
<line x1="1256.7" y1="910.4" x2="1261.3" y2="910.4" stroke="#454545" stroke-width="2.2"/>
<text transform="translate(1253.1,920.3) scale(0.975,1.05)" text-anchor="end" class="tk">0.5</text>
<line x1="1256.7" y1="960.4" x2="1261.3" y2="960.4" stroke="#454545" stroke-width="2.2"/>
<text transform="translate(1253.1,970.3) scale(0.975,1.05)" text-anchor="end" class="tk">0.0</text>
<path d="M1338.8,934.7h0M1327.3,939.8h0M1322.4,949.6h0M1317.3,956.5h0M1334.9,918.4h0M1322.4,950.2h0M1325.0,935.6h0M1338.4,959.3h0M1332.2,962.9h0M1316.6,955.9h0M1318.9,925.3h0M1322.2,927.4h0M1332.1,884.5h0M1332.8,929.2h0M1328.6,942.3h0M1335.7,957.4h0M1329.9,885.5h0M1324.3,944.0h0M1324.0,901.1h0M1329.5,961.9h0M1322.0,907.0h0M1316.8,945.3h0M1326.8,954.9h0M1336.9,947.3h0M1333.7,954.9h0M1323.8,933.6h0M1339.3,950.6h0M1325.4,920.2h0M1322.5,949.5h0M1323.6,925.9h0M1323.8,929.7h0M1336.8,921.8h0M1320.7,884.1h0M1333.1,948.5h0M1336.0,929.1h0M1330.3,942.1h0M1334.4,895.9h0M1317.9,908.6h0M1322.7,917.3h0M1325.6,932.8h0M1328.9,949.2h0M1337.0,897.0h0M1322.8,888.1h0M1319.1,885.4h0M1337.6,950.1h0M1324.8,905.4h0M1336.4,922.0h0M1339.3,907.7h0M1318.0,914.2h0M1328.1,946.4h0M1322.3,944.8h0M1332.2,916.1h0M1319.3,929.5h0M1318.6,940.5h0M1318.9,898.0h0M1336.7,963.1h0M1335.0,956.9h0M1331.5,943.5h0M1335.4,960.1h0M1317.6,901.7h0M1321.6,953.3h0M1333.8,903.2h0M1318.7,950.1h0M1319.9,953.6h0M1332.0,922.1h0M1327.5,928.7h0M1336.5,942.9h0M1332.4,931.7h0M1317.9,932.8h0M1334.4,888.5h0M1330.1,939.9h0M1333.9,936.9h0M1322.9,941.8h0M1321.4,948.2h0M1328.5,922.0h0M1333.0,958.4h0M1328.2,924.3h0M1329.8,892.2h0M1328.2,917.0h0M1336.8,936.8h0M1334.5,944.7h0M1319.3,958.6h0M1323.7,958.0h0M1327.8,939.0h0M1339.5,897.6h0M1325.0,900.1h0M1337.8,956.0h0M1331.0,916.5h0M1325.1,908.0h0M1335.0,942.8h0M1319.8,900.4h0M1326.1,954.2h0M1327.2,945.0h0M1337.1,935.7h0M1334.1,925.1h0M1325.0,946.7h0M1321.1,949.7h0M1320.6,901.9h0M1319.5,943.4h0M1326.0,945.8h0M1332.3,952.9h0M1317.0,938.2h0M1333.8,920.7h0M1323.3,948.0h0M1332.5,930.5h0M1338.7,939.3h0M1329.1,963.8h0M1323.0,887.1h0M1339.1,951.9h0M1330.1,940.4h0M1338.8,884.9h0M1335.2,950.0h0M1320.6,960.1h0M1317.4,951.7h0M1318.4,957.0h0M1320.5,900.6h0M1334.7,940.9h0M1338.8,961.6h0M1319.7,950.6h0M1335.0,943.0h0M1334.6,953.0h0M1334.9,949.6h0M1317.5,899.1h0M1333.1,942.6h0M1334.1,953.7h0M1322.9,935.1h0M1336.1,954.1h0M1320.1,936.9h0M1317.4,928.9h0M1322.4,954.6h0M1333.0,934.9h0M1321.0,952.0h0M1331.2,919.2h0M1316.7,928.2h0M1337.1,896.1h0M1328.4,930.5h0M1337.8,951.8h0M1328.4,950.7h0M1327.8,928.1h0M1329.1,911.5h0M1324.2,958.8h0M1321.6,945.3h0M1333.7,945.8h0M1327.0,938.7h0M1319.4,900.7h0M1333.6,933.2h0M1325.4,923.7h0M1338.6,917.1h0M1331.5,950.6h0M1319.1,930.3h0M1325.8,942.0h0M1331.8,939.2h0M1329.6,935.8h0M1319.6,922.8h0M1329.9,952.8h0M1320.9,909.8h0M1332.7,952.0h0M1331.8,950.0h0M1327.7,902.2h0M1331.2,879.2h0M1318.6,943.4h0M1316.8,887.0h0M1328.8,962.6h0M1326.1,886.1h0M1336.4,956.0h0M1328.2,956.5h0M1319.2,915.1h0M1338.1,955.3h0M1321.3,923.1h0M1321.6,960.8h0M1332.8,951.7h0M1329.3,942.2h0M1326.3,955.7h0M1316.5,942.3h0M1317.0,949.7h0M1335.1,924.6h0M1323.4,940.5h0M1328.6,890.0h0M1319.0,903.9h0M1325.8,957.1h0M1327.5,894.7h0M1339.5,901.1h0M1320.6,938.9h0M1329.2,934.3h0M1334.4,956.9h0M1328.9,948.8h0M1339.0,949.8h0M1330.4,954.7h0M1326.5,931.0h0M1325.2,946.9h0M1318.6,918.3h0M1339.2,935.4h0M1328.1,905.9h0M1335.2,954.9h0M1325.3,903.0h0M1321.1,938.8h0M1316.9,932.5h0M1320.5,952.1h0M1333.5,928.8h0M1336.7,947.7h0M1338.4,918.8h0M1330.6,930.7h0M1338.1,955.2h0M1336.2,952.4h0M1334.5,918.8h0M1334.4,962.8h0M1318.4,929.7h0M1330.4,935.2h0M1320.6,922.6h0M1338.8,949.4h0M1335.4,937.4h0M1332.0,941.8h0M1326.1,920.7h0M1319.4,961.1h0M1322.9,942.4h0M1337.2,951.2h0M1336.6,932.7h0M1337.2,946.6h0M1332.9,952.6h0M1322.1,950.6h0M1323.7,894.4h0M1317.5,944.7h0M1324.3,900.3h0M1329.0,917.4h0M1339.4,950.9h0M1338.5,932.2h0M1328.6,959.5h0M1321.0,888.7h0M1327.7,927.7h0M1337.7,954.8h0M1332.5,938.5h0M1319.5,940.9h0M1317.9,929.5h0M1339.1,949.9h0M1319.6,895.4h0M1317.9,929.7h0M1321.8,959.9h0M1331.1,905.7h0M1316.8,897.0h0M1329.9,948.3h0M1326.2,927.7h0M1324.6,902.6h0M1324.2,895.0h0M1324.3,954.6h0M1335.1,904.0h0M1327.8,950.5h0M1335.9,915.4h0M1321.7,929.7h0M1327.8,942.2h0M1338.5,892.4h0M1325.8,911.9h0M1318.9,879.1h0M1328.4,889.9h0M1336.7,938.5h0M1320.9,921.8h0M1339.4,929.9h0M1322.6,941.9h0M1324.2,936.8h0M1316.9,942.0h0M1323.6,948.8h0M1318.9,948.5h0M1336.9,901.2h0M1335.0,908.9h0M1327.6,927.0h0M1319.3,927.5h0M1333.4,938.9h0M1319.5,936.4h0M1318.0,923.4h0M1333.8,960.3h0M1338.6,938.5h0M1321.3,862.5h0M1320.9,859.3h0M1330.2,860.2h0M1334.3,870.1h0M1323.7,874.0h0" stroke="#555555" stroke-opacity="0.6" stroke-width="1.9" stroke-linecap="round" fill="none"/>
<path d="M1431.9,956.6h0M1438.6,959.5h0M1426.5,955.8h0M1436.4,962.8h0M1445.8,956.9h0M1443.1,956.6h0M1440.4,953.5h0M1427.4,959.2h0M1429.9,955.4h0M1431.1,962.1h0M1429.2,960.8h0M1438.5,956.9h0M1436.8,961.4h0M1438.2,961.2h0M1428.2,963.8h0M1429.6,957.6h0M1429.9,960.5h0M1429.9,954.7h0M1446.2,958.2h0M1427.8,953.8h0M1428.0,955.3h0M1443.5,958.1h0M1446.6,960.4h0M1442.7,954.5h0M1446.7,956.5h0M1436.1,960.0h0M1445.6,958.5h0M1432.0,962.6h0M1430.8,963.0h0M1447.5,959.8h0M1434.2,955.3h0M1442.0,959.9h0M1428.5,958.1h0M1432.8,954.1h0M1435.8,953.3h0M1432.3,961.0h0M1446.8,962.3h0M1444.2,957.8h0M1432.6,955.8h0M1436.0,954.8h0M1438.9,953.5h0M1447.5,957.9h0M1442.0,957.2h0M1441.2,961.7h0M1441.9,957.3h0M1430.6,963.8h0M1427.7,957.3h0M1428.5,954.3h0M1435.7,954.8h0M1443.0,957.0h0M1430.3,958.2h0M1440.1,956.0h0M1446.6,958.9h0M1426.6,955.6h0M1441.9,958.6h0M1444.6,954.1h0M1440.5,955.9h0M1429.0,955.5h0M1441.4,962.4h0M1430.0,957.1h0M1433.1,954.5h0M1432.5,959.3h0M1437.7,956.4h0M1433.1,954.5h0M1442.7,956.9h0M1447.9,954.3h0M1443.3,958.4h0M1427.1,959.4h0M1441.1,963.6h0M1440.9,961.2h0M1435.0,957.6h0M1445.4,956.1h0M1436.4,958.0h0M1448.8,955.8h0M1440.1,961.9h0M1446.8,964.3h0M1428.8,958.9h0M1430.6,954.4h0M1441.9,959.7h0M1447.0,955.8h0M1441.2,953.6h0M1444.5,958.6h0M1445.1,954.5h0M1442.1,960.6h0M1434.7,956.1h0M1434.5,959.5h0M1436.6,960.8h0M1437.0,960.2h0M1442.8,962.4h0M1447.6,960.5h0M1440.6,957.9h0M1430.7,955.6h0M1438.7,956.2h0M1430.4,956.7h0M1445.3,956.4h0M1431.7,960.3h0M1446.3,962.1h0M1437.1,957.2h0M1436.0,964.4h0M1428.5,955.3h0M1436.6,959.9h0M1436.5,961.4h0M1428.0,956.2h0M1443.6,960.6h0M1433.4,961.1h0M1433.4,958.7h0M1443.4,957.6h0M1445.6,952.5h0M1439.2,962.8h0M1429.2,956.8h0M1429.1,955.0h0M1427.3,960.9h0M1449.0,960.1h0M1438.9,958.4h0M1428.8,960.2h0M1434.6,955.7h0M1444.1,958.1h0M1430.3,956.8h0M1447.2,961.2h0M1434.1,956.5h0M1449.0,962.8h0M1442.0,960.6h0M1438.3,955.9h0M1428.3,957.3h0M1433.4,957.8h0M1442.5,957.2h0M1429.6,955.8h0M1442.2,958.0h0M1443.3,956.4h0M1431.7,957.8h0M1444.7,961.1h0M1446.9,959.4h0M1448.1,959.0h0M1448.5,955.2h0M1444.1,960.4h0M1436.6,957.4h0M1444.6,958.4h0M1446.8,960.8h0M1438.1,960.5h0M1430.0,959.7h0M1427.2,959.5h0M1440.4,958.7h0M1444.4,958.1h0M1441.8,960.9h0M1433.7,960.8h0M1429.8,956.0h0M1429.2,956.2h0M1434.8,958.0h0M1446.1,955.0h0M1448.3,956.4h0M1435.3,952.9h0M1443.6,960.5h0M1433.7,958.4h0M1445.5,961.9h0M1446.6,957.4h0M1439.7,960.3h0M1434.9,958.4h0M1442.6,958.4h0M1442.5,956.9h0M1428.1,963.5h0M1447.7,959.3h0M1444.8,960.1h0M1431.3,963.4h0M1436.0,957.2h0M1427.4,963.1h0M1432.7,953.3h0M1443.4,958.6h0M1435.4,960.6h0M1442.4,961.3h0M1434.3,959.7h0M1431.6,959.2h0M1443.3,959.2h0M1427.4,959.0h0M1439.2,959.2h0M1435.0,959.6h0M1434.5,963.0h0M1446.2,963.7h0M1446.9,962.6h0M1438.8,959.5h0M1435.5,957.6h0M1446.4,960.5h0M1427.5,960.1h0M1446.3,955.7h0M1443.4,957.4h0M1433.5,957.1h0M1439.2,954.3h0M1429.8,961.2h0M1442.0,954.5h0M1436.8,954.4h0M1428.6,955.7h0M1433.7,958.2h0M1432.9,962.4h0M1432.3,954.9h0M1442.5,954.1h0M1435.6,961.1h0M1444.7,962.2h0M1442.6,958.0h0M1436.3,964.3h0M1431.3,955.3h0M1436.7,953.9h0M1444.7,958.8h0M1448.7,964.7h0M1435.3,957.2h0M1427.3,953.2h0M1429.5,957.2h0M1432.3,960.0h0M1436.8,960.9h0M1430.0,955.7h0M1440.5,960.1h0M1448.5,962.3h0M1431.2,961.4h0M1434.5,956.5h0M1446.9,962.1h0M1439.3,957.6h0M1432.0,960.4h0M1436.3,954.2h0M1444.0,956.6h0M1427.7,959.7h0M1444.9,957.5h0M1435.1,957.6h0M1427.0,957.4h0M1441.9,960.5h0M1435.7,953.5h0M1432.1,957.1h0M1434.1,957.1h0M1435.1,958.4h0M1447.4,955.1h0M1449.1,958.0h0M1436.8,959.4h0M1446.0,960.0h0M1441.7,963.2h0M1438.6,960.3h0M1447.1,960.1h0M1448.0,959.8h0M1433.9,956.0h0M1447.5,957.5h0M1445.1,956.1h0M1440.3,963.4h0M1445.2,957.8h0M1441.0,959.0h0M1443.6,949.4h0M1433.5,945.4h0M1443.9,950.0h0M1445.4,953.8h0M1434.9,944.2h0M1446.9,947.3h0M1436.1,951.6h0M1427.2,947.4h0M1445.2,947.5h0M1436.8,948.8h0M1426.6,952.5h0M1431.9,950.6h0M1434.2,948.1h0M1446.7,949.8h0M1428.7,957.2h0M1445.3,948.9h0M1436.3,956.7h0M1428.5,954.0h0M1446.7,956.5h0M1433.5,947.6h0M1439.3,949.4h0M1441.0,947.4h0M1448.7,956.1h0M1432.9,956.3h0M1432.8,954.5h0M1426.8,947.7h0M1432.4,954.0h0M1444.8,948.4h0M1426.7,946.4h0M1445.7,954.6h0M1440.0,948.1h0M1445.0,950.4h0M1434.2,946.5h0M1436.9,951.9h0M1441.6,946.3h0M1441.1,953.1h0M1435.4,949.9h0M1429.1,955.2h0M1441.8,947.6h0M1433.7,951.8h0M1442.3,952.1h0M1439.9,954.0h0M1442.7,954.7h0M1448.5,949.1h0M1446.2,955.5h0M1442.7,952.6h0M1442.2,950.1h0M1435.5,942.7h0M1436.2,950.4h0M1442.5,949.6h0M1446.7,948.8h0M1446.5,957.7h0M1428.9,947.9h0M1431.6,953.1h0M1430.7,948.5h0M1443.1,949.2h0M1429.2,952.9h0M1439.5,957.0h0M1442.6,949.2h0M1447.5,950.0h0M1441.2,945.8h0M1437.8,953.3h0M1427.5,948.2h0M1441.4,945.3h0M1437.9,954.0h0M1447.2,957.4h0M1429.3,943.6h0M1443.6,947.7h0M1448.8,950.5h0M1429.7,948.2h0M1437.4,948.5h0M1444.2,954.7h0M1448.4,949.0h0M1432.6,949.7h0M1431.5,947.2h0M1432.4,948.9h0M1436.9,955.0h0M1445.0,948.4h0M1447.4,955.7h0M1426.7,953.5h0M1443.1,951.9h0M1448.2,943.7h0M1441.8,957.8h0M1435.3,950.2h0M1435.2,946.3h0M1433.4,953.5h0M1438.5,946.6h0M1441.0,956.8h0M1436.0,951.1h0M1444.8,948.4h0M1436.3,949.3h0M1432.9,951.8h0M1448.6,955.9h0M1438.5,952.6h0M1433.8,946.8h0M1435.8,947.1h0M1438.9,950.0h0M1439.3,948.3h0M1435.1,957.6h0M1434.5,957.9h0M1426.4,950.5h0M1438.2,950.8h0M1442.3,958.3h0M1429.0,949.1h0M1427.0,950.0h0M1437.8,949.8h0M1445.9,949.8h0M1434.0,953.4h0M1443.8,949.3h0M1442.7,944.7h0M1443.3,952.5h0M1443.2,956.1h0M1439.5,948.7h0M1447.6,946.7h0M1439.2,950.1h0M1428.5,949.0h0M1447.5,953.1h0M1443.9,949.4h0M1442.5,958.2h0M1439.8,944.3h0M1426.8,933.6h0M1438.1,942.1h0M1433.2,931.4h0M1443.1,934.8h0M1427.7,939.2h0M1440.7,947.1h0M1443.6,934.5h0M1434.6,939.0h0M1429.5,936.3h0M1441.0,935.4h0M1441.4,947.4h0M1448.5,932.5h0M1447.3,940.0h0M1431.0,940.4h0M1440.2,946.8h0M1442.0,942.5h0M1441.7,944.5h0M1448.3,934.4h0M1436.1,927.7h0M1449.0,945.0h0M1430.5,944.0h0M1437.4,943.5h0M1431.6,934.2h0M1426.5,939.8h0M1435.5,933.9h0M1432.1,944.2h0M1431.0,949.9h0M1446.0,938.3h0M1432.9,931.1h0M1434.6,943.9h0M1429.3,946.4h0M1446.2,932.9h0M1444.9,941.8h0M1431.4,935.4h0M1429.1,934.1h0M1438.6,945.0h0M1442.5,942.3h0M1440.1,946.2h0M1429.3,942.6h0M1430.3,938.2h0M1443.6,932.9h0M1436.5,934.4h0M1429.3,932.7h0M1434.6,935.7h0M1434.6,939.1h0M1429.8,936.0h0M1436.1,938.9h0M1446.2,941.4h0M1431.4,943.0h0M1439.0,930.6h0M1426.8,937.9h0M1442.3,937.1h0M1435.8,936.1h0M1428.3,933.0h0M1446.1,942.7h0M1446.8,936.6h0M1447.3,943.1h0M1435.8,940.2h0M1433.3,942.9h0M1426.6,933.5h0M1438.8,945.9h0M1432.1,937.6h0M1430.1,939.4h0M1446.2,937.8h0M1429.1,933.4h0M1432.9,947.9h0M1442.4,938.1h0M1432.3,945.6h0M1442.7,932.5h0M1434.2,934.8h0M1431.2,943.2h0M1439.5,944.4h0M1440.0,914.9h0M1427.1,917.3h0M1435.6,888.8h0M1438.7,885.9h0M1440.5,887.5h0M1440.1,908.4h0M1428.8,904.3h0M1447.5,919.6h0M1445.1,907.0h0M1436.1,885.8h0M1437.2,924.0h0M1444.4,907.3h0M1438.0,916.8h0M1434.7,892.3h0M1435.9,915.0h0M1443.9,908.3h0M1426.7,925.9h0M1430.5,892.8h0M1439.1,907.8h0M1438.1,888.0h0M1431.2,890.4h0M1427.4,896.2h0M1439.8,915.7h0M1440.0,914.2h0M1430.7,904.4h0M1438.5,929.2h0M1435.2,884.5h0M1446.4,896.2h0M1442.0,905.1h0M1432.6,908.8h0M1432.0,928.2h0M1430.5,901.0h0M1442.0,892.9h0M1428.8,923.7h0M1433.9,925.0h0M1441.2,900.4h0M1427.2,904.2h0M1446.1,894.4h0M1431.2,910.5h0M1445.3,882.9h0M1448.1,890.3h0M1446.9,918.1h0M1439.9,899.5h0M1442.7,897.5h0M1434.2,904.0h0M1446.9,891.4h0M1443.8,891.5h0M1431.0,890.4h0" stroke="#a6c3fa" stroke-opacity="0.95" stroke-width="2.3" stroke-linecap="round" fill="none"/>
<line x1="1328.0" y1="880.4" x2="1328.0" y2="920.4" stroke="#444" stroke-width="1.4"/>
<line x1="1328.0" y1="950.4" x2="1328.0" y2="960.4" stroke="#444" stroke-width="1.4"/>
<rect x="1311.0" y="920.4" width="34.0" height="30.0" fill="none" stroke="#505050" stroke-width="1.15"/>
<line x1="1311.0" y1="940.4" x2="1345.0" y2="940.4" stroke="#2b2b2b" stroke-width="2.15"/>
<line x1="1437.6" y1="941.4" x2="1437.6" y2="950.4" stroke="#444" stroke-width="1.4"/>
<rect x="1420.6" y="950.4" width="34.0" height="10.0" fill="none" stroke="#505050" stroke-width="1.15"/>
<line x1="1420.6" y1="960.4" x2="1454.6" y2="960.4" stroke="#2b2b2b" stroke-width="2.15"/>
<line x1="1357" y1="894.2" x2="1413" y2="894.2" stroke="#4a4a4a" stroke-width="1.5"/>
<path d="M1371.1,881.5V888.9M1367.1,883.3L1375.1,887.1M1367.1,887.1L1375.1,883.3M1382.3,881.5V888.9M1378.3,883.3L1386.3,887.1M1378.3,887.1L1386.3,883.3M1393.5,881.5V888.9M1389.5,883.3L1397.5,887.1M1389.5,887.1L1397.5,883.3" stroke="#555" stroke-width="1.50" fill="none" stroke-linecap="round"/>
<line x1="1261.3" y1="979.4" x2="1261.3" y2="1095.8" stroke="#454545" stroke-width="2.2"/>
<line x1="1256.7" y1="987.2" x2="1261.3" y2="987.2" stroke="#454545" stroke-width="2.2"/>
<text transform="translate(1253.1,997.1) scale(0.975,1.05)" text-anchor="end" class="tk">1.0</text>
<line x1="1256.7" y1="1037.2" x2="1261.3" y2="1037.2" stroke="#454545" stroke-width="2.2"/>
<text transform="translate(1253.1,1047.1) scale(0.975,1.05)" text-anchor="end" class="tk">0.5</text>
<line x1="1256.7" y1="1087.2" x2="1261.3" y2="1087.2" stroke="#454545" stroke-width="2.2"/>
<text transform="translate(1253.1,1097.1) scale(0.975,1.05)" text-anchor="end" class="tk">0.0</text>
<path d="M1332.3,1033.6h0M1328.5,1061.6h0M1322.1,1005.0h0M1324.7,1068.5h0M1322.1,1071.5h0M1336.6,1078.1h0M1337.9,1073.8h0M1321.0,1012.3h0M1335.7,1074.1h0M1321.7,1008.1h0M1330.1,1030.8h0M1322.1,1056.7h0M1331.8,1075.6h0M1329.6,1086.9h0M1324.5,1086.1h0M1333.6,1019.2h0M1326.5,993.2h0M1335.5,993.1h0M1335.1,1072.0h0M1317.4,996.1h0M1326.9,1067.2h0M1333.5,1075.9h0M1330.0,1009.0h0M1333.3,1024.7h0M1325.2,1047.7h0M1335.1,1074.5h0M1323.4,1080.8h0M1320.8,1077.3h0M1330.4,1074.4h0M1330.7,1075.3h0M1332.5,1059.0h0M1330.1,1074.0h0M1323.1,1080.2h0M1334.9,1009.1h0M1338.7,1070.9h0M1328.1,1088.0h0M1332.7,1085.5h0M1338.2,1058.9h0M1325.3,1087.9h0M1317.5,1057.9h0M1326.3,1087.1h0M1317.7,1068.5h0M1337.2,1054.9h0M1333.6,1060.2h0M1331.7,1077.7h0M1322.2,1018.0h0M1329.9,988.7h0M1328.4,1025.7h0M1337.3,999.7h0M1324.4,991.6h0M1320.0,1075.2h0M1336.8,1062.3h0M1334.9,1073.1h0M1327.3,1032.2h0M1335.0,1079.6h0M1325.5,1079.1h0M1321.4,1071.6h0M1332.4,1063.5h0M1318.9,990.0h0M1326.9,1069.6h0M1325.4,1087.9h0M1338.9,1069.8h0M1327.1,1012.7h0M1321.7,1086.4h0M1327.4,1063.8h0M1318.9,1055.4h0M1320.5,1018.5h0M1324.4,1072.7h0M1334.5,1055.1h0M1325.3,1000.3h0M1321.4,991.7h0M1335.1,1062.5h0M1339.0,1070.1h0M1324.9,1048.8h0M1332.0,1041.0h0M1324.9,1043.7h0M1327.6,1046.7h0M1329.4,1075.1h0M1327.3,1043.0h0M1320.3,1072.9h0M1332.7,1077.7h0M1328.0,1081.7h0M1326.2,1056.7h0M1321.4,1084.6h0M1329.6,1074.2h0M1325.3,1076.2h0M1324.4,1074.5h0M1334.7,1067.4h0M1322.9,991.7h0M1327.1,1067.2h0M1333.4,1061.0h0M1339.3,1067.7h0M1337.3,1063.5h0M1319.0,1021.7h0M1319.0,1062.9h0M1320.5,1064.0h0M1317.7,1076.7h0M1336.5,1079.7h0M1326.9,1074.6h0M1334.5,1086.0h0M1332.7,1076.8h0M1327.2,1087.2h0M1321.7,1072.3h0M1322.8,1061.1h0M1336.6,1083.7h0M1329.4,1033.4h0M1332.1,1072.1h0M1338.4,1048.6h0M1335.8,1071.5h0M1335.6,1027.1h0M1317.2,1046.7h0M1332.6,1082.0h0M1338.3,1058.8h0M1335.7,1072.5h0M1324.4,1034.1h0M1316.6,1069.8h0M1318.5,1078.2h0M1326.6,1089.5h0M1331.1,987.5h0M1321.6,1084.6h0M1334.2,1076.9h0M1316.9,1002.7h0M1338.2,1087.1h0M1323.2,1071.2h0M1336.9,1067.2h0M1325.4,1044.1h0M1317.1,1034.5h0M1325.1,991.1h0M1319.7,1078.4h0M1336.1,1086.5h0M1317.8,1082.1h0M1318.3,1088.8h0M1329.8,1075.1h0M1323.1,1052.6h0M1324.1,1007.7h0M1319.0,1082.2h0M1316.5,1072.8h0M1321.3,1008.9h0M1320.8,1057.2h0M1322.6,1070.0h0M1334.4,1081.4h0M1338.9,1085.3h0M1329.1,1079.8h0M1323.1,1053.2h0M1338.9,1088.7h0M1333.7,1068.4h0M1330.2,1025.7h0M1333.0,1087.1h0M1323.6,1076.1h0M1316.6,1074.1h0M1337.4,1057.6h0M1325.6,1037.5h0M1317.3,1042.1h0M1321.3,1065.9h0M1326.5,1072.9h0M1330.4,1055.6h0M1328.1,1066.7h0M1334.7,999.4h0M1332.1,1066.9h0M1325.9,1056.9h0M1317.4,1045.0h0M1318.8,1067.4h0M1322.6,1070.4h0M1338.4,1046.5h0M1333.4,1054.3h0M1329.5,984.3h0M1318.0,1076.0h0M1321.5,1066.6h0M1325.6,988.7h0M1321.9,1026.3h0M1337.6,1058.8h0M1326.4,1076.1h0M1333.4,1083.1h0M1333.1,1072.9h0M1335.0,1073.8h0M1337.5,1066.8h0M1317.1,1079.9h0M1337.5,1065.2h0M1323.2,1055.8h0M1329.8,1085.3h0M1332.3,1048.9h0M1319.8,1039.0h0M1333.0,1081.6h0M1326.3,1075.7h0M1325.0,1087.8h0M1328.6,1064.5h0M1318.7,1048.3h0M1327.6,1066.6h0M1339.3,1060.8h0M1331.3,1057.7h0M1321.3,1088.6h0M1328.0,1080.8h0M1338.7,1067.5h0M1337.2,1000.6h0M1318.2,1039.0h0M1322.8,1065.3h0M1319.5,1073.4h0M1328.3,1081.8h0M1320.7,1049.8h0M1334.0,1033.8h0M1339.0,1071.2h0M1337.3,1086.9h0M1333.4,1075.3h0M1336.8,1043.7h0M1327.1,1030.3h0M1322.4,1072.3h0M1336.0,1008.5h0M1327.8,1075.8h0M1334.1,1087.0h0M1322.0,1080.0h0M1319.7,1006.2h0M1334.8,1038.5h0M1332.0,1086.6h0M1326.2,1071.5h0M1316.5,1072.8h0M1319.9,1070.8h0M1322.8,1085.2h0M1318.0,999.7h0M1326.4,1066.3h0M1318.8,1076.4h0M1324.5,1085.9h0M1319.0,1059.9h0M1328.1,1004.2h0M1328.0,1038.0h0M1330.1,1018.6h0M1331.0,1016.1h0M1319.8,1051.6h0M1328.7,1087.7h0M1322.9,1078.0h0M1337.1,1060.4h0M1332.0,1067.9h0M1326.8,1077.8h0M1324.2,1081.8h0M1332.3,1017.7h0M1332.7,1050.2h0M1327.6,1078.0h0M1327.6,1067.1h0M1333.4,1014.2h0M1317.8,1081.9h0M1337.5,1051.3h0M1330.7,1075.6h0M1331.2,1002.4h0M1338.5,1025.1h0M1335.1,1000.7h0M1322.6,1070.1h0M1329.9,1063.2h0M1334.3,1075.8h0M1320.4,1071.8h0M1319.1,996.6h0M1322.8,994.1h0M1331.5,987.2h0M1330.7,1009.3h0M1337.1,1065.9h0M1337.4,1047.0h0M1331.4,1002.3h0M1333.7,1068.8h0M1317.4,1007.5h0M1333.0,1024.8h0M1325.4,1078.3h0M1326.7,1069.9h0M1333.9,1047.5h0M1321.1,1083.2h0M1333.6,1079.1h0M1336.9,1080.2h0M1320.9,1083.7h0M1319.7,1002.3h0M1317.0,988.4h0M1325.2,1027.1h0M1321.6,1062.5h0M1336.3,1038.4h0" stroke="#555555" stroke-opacity="0.6" stroke-width="1.9" stroke-linecap="round" fill="none"/>
<path d="M1426.6,1079.2h0M1438.6,1079.4h0M1448.1,1085.2h0M1448.4,1085.5h0M1430.2,1086.3h0M1449.0,1080.9h0M1434.2,1083.8h0M1445.0,1081.6h0M1446.7,1083.5h0M1431.4,1086.2h0M1447.6,1081.7h0M1446.2,1086.0h0M1437.8,1081.4h0M1439.2,1080.4h0M1444.7,1086.3h0M1442.0,1083.6h0M1436.2,1084.1h0M1444.7,1079.1h0M1448.8,1087.1h0M1441.7,1082.5h0M1445.7,1086.1h0M1436.8,1084.7h0M1444.6,1083.9h0M1426.2,1087.2h0M1429.4,1082.0h0M1443.9,1084.1h0M1427.9,1083.0h0M1440.2,1083.6h0M1432.3,1085.3h0M1431.4,1081.7h0M1434.9,1084.4h0M1438.7,1086.9h0M1432.5,1080.8h0M1446.0,1078.9h0M1429.6,1089.1h0M1428.4,1088.4h0M1435.0,1084.1h0M1447.2,1082.2h0M1429.4,1087.4h0M1429.4,1085.3h0M1439.3,1086.2h0M1430.1,1087.4h0M1446.7,1081.2h0M1439.9,1088.1h0M1433.0,1082.0h0M1426.4,1084.5h0M1448.1,1082.3h0M1427.2,1090.9h0M1444.2,1086.5h0M1435.8,1084.6h0M1441.6,1084.2h0M1441.8,1082.0h0M1436.9,1084.7h0M1441.9,1083.8h0M1441.9,1078.8h0M1444.1,1080.1h0M1431.9,1081.1h0M1430.9,1086.8h0M1434.0,1083.1h0M1432.9,1085.1h0M1447.4,1081.2h0M1443.5,1087.5h0M1445.0,1086.5h0M1426.3,1087.6h0M1433.8,1087.7h0M1445.9,1087.3h0M1445.7,1084.1h0M1434.7,1088.3h0M1427.2,1086.4h0M1448.0,1082.9h0M1447.5,1089.8h0M1436.3,1080.6h0M1429.6,1089.6h0M1430.8,1085.8h0M1443.1,1084.0h0M1448.8,1087.1h0M1442.3,1081.0h0M1430.2,1087.6h0M1448.6,1081.7h0M1427.7,1089.2h0M1441.2,1085.9h0M1436.1,1085.6h0M1428.2,1084.7h0M1438.6,1083.3h0M1426.2,1088.0h0M1427.8,1085.5h0M1429.9,1083.8h0M1448.4,1084.3h0M1441.5,1084.9h0M1430.7,1083.0h0M1448.4,1090.6h0M1445.4,1084.6h0M1430.7,1082.0h0M1445.7,1088.5h0M1430.6,1087.0h0M1430.8,1082.6h0M1448.9,1087.2h0M1435.9,1085.9h0M1429.9,1085.4h0M1447.9,1082.7h0M1438.9,1082.3h0M1445.9,1083.0h0M1433.8,1085.1h0M1447.2,1082.8h0M1446.4,1089.3h0M1444.3,1086.0h0M1429.1,1087.5h0M1434.4,1084.7h0M1441.2,1083.3h0M1436.0,1085.5h0M1435.5,1084.2h0M1432.2,1091.4h0M1432.0,1084.3h0M1444.5,1085.3h0M1436.2,1085.1h0M1430.4,1088.7h0M1449.0,1082.5h0M1435.4,1084.6h0M1437.4,1085.1h0M1435.7,1083.2h0M1446.8,1079.0h0M1432.7,1086.6h0M1431.2,1081.5h0M1429.2,1083.4h0M1426.4,1085.9h0M1436.7,1086.7h0M1429.6,1085.5h0M1437.0,1085.8h0M1427.3,1087.4h0M1434.1,1087.0h0M1439.9,1088.2h0M1438.3,1083.3h0M1426.4,1083.6h0M1440.8,1079.7h0M1442.0,1083.6h0M1441.3,1088.7h0M1444.8,1083.9h0M1437.3,1079.7h0M1427.2,1080.3h0M1434.3,1083.2h0M1444.4,1086.0h0M1437.5,1090.2h0M1426.9,1080.8h0M1431.1,1087.8h0M1428.9,1081.7h0M1437.8,1081.1h0M1432.4,1086.2h0M1431.8,1082.5h0M1442.4,1085.5h0M1439.5,1086.6h0M1448.0,1087.9h0M1429.9,1084.7h0M1448.5,1080.9h0M1431.8,1081.4h0M1436.6,1086.3h0M1441.0,1085.7h0M1446.3,1080.5h0M1433.4,1079.7h0M1433.4,1073.1h0M1429.7,1071.5h0M1433.0,1070.6h0M1441.4,1074.6h0M1448.2,1076.3h0M1443.3,1074.4h0M1426.5,1076.7h0M1428.8,1076.1h0M1428.4,1078.4h0M1438.6,1084.5h0M1447.6,1080.3h0M1440.3,1079.9h0M1429.6,1080.5h0M1426.9,1078.6h0M1437.5,1074.0h0M1443.6,1082.3h0M1430.8,1072.2h0M1441.9,1074.6h0M1430.9,1083.3h0M1434.5,1076.8h0M1444.4,1082.3h0M1433.9,1079.4h0M1430.9,1083.7h0M1448.5,1076.4h0M1433.4,1084.0h0M1436.7,1084.4h0M1444.2,1070.0h0M1442.5,1073.5h0M1445.4,1068.9h0M1430.3,1079.9h0M1430.1,1077.8h0M1444.4,1073.5h0M1443.1,1079.9h0M1427.6,1078.3h0M1427.8,1074.9h0M1445.7,1075.7h0M1432.2,1081.1h0M1438.9,1080.5h0M1446.9,1083.8h0M1436.8,1074.8h0M1434.8,1074.9h0M1434.9,1081.4h0M1430.6,1081.3h0M1438.2,1072.6h0M1437.2,1080.6h0M1426.9,1076.7h0M1434.0,1080.0h0M1437.0,1078.3h0M1434.2,1078.9h0M1440.6,1081.4h0M1427.2,1073.1h0M1440.0,1080.2h0M1431.4,1077.6h0M1442.6,1074.2h0M1438.3,1078.3h0M1440.6,1078.6h0M1426.2,1069.8h0M1444.6,1069.4h0M1447.8,1069.5h0M1436.8,1080.9h0M1442.3,1077.6h0M1433.5,1080.5h0M1440.0,1071.1h0M1443.8,1078.4h0M1430.8,1075.0h0M1429.1,1073.2h0M1447.4,1071.3h0M1432.1,1077.8h0M1443.7,1082.1h0M1441.0,1079.4h0M1447.0,1077.1h0M1441.5,1080.8h0M1446.6,1070.6h0M1441.9,1077.7h0M1428.6,1072.9h0M1431.2,1073.2h0M1431.2,1073.1h0M1433.8,1082.4h0M1439.4,1073.9h0M1449.0,1076.6h0M1428.4,1079.4h0M1428.7,1074.1h0M1438.2,1074.2h0M1441.6,1071.7h0M1445.0,1075.4h0M1432.0,1074.7h0M1426.8,1075.4h0M1426.8,1073.6h0M1438.4,1077.0h0M1448.9,1080.5h0M1446.8,1083.0h0M1442.2,1076.8h0M1434.9,1070.3h0M1443.7,1078.4h0M1432.6,1078.3h0M1427.9,1078.5h0M1438.2,1083.6h0M1438.3,1077.2h0M1433.0,1072.2h0M1429.6,1074.2h0M1429.2,1072.2h0M1431.0,1076.6h0M1447.2,1072.7h0M1432.6,1071.5h0M1427.7,1069.5h0M1442.0,1079.7h0M1429.3,1078.7h0M1434.1,1076.6h0M1444.2,1083.1h0M1444.7,1077.1h0M1438.6,1083.0h0M1427.8,1075.8h0M1441.2,1073.5h0M1440.8,1073.5h0M1429.0,1074.7h0M1446.7,1072.2h0M1440.8,1072.3h0M1434.3,1083.4h0M1431.1,1082.2h0M1428.2,1084.7h0M1443.5,1074.3h0M1442.1,1078.2h0M1430.9,1068.6h0M1434.9,1072.8h0M1431.6,1078.5h0M1438.2,1083.9h0M1432.0,1070.2h0M1444.3,1075.4h0M1441.2,1075.0h0M1436.9,1067.6h0M1439.7,1063.8h0M1439.1,1065.3h0M1437.1,1064.2h0M1426.8,1068.7h0M1437.2,1067.4h0M1436.2,1064.5h0M1432.3,1064.7h0M1447.2,1072.7h0M1439.6,1064.1h0M1427.3,1067.3h0M1438.4,1065.6h0M1439.2,1069.8h0M1440.2,1067.9h0M1430.5,1068.9h0M1447.6,1057.7h0M1440.3,1062.1h0M1443.3,1062.0h0M1442.4,1063.4h0M1438.9,1062.0h0M1439.6,1067.6h0M1434.9,1059.7h0M1441.2,1064.2h0M1436.2,1065.8h0M1432.8,1066.5h0M1446.3,1068.5h0M1441.0,1057.2h0M1440.8,1064.1h0M1435.3,1064.2h0M1434.5,1069.3h0M1440.6,1059.1h0M1441.2,1066.1h0M1434.2,1065.4h0M1429.1,1063.6h0M1437.4,1066.1h0M1442.0,1061.8h0M1449.0,1068.8h0M1427.6,1058.3h0M1431.3,1071.4h0M1449.1,1059.0h0M1432.8,1066.3h0M1431.3,1062.2h0M1429.2,1061.6h0M1443.0,1068.8h0M1428.6,1054.6h0M1446.6,1065.8h0M1446.1,1060.6h0M1448.8,1064.4h0M1436.1,1065.5h0M1439.4,1060.1h0M1446.4,1063.2h0M1446.4,1059.1h0M1444.7,1064.5h0M1447.6,1066.4h0M1434.4,1060.9h0M1431.5,1062.9h0M1433.0,1060.3h0M1445.0,1069.3h0M1437.6,1065.3h0M1429.7,1056.3h0M1430.9,1066.3h0M1430.0,1065.6h0M1433.3,1072.3h0M1429.6,1069.5h0M1429.1,1067.0h0M1448.4,1066.9h0M1435.2,1062.6h0M1427.8,1074.3h0M1446.1,1067.9h0M1430.1,1066.8h0M1443.2,1066.3h0M1435.3,1062.6h0M1436.7,1061.1h0M1433.3,1063.4h0M1431.9,1055.4h0M1428.2,1060.1h0M1443.0,1068.3h0M1448.3,1069.9h0M1441.1,1073.0h0M1430.8,1060.2h0M1448.5,1063.6h0M1444.9,1069.1h0M1427.9,1068.5h0M1428.3,1057.6h0M1445.5,1065.5h0M1429.4,1064.5h0M1443.3,1073.4h0M1442.3,1066.7h0M1434.8,1066.0h0M1428.0,1061.0h0M1433.0,1055.0h0M1446.9,1068.2h0M1437.9,1058.3h0M1433.7,1067.0h0M1438.7,1066.1h0M1436.3,1063.4h0M1448.8,1035.0h0M1445.8,1047.8h0M1427.8,1057.8h0M1437.6,1043.1h0M1443.0,1049.9h0M1444.0,1058.5h0M1427.4,1056.1h0M1433.7,1044.5h0M1446.9,1045.6h0M1443.9,1055.2h0M1438.1,1054.3h0M1448.0,1032.1h0M1439.2,1039.4h0M1429.5,1030.4h0M1438.8,1045.2h0M1429.0,1032.6h0M1446.1,1042.7h0M1446.8,1043.3h0M1430.6,1055.5h0M1437.3,1054.9h0M1428.8,1039.4h0M1447.8,1037.7h0M1448.0,1049.8h0M1437.6,1056.9h0M1435.9,1040.5h0M1448.9,1037.7h0M1441.2,1054.9h0M1448.5,1034.8h0M1442.1,1042.7h0M1430.8,1052.3h0M1435.8,1055.4h0M1435.2,1043.2h0M1442.4,1029.9h0M1438.6,1053.0h0M1437.9,1054.3h0M1443.1,1052.0h0M1428.5,1053.0h0M1428.9,1049.8h0M1426.4,1043.6h0M1427.6,1048.4h0M1430.5,1040.4h0M1442.5,1047.4h0M1446.2,1053.5h0M1442.6,1047.3h0M1430.0,1053.3h0M1447.7,1060.1h0M1442.2,1054.6h0M1446.4,1057.3h0M1431.8,1037.3h0M1428.6,1054.3h0M1432.9,1049.0h0M1430.0,1032.0h0M1429.7,1038.2h0M1429.5,1045.9h0M1427.3,1045.8h0M1438.4,1045.7h0M1447.4,1051.5h0M1448.9,1055.3h0M1444.7,1055.4h0M1449.0,1051.7h0M1436.9,1054.4h0M1446.3,1048.4h0M1448.9,1051.3h0M1443.3,1039.9h0M1430.0,1049.4h0M1442.5,1047.9h0M1427.7,1043.3h0M1431.1,1042.5h0M1443.8,1037.0h0M1434.6,1033.9h0M1429.6,1048.4h0M1436.2,1054.0h0M1443.0,1027.8h0M1443.2,1009.5h0M1439.4,1020.9h0M1438.7,1021.8h0M1429.6,1026.3h0M1444.8,1023.5h0M1428.2,1003.3h0M1443.3,1013.0h0M1440.3,998.8h0M1435.9,1005.0h0M1437.0,1025.2h0M1434.9,1021.9h0M1433.5,999.3h0M1439.7,1028.0h0M1437.8,1008.1h0M1441.0,996.4h0M1440.8,1011.6h0M1427.0,1018.0h0M1430.6,996.5h0M1432.9,1000.6h0M1441.2,1003.9h0M1440.2,1008.9h0M1431.9,1023.1h0M1440.6,1033.0h0" stroke="#a6c3fa" stroke-opacity="0.95" stroke-width="2.3" stroke-linecap="round" fill="none"/>
<line x1="1328.0" y1="987.2" x2="1328.0" y2="1037.2" stroke="#444" stroke-width="1.4"/>
<line x1="1328.0" y1="1077.2" x2="1328.0" y2="1087.2" stroke="#444" stroke-width="1.4"/>
<rect x="1311.0" y="1037.2" width="34.0" height="40.0" fill="none" stroke="#505050" stroke-width="1.15"/>
<line x1="1311.0" y1="1067.2" x2="1345.0" y2="1067.2" stroke="#2b2b2b" stroke-width="2.15"/>
<line x1="1437.6" y1="1037.2" x2="1437.6" y2="1067.2" stroke="#444" stroke-width="1.4"/>
<rect x="1420.6" y="1067.2" width="34.0" height="20.0" fill="none" stroke="#505050" stroke-width="1.15"/>
<line x1="1420.6" y1="1077.2" x2="1454.6" y2="1077.2" stroke="#2b2b2b" stroke-width="2.15"/>
<line x1="1357" y1="995.3" x2="1413" y2="995.3" stroke="#4a4a4a" stroke-width="1.5"/>
<path d="M1371.1,982.6V990.0M1367.1,984.4L1375.1,988.2M1367.1,988.2L1375.1,984.4M1382.3,982.6V990.0M1378.3,984.4L1386.3,988.2M1378.3,988.2L1386.3,984.4M1393.5,982.6V990.0M1389.5,984.4L1397.5,988.2M1389.5,988.2L1397.5,984.4" stroke="#555" stroke-width="1.50" fill="none" stroke-linecap="round"/>
<line x1="1261.3" y1="1105.7" x2="1261.3" y2="1222.8" stroke="#454545" stroke-width="2.2"/>
<line x1="1256.7" y1="1114.0" x2="1261.3" y2="1114.0" stroke="#454545" stroke-width="2.2"/>
<text transform="translate(1253.1,1123.9) scale(0.975,1.05)" text-anchor="end" class="tk">1.0</text>
<line x1="1256.7" y1="1164.0" x2="1261.3" y2="1164.0" stroke="#454545" stroke-width="2.2"/>
<text transform="translate(1253.1,1173.9) scale(0.975,1.05)" text-anchor="end" class="tk">0.5</text>
<line x1="1256.7" y1="1214.0" x2="1261.3" y2="1214.0" stroke="#454545" stroke-width="2.2"/>
<text transform="translate(1253.1,1223.9) scale(0.975,1.05)" text-anchor="end" class="tk">0.0</text>
<path d="M1331.8,1167.1h0M1317.4,1210.9h0M1323.5,1207.9h0M1319.6,1143.1h0M1330.8,1133.3h0M1339.4,1129.6h0M1320.9,1124.3h0M1330.4,1164.3h0M1330.2,1179.5h0M1322.0,1180.2h0M1336.6,1179.6h0M1331.6,1129.1h0M1322.3,1128.7h0M1335.5,1185.3h0M1316.5,1197.8h0M1335.3,1183.5h0M1325.6,1182.9h0M1326.9,1154.2h0M1330.2,1133.4h0M1327.0,1171.0h0M1332.7,1208.3h0M1330.6,1183.0h0M1317.7,1203.8h0M1317.6,1182.8h0M1335.9,1149.0h0M1321.1,1173.0h0M1324.6,1185.7h0M1319.8,1198.7h0M1320.1,1134.7h0M1322.8,1143.3h0M1319.2,1184.5h0M1336.0,1214.0h0M1320.9,1173.6h0M1335.7,1186.5h0M1322.1,1184.7h0M1320.5,1189.0h0M1333.3,1192.1h0M1318.0,1206.7h0M1320.7,1168.1h0M1337.2,1184.3h0M1317.6,1185.6h0M1321.1,1160.6h0M1337.6,1181.4h0M1334.4,1198.7h0M1335.6,1194.3h0M1333.1,1183.5h0M1332.5,1171.2h0M1339.1,1170.9h0M1326.9,1162.5h0M1330.0,1188.7h0M1316.7,1163.7h0M1322.4,1175.6h0M1337.6,1192.7h0M1333.9,1202.8h0M1319.9,1176.0h0M1329.9,1146.3h0M1326.1,1130.2h0M1324.2,1154.9h0M1320.4,1153.1h0M1329.8,1180.2h0M1337.9,1198.6h0M1333.3,1193.5h0M1338.1,1148.0h0M1317.1,1191.4h0M1325.2,1181.9h0M1331.8,1180.6h0M1331.7,1211.0h0M1324.1,1207.7h0M1331.5,1197.4h0M1317.6,1159.5h0M1326.4,1161.9h0M1328.6,1207.9h0M1323.3,1198.9h0M1333.5,1129.9h0M1330.2,1196.5h0M1330.4,1151.8h0M1321.8,1179.5h0M1324.0,1146.8h0M1320.2,1167.2h0M1328.0,1203.5h0M1334.3,1164.9h0M1334.1,1165.6h0M1322.6,1214.9h0M1336.3,1136.4h0M1322.3,1194.0h0M1334.8,1181.6h0M1337.6,1179.0h0M1335.9,1179.8h0M1317.8,1180.7h0M1319.7,1212.0h0M1319.6,1149.0h0M1317.7,1183.9h0M1336.2,1208.3h0M1328.2,1180.8h0M1316.9,1196.9h0M1329.0,1190.8h0M1337.0,1163.9h0M1318.8,1159.4h0M1329.8,1199.9h0M1321.4,1196.5h0M1332.7,1127.2h0M1320.7,1177.7h0M1329.7,1200.8h0M1324.4,1172.1h0M1329.5,1197.4h0M1332.6,1206.2h0M1329.6,1167.4h0M1327.4,1203.7h0M1317.8,1204.5h0M1323.4,1170.4h0M1328.3,1132.7h0M1332.4,1212.3h0M1322.3,1163.3h0M1317.1,1204.1h0M1335.1,1207.3h0M1325.1,1215.5h0M1333.8,1209.2h0M1318.4,1166.2h0M1329.1,1137.2h0M1321.2,1210.2h0M1330.5,1199.4h0M1338.3,1208.6h0M1331.9,1189.5h0M1322.8,1192.2h0M1335.1,1197.8h0M1322.9,1150.1h0M1328.4,1201.5h0M1331.5,1171.4h0M1324.4,1198.3h0M1327.5,1170.2h0M1325.8,1203.5h0M1320.6,1199.4h0M1326.0,1123.7h0M1320.1,1195.9h0M1331.3,1186.2h0M1336.8,1175.3h0M1326.7,1121.3h0M1333.9,1181.3h0M1328.4,1205.6h0M1316.6,1174.1h0M1321.8,1166.1h0M1320.9,1179.1h0M1329.3,1186.9h0M1331.4,1154.4h0M1324.3,1213.1h0M1334.8,1181.3h0M1323.2,1183.0h0M1327.8,1140.1h0M1324.0,1162.7h0M1320.9,1194.6h0M1324.0,1192.1h0M1336.6,1180.1h0M1326.0,1190.6h0M1317.8,1210.7h0M1326.6,1123.5h0M1322.5,1186.9h0M1337.2,1201.6h0M1326.7,1204.3h0M1334.6,1209.1h0M1322.0,1135.2h0M1325.1,1203.0h0M1317.1,1181.1h0M1322.0,1135.4h0M1335.5,1157.2h0M1323.8,1174.1h0M1323.4,1191.9h0M1321.0,1166.6h0M1328.4,1154.1h0M1334.8,1197.2h0M1327.8,1193.9h0M1327.4,1186.9h0M1323.4,1179.1h0M1321.6,1137.6h0M1330.1,1180.9h0M1320.8,1192.6h0M1328.3,1161.8h0M1337.3,1205.7h0M1335.0,1201.3h0M1333.7,1209.3h0M1325.3,1176.8h0M1332.3,1175.2h0M1333.0,1182.7h0M1324.3,1177.2h0M1330.2,1195.0h0M1324.0,1196.1h0M1336.3,1175.0h0M1332.5,1190.9h0M1320.1,1185.6h0M1331.5,1141.7h0M1331.7,1188.6h0M1320.9,1166.4h0M1329.1,1207.3h0M1338.3,1186.7h0M1318.5,1206.6h0M1330.1,1194.5h0M1333.0,1202.1h0M1324.8,1191.1h0M1326.9,1203.1h0M1336.3,1131.1h0M1320.9,1187.7h0M1338.6,1192.8h0M1336.6,1204.5h0M1333.4,1190.4h0M1331.0,1156.2h0M1324.3,1180.5h0M1318.5,1144.0h0M1334.8,1176.3h0M1332.7,1173.1h0M1332.9,1188.8h0M1318.5,1148.9h0M1322.4,1188.5h0M1327.2,1202.9h0M1337.0,1194.4h0M1326.5,1157.0h0M1330.3,1212.6h0M1323.4,1198.7h0M1338.1,1173.0h0M1321.3,1165.4h0M1334.8,1187.8h0M1325.0,1175.8h0M1334.0,1189.6h0M1335.5,1174.9h0M1334.4,1210.3h0M1322.1,1191.5h0M1330.2,1132.4h0M1328.4,1175.6h0M1319.7,1190.9h0M1328.9,1177.1h0M1321.1,1126.8h0M1320.5,1188.4h0M1321.6,1183.6h0M1337.1,1155.9h0M1329.7,1148.6h0M1317.2,1198.0h0M1331.5,1174.7h0M1338.5,1193.9h0M1324.5,1186.0h0M1319.7,1158.7h0M1327.4,1191.1h0M1323.8,1137.0h0M1338.4,1185.3h0M1317.5,1146.3h0M1336.1,1204.3h0M1317.9,1190.0h0M1321.7,1212.6h0M1323.8,1145.2h0M1333.0,1145.6h0M1319.8,1181.8h0M1336.6,1182.9h0M1320.6,1127.1h0M1318.2,1187.0h0M1321.6,1188.8h0M1335.9,1203.3h0M1333.2,1133.1h0M1337.0,1154.4h0M1330.7,1183.1h0M1332.2,1168.7h0M1327.0,1153.8h0M1318.6,1169.1h0M1326.3,1207.8h0M1338.3,1173.9h0M1328.9,1144.6h0M1320.7,1180.7h0M1333.9,1183.5h0M1323.4,1168.9h0M1337.4,1194.9h0M1320.6,1198.9h0M1318.4,1173.1h0M1332.6,1128.9h0M1327.2,1206.2h0M1333.3,1122.9h0M1333.1,1110.1h0M1323.3,1114.8h0" stroke="#555555" stroke-opacity="0.6" stroke-width="1.9" stroke-linecap="round" fill="none"/>
<path d="M1436.4,1170.5h0M1442.7,1211.2h0M1447.2,1149.2h0M1436.3,1117.5h0M1441.2,1214.9h0M1436.7,1199.1h0M1435.6,1208.8h0M1439.9,1189.3h0M1440.3,1200.3h0M1440.0,1122.5h0M1431.0,1174.9h0M1447.5,1112.7h0M1437.3,1161.3h0M1439.6,1159.9h0M1437.5,1200.0h0M1448.4,1184.3h0M1430.7,1213.3h0M1440.1,1200.9h0M1428.6,1136.1h0M1437.2,1116.3h0M1426.8,1213.6h0M1442.5,1195.1h0M1430.2,1204.5h0M1443.6,1184.3h0M1438.5,1184.9h0M1443.6,1212.1h0M1434.5,1139.2h0M1427.8,1195.2h0M1436.7,1167.6h0M1431.9,1172.4h0M1433.1,1120.3h0M1427.5,1189.4h0M1445.2,1190.8h0M1429.5,1170.6h0M1426.8,1212.2h0M1445.6,1211.7h0M1437.7,1154.7h0M1433.1,1180.0h0M1432.2,1173.1h0M1436.8,1165.2h0M1437.4,1208.4h0M1446.3,1142.2h0M1445.9,1182.9h0M1437.5,1125.6h0M1430.7,1188.7h0M1437.6,1148.0h0M1437.5,1216.3h0M1440.9,1216.0h0M1436.4,1193.6h0M1438.5,1184.1h0M1445.1,1206.4h0M1444.7,1215.2h0M1448.1,1142.8h0M1429.4,1212.0h0M1431.7,1138.0h0M1437.1,1214.1h0M1439.7,1179.9h0M1432.2,1190.1h0M1431.6,1214.5h0M1429.8,1207.1h0M1436.4,1211.3h0M1438.8,1189.8h0M1440.2,1210.2h0M1445.8,1193.6h0M1432.4,1213.9h0M1447.0,1209.8h0M1435.5,1175.3h0M1439.0,1207.5h0M1446.8,1127.8h0M1432.5,1201.6h0M1448.1,1211.4h0M1434.4,1180.6h0M1434.9,1134.0h0M1435.7,1200.8h0M1446.7,1171.6h0M1443.0,1206.2h0M1433.0,1111.6h0M1444.6,1206.3h0M1427.4,1212.4h0M1442.0,1217.1h0M1433.6,1191.0h0M1431.9,1187.4h0M1429.6,1209.8h0M1426.4,1197.7h0M1435.7,1202.5h0M1431.9,1205.4h0M1439.9,1210.6h0M1436.0,1188.6h0M1439.3,1178.0h0M1442.9,1211.5h0M1426.7,1143.8h0M1428.8,1208.5h0M1429.9,1192.1h0M1434.0,1215.2h0M1442.1,1182.8h0M1434.5,1201.3h0M1440.7,1187.3h0M1441.4,1198.1h0M1448.3,1192.3h0M1435.9,1213.3h0M1434.1,1115.5h0M1438.7,1197.7h0M1444.9,1204.5h0M1446.5,1151.2h0M1442.1,1205.5h0M1437.3,1161.4h0M1432.5,1202.4h0M1445.7,1212.6h0M1448.2,1187.2h0M1432.0,1213.1h0M1446.8,1214.5h0M1429.9,1116.2h0M1442.6,1128.5h0M1427.2,1193.6h0M1441.6,1161.7h0M1447.3,1180.5h0M1443.8,1211.7h0M1433.2,1210.8h0M1441.8,1185.8h0M1442.0,1216.5h0M1445.8,1176.8h0M1431.7,1188.1h0M1437.6,1215.7h0M1436.0,1170.7h0M1433.8,1123.1h0M1428.7,1192.8h0M1426.8,1123.8h0M1446.6,1198.4h0M1447.9,1215.5h0M1438.0,1196.5h0M1435.4,1200.4h0M1435.3,1131.2h0M1437.8,1193.5h0M1445.6,1119.8h0M1426.5,1211.8h0M1443.4,1202.3h0M1435.4,1212.0h0M1429.7,1213.8h0M1430.7,1174.0h0M1444.2,1214.6h0M1444.2,1211.9h0M1441.2,1201.0h0M1443.9,1131.7h0M1449.0,1214.2h0M1435.4,1211.6h0M1432.1,1175.6h0M1445.6,1181.2h0M1442.8,1214.7h0M1432.4,1132.6h0M1444.0,1145.1h0M1434.9,1127.7h0M1444.8,1158.9h0M1446.0,1190.1h0M1440.7,1174.8h0M1431.0,1213.3h0M1442.4,1186.7h0M1435.1,1204.1h0M1436.4,1205.8h0M1445.3,1210.8h0M1442.7,1215.2h0M1428.0,1159.8h0M1429.1,1170.9h0M1430.0,1214.4h0M1429.2,1188.7h0M1430.9,1214.3h0M1440.0,1188.9h0M1429.1,1209.7h0M1434.7,1127.0h0M1436.0,1206.0h0M1434.4,1190.2h0M1433.3,1208.4h0M1447.6,1134.3h0M1427.5,1214.6h0M1438.3,1209.2h0M1430.4,1211.4h0M1428.8,1177.2h0M1435.7,1199.0h0M1434.9,1143.2h0M1441.6,1205.2h0M1447.1,1212.3h0M1443.1,1197.5h0M1444.4,1210.1h0M1426.1,1209.0h0M1426.8,1191.0h0M1427.8,1185.9h0M1436.1,1215.4h0M1445.5,1214.7h0M1446.8,1193.3h0M1438.9,1198.4h0M1443.6,1196.6h0M1437.9,1182.7h0M1433.9,1216.2h0M1432.1,1215.8h0M1442.0,1216.5h0M1429.6,1159.1h0M1440.9,1181.4h0M1446.0,1210.5h0M1440.1,1202.2h0M1438.4,1210.9h0M1426.4,1136.0h0M1436.8,1199.9h0M1445.3,1180.6h0M1427.7,1216.8h0M1434.5,1209.9h0M1444.1,1216.1h0M1439.7,1185.4h0M1431.3,1199.4h0M1431.8,1146.4h0M1431.3,1158.0h0M1439.7,1180.3h0M1442.9,1116.6h0M1426.7,1122.9h0M1433.3,1144.6h0M1435.5,1209.4h0M1439.9,1199.4h0M1427.1,1212.5h0M1442.2,1181.9h0M1443.6,1197.5h0M1448.8,1217.4h0M1443.8,1213.6h0M1447.5,1192.7h0M1443.3,1187.6h0M1441.0,1204.1h0M1435.9,1199.2h0M1433.0,1187.1h0M1438.5,1181.7h0M1431.7,1175.0h0M1432.8,1199.4h0M1446.0,1211.5h0M1444.9,1141.5h0M1431.7,1216.4h0M1449.0,1208.8h0M1433.5,1208.8h0M1428.1,1188.8h0M1446.0,1187.7h0M1445.9,1215.6h0M1443.8,1196.1h0M1437.6,1187.4h0M1438.9,1175.9h0M1426.9,1211.6h0M1445.7,1175.6h0M1431.5,1208.0h0M1436.0,1204.3h0M1443.9,1210.7h0M1445.1,1151.9h0M1426.4,1188.7h0M1438.8,1163.0h0M1440.4,1196.0h0M1443.9,1217.2h0M1442.0,1203.5h0M1449.1,1213.6h0M1438.0,1210.2h0M1432.6,1156.4h0M1432.9,1218.0h0M1432.5,1203.1h0M1439.8,1217.4h0M1446.9,1168.2h0M1443.3,1112.0h0M1427.3,1212.1h0M1445.8,1206.6h0M1435.6,1122.4h0M1447.4,1212.2h0M1445.2,1209.8h0M1439.9,1114.9h0M1434.0,1134.9h0M1428.0,1201.1h0M1435.5,1182.9h0M1433.5,1165.0h0M1429.0,1203.7h0M1429.7,1216.4h0M1434.4,1198.9h0M1442.4,1181.1h0M1445.5,1118.8h0M1433.7,1195.6h0M1440.6,1200.0h0M1446.9,1201.1h0M1441.0,1181.7h0M1436.6,1217.2h0M1426.3,1133.0h0M1436.9,1121.8h0M1448.5,1215.9h0M1430.7,1213.3h0M1426.6,1210.8h0M1427.8,1214.6h0M1436.3,1171.9h0M1441.9,1143.0h0M1445.2,1189.9h0M1443.4,1124.9h0M1442.8,1213.7h0M1439.3,1209.6h0M1431.8,1203.6h0M1426.3,1196.6h0M1428.7,1212.9h0M1430.4,1136.2h0M1446.5,1175.3h0M1448.1,1207.2h0M1439.6,1212.3h0M1441.0,1206.9h0M1430.5,1201.2h0M1432.3,1184.3h0M1431.1,1165.2h0M1447.6,1126.6h0M1430.1,1216.1h0M1433.2,1213.5h0M1446.4,1202.4h0M1437.4,1124.4h0M1430.2,1198.2h0M1436.2,1180.2h0M1433.1,1154.4h0M1440.0,1198.8h0M1427.8,1202.2h0M1429.7,1172.0h0M1448.3,1180.8h0M1447.6,1117.3h0M1443.8,1207.5h0M1440.5,1129.2h0M1432.4,1196.1h0M1436.2,1144.9h0M1430.4,1185.1h0M1426.6,1189.8h0M1428.8,1151.0h0M1426.5,1210.4h0M1431.3,1209.7h0M1439.4,1198.8h0M1438.7,1154.7h0M1431.6,1211.4h0M1442.8,1166.3h0M1434.3,1213.2h0M1441.5,1205.3h0M1443.0,1194.5h0M1443.4,1177.4h0M1429.5,1195.0h0M1432.9,1149.6h0M1427.5,1180.2h0M1429.5,1202.1h0M1430.7,1189.5h0M1427.6,1203.2h0M1443.3,1141.7h0M1435.1,1204.3h0M1446.3,1212.0h0M1433.7,1214.7h0M1441.9,1215.8h0M1441.0,1162.0h0M1430.4,1178.1h0M1435.1,1215.9h0M1429.5,1197.3h0M1435.0,1136.9h0M1440.3,1127.7h0M1434.0,1211.4h0M1431.7,1130.6h0M1449.1,1215.0h0M1441.3,1114.8h0M1448.8,1209.3h0M1426.8,1123.7h0M1442.1,1210.9h0M1428.6,1181.7h0M1437.0,1134.0h0M1429.1,1160.3h0M1427.1,1188.8h0M1429.2,1216.8h0M1428.3,1210.4h0M1441.0,1129.0h0M1444.6,1149.9h0M1435.7,1208.5h0M1427.3,1208.3h0M1437.1,1186.2h0M1427.7,1205.2h0M1444.3,1211.6h0M1435.7,1145.0h0M1437.6,1212.5h0M1433.5,1180.7h0M1438.1,1203.1h0M1439.6,1193.8h0M1437.6,1146.3h0M1438.6,1172.7h0M1430.3,1164.8h0M1435.5,1214.6h0M1438.0,1157.3h0M1430.0,1166.5h0M1437.3,1218.2h0M1436.1,1215.4h0M1430.7,1176.7h0M1446.7,1144.4h0M1432.5,1189.7h0M1437.8,1144.9h0M1436.2,1211.6h0M1444.7,1207.3h0M1426.5,1157.0h0M1434.8,1164.0h0M1445.0,1212.8h0M1438.6,1186.2h0M1446.1,1197.7h0M1438.2,1178.3h0M1434.8,1204.0h0M1443.9,1205.6h0M1429.2,1170.5h0M1446.2,1175.3h0M1434.8,1205.1h0M1438.3,1177.6h0M1448.5,1208.1h0M1446.7,1189.6h0M1428.5,1208.7h0M1434.4,1207.3h0M1439.9,1200.7h0M1430.9,1209.2h0M1430.3,1211.1h0M1435.1,1201.9h0M1444.6,1206.9h0M1435.4,1196.6h0M1444.4,1135.9h0M1431.1,1148.7h0M1446.6,1209.9h0M1431.4,1210.8h0M1440.4,1214.2h0M1426.2,1143.0h0M1442.3,1174.3h0M1437.2,1172.6h0M1434.1,1139.3h0M1441.6,1199.5h0M1440.1,1209.1h0M1434.6,1213.2h0M1436.5,1198.2h0M1433.7,1171.9h0M1434.6,1210.5h0M1443.2,1201.2h0M1444.9,1209.2h0M1433.9,1209.8h0M1442.0,1188.7h0M1431.4,1186.3h0M1446.1,1129.2h0M1445.0,1203.9h0M1445.8,1210.1h0M1442.8,1210.8h0M1447.8,1208.9h0M1446.3,1215.3h0M1447.3,1217.5h0M1430.3,1209.9h0M1438.7,1187.2h0M1433.7,1200.8h0M1429.5,1133.1h0M1444.7,1195.6h0M1441.1,1217.3h0M1447.6,1214.7h0M1430.7,1178.1h0M1437.1,1118.9h0M1442.6,1176.8h0M1444.4,1213.6h0M1435.3,1201.7h0M1443.1,1196.5h0M1444.4,1199.5h0M1434.1,1209.5h0M1445.6,1215.6h0M1442.2,1214.0h0M1447.8,1141.0h0M1447.3,1120.7h0M1436.7,1121.4h0M1430.9,1204.2h0M1431.0,1177.9h0M1439.2,1210.3h0M1443.4,1209.1h0M1438.2,1213.0h0M1438.3,1206.2h0M1433.9,1164.2h0M1433.7,1191.7h0M1436.3,1211.7h0M1441.5,1191.1h0M1439.5,1186.5h0M1433.4,1211.5h0M1439.5,1198.2h0M1436.7,1133.3h0" stroke="#a6c3fa" stroke-opacity="0.95" stroke-width="2.3" stroke-linecap="round" fill="none"/>
<line x1="1328.0" y1="1124.0" x2="1328.0" y2="1164.0" stroke="#444" stroke-width="1.4"/>
<line x1="1328.0" y1="1194.0" x2="1328.0" y2="1214.0" stroke="#444" stroke-width="1.4"/>
<rect x="1311.0" y="1164.0" width="34.0" height="30.0" fill="none" stroke="#505050" stroke-width="1.15"/>
<line x1="1311.0" y1="1184.0" x2="1345.0" y2="1184.0" stroke="#2b2b2b" stroke-width="2.15"/>
<line x1="1437.6" y1="1114.0" x2="1437.6" y2="1174.0" stroke="#444" stroke-width="1.4"/>
<rect x="1420.6" y="1174.0" width="34.0" height="40.0" fill="none" stroke="#505050" stroke-width="1.15"/>
<line x1="1420.6" y1="1194.0" x2="1454.6" y2="1194.0" stroke="#2b2b2b" stroke-width="2.15"/>
<line x1="1357" y1="1130.2" x2="1413" y2="1130.2" stroke="#4a4a4a" stroke-width="1.5"/>
<path d="M1371.1,1117.5V1124.9M1367.1,1119.3L1375.1,1123.1M1367.1,1123.1L1375.1,1119.3M1382.3,1117.5V1124.9M1378.3,1119.3L1386.3,1123.1M1378.3,1123.1L1386.3,1119.3M1393.5,1117.5V1124.9M1389.5,1119.3L1397.5,1123.1M1389.5,1123.1L1397.5,1119.3" stroke="#555" stroke-width="1.50" fill="none" stroke-linecap="round"/>
<line x1="1261.3" y1="1232.5" x2="1261.3" y2="1350.1" stroke="#454545" stroke-width="2.2"/>
<line x1="1256.7" y1="1240.8" x2="1261.3" y2="1240.8" stroke="#454545" stroke-width="2.2"/>
<text transform="translate(1253.1,1250.7) scale(0.975,1.05)" text-anchor="end" class="tk">1.0</text>
<line x1="1256.7" y1="1290.8" x2="1261.3" y2="1290.8" stroke="#454545" stroke-width="2.2"/>
<text transform="translate(1253.1,1300.7) scale(0.975,1.05)" text-anchor="end" class="tk">0.5</text>
<line x1="1256.7" y1="1340.8" x2="1261.3" y2="1340.8" stroke="#454545" stroke-width="2.2"/>
<text transform="translate(1253.1,1350.7) scale(0.975,1.05)" text-anchor="end" class="tk">0.0</text>
<path d="M1335.7,1242.6h0M1329.2,1332.1h0M1329.3,1255.1h0M1319.4,1274.7h0M1322.6,1288.8h0M1318.3,1289.8h0M1325.4,1241.5h0M1317.3,1288.4h0M1337.2,1268.2h0M1325.1,1279.8h0M1323.5,1266.5h0M1337.5,1267.3h0M1328.0,1269.9h0M1334.8,1321.8h0M1323.0,1338.2h0M1325.9,1268.6h0M1326.1,1343.8h0M1331.8,1271.5h0M1324.0,1299.7h0M1322.3,1263.5h0M1336.9,1292.2h0M1329.1,1334.6h0M1338.4,1314.5h0M1320.4,1289.5h0M1316.5,1260.7h0M1333.5,1265.1h0M1326.4,1250.7h0M1334.3,1241.9h0M1329.8,1271.1h0M1331.5,1332.7h0M1320.0,1268.0h0M1328.6,1284.7h0M1324.0,1265.4h0M1318.9,1309.6h0M1336.9,1284.8h0M1333.0,1299.7h0M1326.4,1260.4h0M1317.6,1246.8h0M1319.2,1283.9h0M1333.5,1273.0h0M1331.7,1265.3h0M1329.6,1260.4h0M1329.5,1287.3h0M1323.8,1299.8h0M1320.3,1263.5h0M1335.4,1295.9h0M1330.0,1272.1h0M1320.7,1269.4h0M1317.4,1266.5h0M1319.6,1244.8h0M1328.2,1291.6h0M1329.9,1306.7h0M1321.6,1280.5h0M1331.2,1245.1h0M1324.2,1250.0h0M1330.8,1330.6h0M1317.3,1314.7h0M1326.4,1307.0h0M1318.8,1255.6h0M1319.1,1262.6h0M1322.0,1314.1h0M1325.5,1259.6h0M1327.0,1253.5h0M1338.2,1255.9h0M1319.4,1286.9h0M1320.3,1253.2h0M1334.3,1295.9h0M1328.4,1244.1h0M1334.7,1315.5h0M1330.4,1280.2h0M1333.6,1295.3h0M1325.0,1252.2h0M1337.8,1260.7h0M1337.7,1267.0h0M1332.5,1270.7h0M1322.8,1297.5h0M1332.3,1267.6h0M1321.6,1336.3h0M1335.1,1264.6h0M1320.4,1244.1h0M1317.8,1276.8h0M1321.2,1272.1h0M1329.2,1267.4h0M1327.3,1289.4h0M1335.9,1242.7h0M1316.7,1306.0h0M1334.6,1269.3h0M1338.5,1259.7h0M1336.9,1264.0h0M1339.4,1289.8h0M1331.3,1318.0h0M1322.5,1263.8h0M1319.0,1320.9h0M1339.3,1253.1h0M1327.1,1339.3h0M1321.4,1250.9h0M1323.1,1255.7h0M1329.6,1271.4h0M1330.2,1250.3h0M1328.0,1258.6h0M1335.9,1260.5h0M1330.0,1297.4h0M1323.4,1329.3h0M1323.7,1325.3h0M1334.1,1321.9h0M1331.3,1266.2h0M1319.5,1260.4h0M1329.7,1248.2h0M1339.3,1282.7h0M1338.6,1283.0h0M1334.5,1248.2h0M1338.2,1260.4h0M1324.5,1242.1h0M1331.2,1342.3h0M1322.7,1242.1h0M1338.7,1281.4h0M1338.0,1253.7h0M1337.2,1310.2h0M1325.3,1267.7h0M1335.2,1257.8h0M1319.3,1260.5h0M1317.1,1264.6h0M1317.7,1326.5h0M1319.4,1246.2h0M1325.9,1329.4h0M1323.9,1251.0h0M1319.2,1271.8h0M1328.0,1265.9h0M1335.9,1309.3h0M1320.7,1259.9h0M1326.5,1257.2h0M1331.8,1303.2h0M1325.4,1244.1h0M1329.3,1284.3h0M1324.8,1256.1h0M1327.0,1305.9h0M1323.4,1287.4h0M1336.4,1310.5h0M1318.6,1338.5h0M1326.3,1318.6h0M1337.9,1314.4h0M1322.7,1273.3h0M1329.1,1270.1h0M1321.7,1321.6h0M1324.9,1243.5h0M1338.5,1268.2h0M1335.0,1269.3h0M1325.4,1297.8h0M1337.3,1280.9h0M1329.5,1248.0h0M1317.1,1277.7h0M1318.9,1267.2h0M1316.7,1246.4h0M1322.4,1281.3h0M1330.9,1250.4h0M1335.4,1325.7h0M1319.2,1264.8h0M1327.6,1317.8h0M1325.6,1300.5h0M1328.6,1328.7h0M1318.3,1247.7h0M1327.0,1246.4h0M1318.9,1258.7h0M1319.2,1268.0h0M1326.8,1322.0h0M1317.7,1270.5h0M1325.4,1247.1h0M1321.9,1257.8h0M1324.1,1340.4h0M1327.3,1243.1h0M1317.8,1248.9h0M1337.5,1263.1h0M1330.6,1340.4h0M1321.0,1263.8h0M1317.3,1267.2h0M1323.0,1341.7h0M1335.8,1277.0h0M1339.5,1339.7h0M1318.1,1328.6h0M1333.2,1260.9h0M1325.1,1256.9h0M1318.8,1289.9h0M1332.4,1315.2h0M1330.6,1298.2h0M1326.4,1304.5h0M1330.5,1265.6h0M1324.2,1297.5h0M1325.5,1250.6h0M1332.7,1342.6h0M1336.7,1307.9h0M1320.4,1263.7h0M1326.5,1278.8h0M1327.7,1323.8h0M1331.4,1285.6h0M1338.3,1299.3h0M1318.7,1254.9h0M1335.0,1299.9h0M1325.6,1263.7h0M1321.3,1265.8h0M1338.2,1277.8h0M1338.2,1333.1h0M1332.8,1270.6h0M1325.6,1319.8h0M1333.6,1298.5h0M1320.0,1247.6h0M1337.6,1309.1h0M1335.3,1240.9h0M1322.6,1313.5h0M1318.9,1336.1h0M1316.8,1336.4h0M1321.0,1254.4h0M1331.9,1247.6h0M1336.8,1294.4h0M1323.5,1290.8h0M1326.1,1292.0h0M1335.9,1262.9h0M1331.8,1293.1h0M1323.2,1276.5h0M1334.0,1268.2h0M1339.3,1300.9h0M1321.3,1317.1h0M1337.5,1267.6h0M1338.1,1264.7h0M1319.4,1339.8h0M1321.8,1277.6h0M1330.9,1250.2h0M1337.7,1263.9h0M1332.0,1261.8h0M1336.5,1239.8h0M1327.9,1304.5h0M1338.6,1286.0h0M1321.4,1316.1h0M1329.0,1249.6h0M1328.0,1269.9h0M1326.1,1250.1h0M1333.8,1262.7h0M1318.9,1292.5h0M1327.6,1260.1h0M1322.9,1296.3h0M1321.8,1272.3h0M1336.1,1268.3h0M1335.8,1258.3h0M1317.1,1301.8h0M1328.9,1263.7h0M1325.1,1269.2h0M1327.4,1262.1h0M1325.4,1322.1h0M1323.2,1267.6h0M1320.1,1325.3h0M1333.7,1262.8h0M1317.7,1255.3h0M1320.0,1280.8h0M1323.5,1275.7h0M1320.3,1261.6h0M1328.9,1270.8h0M1337.5,1239.9h0M1333.1,1254.0h0M1321.8,1262.2h0M1336.0,1286.9h0M1332.9,1335.7h0M1327.1,1265.5h0M1328.8,1303.5h0M1330.3,1266.9h0M1323.6,1266.6h0M1326.2,1253.8h0M1320.9,1333.6h0M1327.8,1269.7h0M1321.5,1286.0h0M1331.8,1286.4h0M1336.9,1297.7h0" stroke="#555555" stroke-opacity="0.6" stroke-width="1.9" stroke-linecap="round" fill="none"/>
<path d="M1440.7,1254.6h0M1432.1,1326.2h0M1441.4,1288.8h0M1445.0,1318.8h0M1444.4,1327.7h0M1429.3,1327.2h0M1446.0,1291.1h0M1438.4,1329.1h0M1430.5,1334.6h0M1427.5,1262.2h0M1445.9,1270.9h0M1444.3,1341.9h0M1444.7,1326.2h0M1442.9,1344.6h0M1433.0,1296.8h0M1445.3,1243.4h0M1441.9,1332.0h0M1439.5,1296.5h0M1430.7,1303.6h0M1438.8,1284.1h0M1432.9,1295.1h0M1438.0,1285.2h0M1436.5,1335.7h0M1435.0,1245.5h0M1427.1,1271.8h0M1433.1,1332.2h0M1447.8,1341.2h0M1434.1,1269.3h0M1447.8,1276.3h0M1441.0,1316.1h0M1433.3,1252.6h0M1441.1,1291.2h0M1443.1,1296.9h0M1431.8,1338.1h0M1428.4,1303.9h0M1439.4,1310.0h0M1430.5,1304.6h0M1441.3,1313.5h0M1427.6,1264.8h0M1429.4,1311.5h0M1441.7,1337.3h0M1448.9,1322.3h0M1435.1,1269.4h0M1443.9,1300.8h0M1445.9,1317.7h0M1445.7,1261.9h0M1439.6,1244.9h0M1440.4,1312.9h0M1434.4,1333.7h0M1439.7,1316.1h0M1437.4,1330.2h0M1429.7,1259.0h0M1435.2,1286.4h0M1433.8,1319.7h0M1437.3,1289.0h0M1444.3,1262.7h0M1435.3,1239.3h0M1439.8,1334.4h0M1445.1,1301.6h0M1440.8,1289.0h0M1447.0,1302.4h0M1439.5,1302.3h0M1438.0,1307.7h0M1436.8,1309.0h0M1431.2,1298.7h0M1437.5,1309.7h0M1438.2,1318.5h0M1449.1,1305.1h0M1433.8,1276.3h0M1439.4,1333.9h0M1447.7,1301.2h0M1448.3,1327.8h0M1437.6,1252.2h0M1428.5,1342.4h0M1441.2,1312.3h0M1427.5,1248.0h0M1437.8,1284.7h0M1432.2,1329.5h0M1433.2,1285.8h0M1432.6,1304.4h0M1446.3,1333.9h0M1437.5,1336.1h0M1441.7,1339.5h0M1445.4,1319.3h0M1431.5,1309.7h0M1434.5,1241.3h0M1431.5,1262.5h0M1431.2,1293.0h0M1440.4,1285.4h0M1437.4,1289.4h0M1436.0,1270.6h0M1441.1,1311.2h0M1447.7,1287.7h0M1445.1,1330.7h0M1430.8,1323.6h0M1427.6,1324.5h0M1431.7,1310.0h0M1433.1,1317.7h0M1428.5,1290.1h0M1448.1,1339.2h0M1444.6,1318.2h0M1431.3,1292.2h0M1429.0,1275.3h0M1427.8,1277.5h0M1446.5,1307.6h0M1446.0,1291.2h0M1433.2,1339.4h0M1434.4,1248.8h0M1426.9,1290.1h0M1431.1,1273.9h0M1435.0,1337.7h0M1440.1,1306.1h0M1438.7,1322.3h0M1437.6,1268.2h0M1427.1,1280.8h0M1434.9,1328.9h0M1435.5,1242.5h0M1428.8,1330.1h0M1430.2,1330.3h0M1429.9,1295.4h0M1437.7,1305.0h0M1438.2,1249.9h0M1447.9,1338.2h0M1429.9,1255.3h0M1437.9,1287.2h0M1427.0,1319.1h0M1442.6,1332.9h0M1440.9,1286.4h0M1442.8,1336.4h0M1438.4,1317.9h0M1435.5,1336.9h0M1426.3,1317.0h0M1443.7,1239.5h0M1436.0,1266.0h0M1440.1,1300.6h0M1438.1,1286.2h0M1429.0,1293.9h0M1437.5,1274.2h0M1434.8,1268.6h0M1447.6,1242.3h0M1448.7,1252.4h0M1433.5,1318.6h0M1447.0,1247.9h0M1438.9,1329.3h0M1444.4,1329.9h0M1431.4,1290.5h0M1426.4,1335.0h0M1431.5,1263.5h0M1446.1,1242.7h0M1436.3,1274.7h0M1448.1,1326.4h0M1443.1,1297.3h0M1435.0,1333.5h0M1435.7,1308.2h0M1431.3,1273.1h0M1436.5,1325.3h0M1442.9,1332.6h0M1433.1,1312.7h0M1445.0,1317.3h0M1431.9,1319.5h0M1444.8,1318.6h0M1441.6,1335.0h0M1444.5,1289.1h0M1426.7,1300.3h0M1431.7,1288.8h0M1439.5,1316.7h0M1441.9,1253.2h0M1444.9,1273.3h0M1445.1,1298.5h0M1443.2,1313.7h0M1443.4,1263.9h0M1439.3,1310.7h0M1430.3,1312.3h0M1428.4,1292.2h0M1447.0,1338.7h0M1436.6,1300.6h0M1442.1,1339.4h0M1448.5,1257.8h0M1428.7,1272.3h0M1433.7,1332.3h0M1439.0,1328.3h0M1438.0,1284.9h0M1435.4,1295.0h0M1439.6,1306.9h0M1428.5,1311.8h0M1426.6,1331.3h0M1438.6,1310.2h0M1430.3,1340.7h0M1430.7,1333.4h0M1439.0,1327.4h0M1439.2,1339.8h0M1437.4,1330.2h0M1448.7,1328.1h0M1442.8,1311.9h0M1428.4,1297.2h0M1431.2,1245.0h0M1430.6,1285.4h0M1445.2,1268.8h0M1442.7,1296.1h0M1447.4,1275.7h0M1429.1,1288.8h0M1448.0,1337.6h0M1438.8,1315.0h0M1428.2,1334.9h0M1428.2,1289.6h0M1444.0,1314.4h0M1434.5,1305.6h0M1433.4,1327.9h0M1431.4,1248.3h0M1431.2,1319.1h0M1446.4,1335.0h0M1447.5,1317.6h0M1442.2,1319.4h0M1431.3,1328.6h0M1431.3,1284.9h0M1443.2,1308.4h0M1446.8,1336.7h0M1430.3,1251.5h0M1426.4,1334.8h0M1427.8,1263.7h0M1428.9,1243.1h0M1432.0,1293.4h0M1444.4,1279.4h0M1438.4,1344.0h0M1427.5,1326.0h0M1428.1,1275.1h0M1431.5,1287.7h0M1431.1,1336.0h0M1447.6,1326.3h0M1441.1,1338.5h0M1447.5,1270.7h0M1437.8,1285.7h0M1442.8,1312.4h0M1438.1,1299.2h0M1427.8,1297.9h0M1448.2,1325.3h0M1446.5,1294.4h0M1433.3,1338.1h0M1444.0,1281.9h0M1431.4,1251.4h0M1433.7,1332.9h0M1438.1,1308.5h0M1435.3,1294.9h0M1429.3,1288.0h0M1441.4,1279.0h0M1446.7,1314.7h0M1436.7,1282.2h0M1441.1,1311.5h0M1444.9,1278.7h0M1431.0,1304.1h0M1447.8,1296.8h0M1435.1,1255.5h0M1432.8,1328.3h0M1426.5,1301.8h0M1426.7,1313.4h0M1432.7,1334.4h0M1443.5,1279.5h0M1433.0,1326.5h0M1441.8,1331.6h0M1429.1,1335.5h0M1434.1,1276.3h0M1441.1,1281.3h0M1442.0,1317.5h0M1438.3,1301.0h0M1427.3,1319.1h0M1438.6,1302.1h0M1446.0,1340.8h0M1434.1,1324.2h0M1441.1,1244.9h0M1428.4,1319.8h0M1441.8,1282.7h0M1443.8,1294.1h0M1442.7,1304.7h0M1446.5,1293.7h0M1445.4,1281.6h0M1440.1,1297.6h0M1434.1,1276.1h0M1446.4,1323.6h0M1435.6,1328.2h0M1438.3,1302.8h0M1426.8,1277.0h0M1428.0,1301.1h0M1441.0,1338.0h0M1442.8,1307.3h0M1448.9,1261.8h0M1430.6,1329.7h0M1440.9,1296.0h0M1441.8,1322.7h0M1433.3,1299.0h0M1436.0,1282.1h0M1442.5,1320.8h0M1439.4,1326.8h0M1444.8,1303.3h0M1430.4,1240.8h0M1426.4,1341.6h0M1432.4,1318.9h0M1448.7,1330.2h0M1437.6,1305.4h0M1442.8,1279.2h0M1446.9,1297.6h0M1430.2,1291.0h0M1442.9,1324.9h0M1446.3,1298.6h0M1436.0,1278.4h0M1437.5,1319.8h0M1440.2,1340.2h0M1443.6,1242.4h0M1444.3,1304.1h0M1438.8,1246.7h0M1427.2,1293.8h0M1426.3,1314.9h0M1431.0,1332.9h0M1446.0,1253.5h0M1441.9,1277.4h0M1440.7,1298.4h0M1431.1,1336.9h0M1435.1,1322.4h0M1437.5,1312.6h0M1442.4,1332.9h0M1448.3,1305.2h0M1442.0,1300.0h0M1445.9,1328.9h0M1448.1,1298.4h0M1439.1,1247.9h0M1430.4,1262.0h0M1437.7,1266.9h0M1439.0,1321.7h0M1448.4,1330.5h0M1430.2,1304.3h0M1448.6,1251.8h0M1435.3,1325.3h0M1431.4,1333.8h0M1427.8,1263.9h0M1447.7,1339.2h0M1431.7,1302.4h0M1444.6,1245.5h0M1447.5,1295.6h0M1428.4,1338.3h0M1443.1,1319.0h0M1426.3,1281.9h0M1437.4,1282.9h0M1428.3,1336.3h0M1434.2,1303.5h0M1436.5,1304.3h0M1437.2,1330.6h0M1427.0,1334.5h0M1431.9,1321.6h0M1434.3,1312.8h0M1434.5,1246.7h0M1431.5,1314.2h0M1427.9,1259.7h0M1442.8,1338.2h0M1433.1,1305.9h0M1442.5,1332.9h0M1444.6,1333.7h0M1429.6,1320.2h0M1431.5,1284.6h0M1446.7,1291.1h0M1446.3,1323.4h0M1432.6,1282.2h0M1434.4,1284.3h0M1431.9,1264.9h0M1440.1,1288.9h0M1431.4,1338.9h0M1442.0,1278.6h0M1432.4,1245.0h0M1438.1,1260.7h0M1433.6,1288.1h0M1444.0,1334.4h0M1429.3,1264.9h0M1442.2,1301.6h0M1447.5,1284.9h0M1442.5,1253.6h0M1432.6,1326.1h0M1433.5,1341.8h0M1436.4,1251.5h0M1428.0,1254.1h0M1435.3,1336.8h0M1429.0,1308.1h0M1430.3,1267.2h0M1438.7,1290.4h0M1445.7,1301.1h0M1444.6,1239.1h0M1427.4,1341.7h0M1430.7,1310.4h0M1443.3,1335.2h0M1431.7,1249.8h0M1440.5,1294.7h0M1447.8,1321.7h0M1432.7,1263.8h0M1437.6,1255.4h0M1444.4,1305.2h0M1446.0,1247.9h0M1435.2,1323.9h0M1434.1,1283.2h0M1448.3,1238.5h0M1448.7,1327.5h0M1443.9,1281.7h0M1433.0,1268.6h0M1447.3,1260.0h0M1433.1,1321.7h0M1428.8,1313.3h0M1439.3,1335.6h0M1426.3,1299.7h0M1440.2,1261.5h0M1429.9,1324.8h0M1427.1,1259.5h0M1427.0,1326.8h0M1437.6,1304.9h0M1441.9,1291.0h0M1438.0,1271.6h0M1430.6,1246.6h0M1447.5,1311.2h0M1431.9,1315.8h0M1442.1,1275.9h0M1434.1,1275.1h0M1444.6,1274.0h0M1439.7,1322.2h0M1438.1,1259.9h0M1438.9,1276.5h0M1426.3,1293.6h0M1446.9,1317.5h0M1442.0,1282.6h0M1447.5,1340.3h0M1432.6,1284.5h0M1446.1,1304.9h0M1430.5,1280.8h0M1431.8,1292.9h0M1442.4,1317.1h0M1445.1,1319.5h0M1437.5,1301.7h0M1436.6,1336.7h0M1427.0,1320.9h0M1432.7,1291.0h0M1448.6,1330.7h0M1428.2,1250.6h0M1435.3,1297.3h0M1433.0,1321.9h0M1431.1,1327.9h0M1438.5,1321.8h0M1442.9,1310.5h0M1441.7,1335.3h0M1430.3,1320.5h0M1445.4,1249.0h0M1444.0,1248.0h0M1443.0,1258.2h0M1429.1,1246.4h0M1431.1,1288.7h0M1439.5,1244.6h0M1445.0,1287.8h0M1439.8,1311.0h0M1447.4,1332.7h0M1436.5,1291.9h0M1439.3,1244.9h0M1438.0,1251.7h0M1427.1,1243.9h0M1427.1,1304.3h0M1440.3,1282.9h0M1441.3,1238.6h0M1432.6,1279.2h0M1439.6,1263.5h0M1434.9,1258.7h0M1440.6,1295.9h0M1440.2,1258.5h0M1448.8,1318.1h0M1448.2,1270.6h0M1436.1,1305.4h0M1444.8,1329.2h0M1433.2,1268.2h0M1437.1,1274.8h0" stroke="#a6c3fa" stroke-opacity="0.95" stroke-width="2.3" stroke-linecap="round" fill="none"/>
<line x1="1328.0" y1="1240.8" x2="1328.0" y2="1260.8" stroke="#444" stroke-width="1.4"/>
<line x1="1328.0" y1="1300.8" x2="1328.0" y2="1340.8" stroke="#444" stroke-width="1.4"/>
<rect x="1311.0" y="1260.8" width="34.0" height="40.0" fill="none" stroke="#505050" stroke-width="1.15"/>
<line x1="1311.0" y1="1270.8" x2="1345.0" y2="1270.8" stroke="#2b2b2b" stroke-width="2.15"/>
<line x1="1437.6" y1="1240.8" x2="1437.6" y2="1280.8" stroke="#444" stroke-width="1.4"/>
<line x1="1437.6" y1="1325.8" x2="1437.6" y2="1340.8" stroke="#444" stroke-width="1.4"/>
<rect x="1420.6" y="1280.8" width="34.0" height="45.0" fill="none" stroke="#505050" stroke-width="1.15"/>
<line x1="1420.6" y1="1300.8" x2="1454.6" y2="1300.8" stroke="#2b2b2b" stroke-width="2.15"/>
<line x1="1357" y1="1246.9" x2="1413" y2="1246.9" stroke="#4a4a4a" stroke-width="1.5"/>
<path d="M1371.1,1234.2V1241.6M1367.1,1236.0L1375.1,1239.8M1367.1,1239.8L1375.1,1236.0M1382.3,1234.2V1241.6M1378.3,1236.0L1386.3,1239.8M1378.3,1239.8L1386.3,1236.0M1393.5,1234.2V1241.6M1389.5,1236.0L1397.5,1239.8M1389.5,1239.8L1397.5,1236.0" stroke="#555" stroke-width="1.50" fill="none" stroke-linecap="round"/>
<line x1="1261.3" y1="1359.8" x2="1261.3" y2="1476.6" stroke="#454545" stroke-width="2.2"/>
<line x1="1256.7" y1="1367.6" x2="1261.3" y2="1367.6" stroke="#454545" stroke-width="2.2"/>
<text transform="translate(1253.1,1377.5) scale(0.975,1.05)" text-anchor="end" class="tk">1.0</text>
<line x1="1256.7" y1="1417.6" x2="1261.3" y2="1417.6" stroke="#454545" stroke-width="2.2"/>
<text transform="translate(1253.1,1427.5) scale(0.975,1.05)" text-anchor="end" class="tk">0.5</text>
<line x1="1256.7" y1="1467.6" x2="1261.3" y2="1467.6" stroke="#454545" stroke-width="2.2"/>
<text transform="translate(1253.1,1477.5) scale(0.975,1.05)" text-anchor="end" class="tk">0.0</text>
<path d="M1319.5,1435.6h0M1325.5,1465.7h0M1331.6,1369.9h0M1337.6,1429.8h0M1334.9,1376.9h0M1330.5,1394.7h0M1319.3,1454.1h0M1337.9,1447.0h0M1331.2,1420.4h0M1324.9,1447.4h0M1332.5,1459.2h0M1337.8,1386.5h0M1329.2,1411.6h0M1328.8,1449.8h0M1331.5,1409.8h0M1323.1,1392.8h0M1334.3,1379.3h0M1317.1,1411.6h0M1325.6,1441.0h0M1339.1,1460.2h0M1324.8,1402.5h0M1328.2,1405.4h0M1319.6,1367.1h0M1335.9,1440.7h0M1330.7,1460.8h0M1321.4,1402.1h0M1319.7,1389.6h0M1318.2,1436.1h0M1322.8,1432.9h0M1331.8,1443.5h0M1334.2,1382.0h0M1326.6,1400.8h0M1332.9,1435.4h0M1324.7,1423.4h0M1318.6,1436.7h0M1325.7,1463.3h0M1324.0,1384.9h0M1332.5,1387.7h0M1318.1,1433.7h0M1338.3,1426.3h0M1319.7,1376.9h0M1329.3,1436.5h0M1317.6,1391.1h0M1328.2,1373.6h0M1319.0,1435.3h0M1330.8,1389.2h0M1328.2,1430.5h0M1336.4,1369.0h0M1319.9,1453.3h0M1335.4,1448.9h0M1330.2,1393.2h0M1323.5,1427.4h0M1330.7,1414.0h0M1324.2,1380.3h0M1336.0,1444.4h0M1334.0,1438.3h0M1325.3,1396.3h0M1332.0,1435.2h0M1322.0,1417.6h0M1328.3,1439.6h0M1323.8,1392.7h0M1321.1,1394.0h0M1336.1,1457.6h0M1325.4,1382.6h0M1319.8,1372.6h0M1319.6,1429.2h0M1328.8,1388.5h0M1338.9,1430.7h0M1336.1,1372.1h0M1330.0,1371.7h0M1332.1,1391.1h0M1320.7,1422.6h0M1334.1,1422.6h0M1332.9,1445.2h0M1335.8,1378.5h0M1323.0,1370.6h0M1336.8,1390.5h0M1328.7,1373.2h0M1325.4,1428.1h0M1318.1,1457.0h0M1335.0,1411.3h0M1332.6,1365.7h0M1332.3,1402.8h0M1326.8,1379.8h0M1336.8,1399.8h0M1318.9,1420.8h0M1334.7,1412.0h0M1328.8,1440.3h0M1332.4,1421.4h0M1322.8,1370.6h0M1337.0,1370.8h0M1328.8,1396.7h0M1337.7,1389.3h0M1330.7,1426.4h0M1319.1,1395.5h0M1322.5,1375.5h0M1318.5,1460.3h0M1328.4,1366.9h0M1339.0,1442.8h0M1330.8,1459.5h0M1325.5,1468.1h0M1323.6,1417.5h0M1329.4,1391.8h0M1321.5,1437.0h0M1338.1,1372.6h0M1328.4,1382.9h0M1333.5,1449.4h0M1329.0,1382.4h0M1324.0,1446.0h0M1335.1,1389.1h0M1318.8,1457.8h0M1327.1,1384.0h0M1318.3,1428.7h0M1335.1,1390.8h0M1329.6,1459.0h0M1324.7,1405.1h0M1339.0,1424.8h0M1322.6,1447.7h0M1332.4,1414.5h0M1319.6,1370.6h0M1327.3,1467.4h0M1329.5,1373.6h0M1328.0,1424.4h0M1318.6,1379.5h0M1333.7,1383.7h0M1318.7,1399.4h0M1326.4,1394.0h0M1327.3,1369.0h0M1324.3,1417.3h0M1325.9,1385.4h0M1328.1,1411.8h0M1333.2,1425.6h0M1332.1,1369.8h0M1317.7,1448.6h0M1325.7,1367.3h0M1319.3,1387.1h0M1336.2,1448.2h0M1325.5,1378.6h0M1316.9,1458.9h0M1325.7,1387.2h0M1316.6,1367.2h0M1327.7,1383.7h0M1323.5,1376.4h0M1327.1,1392.6h0M1324.1,1392.0h0M1317.2,1379.2h0M1319.9,1375.9h0M1335.7,1422.0h0M1329.4,1450.4h0M1323.7,1418.2h0M1337.1,1451.7h0M1324.8,1373.9h0M1322.3,1414.8h0M1328.8,1368.7h0M1317.7,1456.8h0M1323.0,1412.6h0M1323.6,1400.4h0M1327.9,1422.6h0M1324.7,1392.1h0M1329.7,1434.8h0M1333.5,1462.9h0M1319.3,1377.8h0M1331.2,1402.8h0M1337.4,1426.5h0M1330.3,1383.8h0M1322.7,1454.6h0M1324.9,1432.6h0M1321.6,1404.5h0M1338.8,1380.7h0M1328.3,1404.4h0M1335.6,1414.3h0M1336.1,1399.8h0M1328.3,1371.4h0M1330.2,1419.2h0M1333.4,1445.4h0M1325.5,1405.4h0M1327.0,1448.6h0M1317.2,1440.0h0M1332.6,1398.3h0M1334.9,1414.9h0M1336.8,1448.6h0M1334.3,1464.3h0M1324.0,1369.3h0M1334.3,1376.4h0M1329.7,1393.3h0M1337.0,1398.9h0M1321.2,1410.6h0M1330.6,1369.2h0M1318.9,1367.7h0M1337.7,1371.5h0M1320.7,1397.4h0M1337.4,1395.7h0M1318.4,1375.3h0M1329.7,1442.7h0M1327.8,1408.5h0M1331.8,1404.1h0M1320.8,1429.0h0M1320.7,1399.9h0M1325.5,1397.9h0M1320.8,1373.5h0M1322.9,1415.2h0M1319.6,1418.2h0M1328.4,1402.6h0M1332.1,1470.9h0M1338.8,1460.3h0M1322.5,1467.0h0M1334.8,1380.9h0M1331.2,1379.9h0M1338.7,1390.2h0M1327.8,1439.6h0M1319.5,1396.6h0M1334.6,1452.5h0M1339.3,1407.5h0M1323.3,1407.7h0M1322.3,1392.6h0M1316.8,1450.4h0M1335.3,1369.5h0M1331.4,1403.6h0M1323.1,1370.9h0M1337.9,1455.6h0M1333.0,1387.2h0M1333.8,1378.1h0M1320.7,1369.3h0M1327.4,1438.3h0M1328.0,1430.6h0M1323.7,1374.7h0M1318.3,1388.8h0M1318.5,1454.9h0M1336.6,1401.8h0M1328.4,1434.4h0M1319.1,1382.7h0M1337.2,1455.7h0M1337.6,1391.3h0M1332.1,1416.3h0M1320.6,1446.6h0M1323.0,1438.1h0M1319.8,1380.2h0M1323.1,1372.7h0M1336.0,1371.1h0M1329.8,1462.1h0M1334.6,1377.4h0M1336.8,1399.8h0M1339.3,1425.0h0M1335.2,1462.8h0M1336.7,1393.2h0M1318.6,1402.4h0M1326.0,1443.6h0M1336.0,1404.0h0M1321.3,1457.3h0M1330.3,1376.0h0M1328.5,1379.0h0M1320.8,1385.5h0M1325.1,1367.6h0M1323.8,1446.8h0M1339.0,1410.5h0M1327.2,1373.3h0M1325.9,1377.2h0M1338.6,1392.6h0M1319.8,1452.0h0M1337.1,1406.8h0M1338.1,1405.3h0M1337.5,1402.2h0M1332.2,1433.5h0M1333.2,1437.2h0M1320.6,1435.4h0M1331.2,1441.7h0M1337.2,1367.6h0M1339.4,1450.5h0M1326.4,1446.6h0M1332.7,1372.3h0" stroke="#555555" stroke-opacity="0.6" stroke-width="1.9" stroke-linecap="round" fill="none"/>
<path d="M1437.1,1457.6h0M1448.9,1439.8h0M1437.4,1449.7h0M1426.2,1379.5h0M1448.6,1371.8h0M1429.5,1390.3h0M1428.1,1391.7h0M1448.0,1419.8h0M1437.6,1439.2h0M1428.4,1445.0h0M1444.5,1454.8h0M1438.4,1456.1h0M1438.5,1432.2h0M1448.6,1402.0h0M1431.3,1461.4h0M1437.4,1401.2h0M1444.4,1409.7h0M1430.5,1434.6h0M1443.6,1462.2h0M1426.3,1419.7h0M1444.6,1375.4h0M1432.2,1389.8h0M1428.6,1394.0h0M1430.6,1428.8h0M1442.4,1445.4h0M1443.9,1388.5h0M1448.4,1457.1h0M1432.2,1409.5h0M1431.8,1428.6h0M1443.6,1447.8h0M1448.9,1458.6h0M1433.8,1427.3h0M1439.7,1401.4h0M1432.6,1404.1h0M1440.2,1384.3h0M1433.3,1398.2h0M1433.7,1366.8h0M1439.4,1439.4h0M1443.2,1434.9h0M1440.0,1423.0h0M1428.0,1446.6h0M1437.4,1438.1h0M1448.5,1408.3h0M1445.1,1416.9h0M1426.9,1434.5h0M1437.4,1387.1h0M1442.5,1390.5h0M1437.1,1374.6h0M1444.0,1403.7h0M1435.0,1397.8h0M1436.2,1395.6h0M1429.1,1377.2h0M1442.1,1424.8h0M1427.3,1380.7h0M1442.9,1405.2h0M1438.9,1384.5h0M1446.1,1384.2h0M1434.8,1435.2h0M1433.8,1397.4h0M1445.8,1414.5h0M1431.5,1443.8h0M1427.4,1422.6h0M1435.5,1369.6h0M1427.0,1425.5h0M1427.0,1454.4h0M1436.3,1390.4h0M1430.5,1409.6h0M1426.7,1401.7h0M1433.2,1455.9h0M1444.7,1405.0h0M1445.2,1414.1h0M1438.9,1405.9h0M1447.6,1412.2h0M1440.9,1400.4h0M1435.5,1369.8h0M1443.7,1451.2h0M1447.0,1462.1h0M1433.9,1425.6h0M1439.8,1451.8h0M1445.2,1462.4h0M1431.9,1385.3h0M1443.9,1377.9h0M1428.4,1467.8h0M1445.7,1446.2h0M1429.8,1446.2h0M1442.3,1426.0h0M1434.0,1368.7h0M1430.0,1458.6h0M1443.0,1424.6h0M1433.6,1403.9h0M1440.4,1442.9h0M1432.6,1428.4h0M1447.6,1391.4h0M1432.7,1393.3h0M1428.8,1383.3h0M1447.7,1390.4h0M1426.2,1424.5h0M1430.6,1455.2h0M1432.5,1465.3h0M1426.2,1390.1h0M1435.5,1388.1h0M1441.8,1387.3h0M1426.6,1402.3h0M1428.8,1419.7h0M1434.9,1466.0h0M1448.2,1411.5h0M1432.6,1453.1h0M1437.1,1429.6h0M1431.6,1382.4h0M1442.9,1399.6h0M1439.1,1374.8h0M1426.6,1375.4h0M1437.3,1392.5h0M1434.4,1370.8h0M1444.1,1451.7h0M1434.9,1384.1h0M1427.6,1397.9h0M1448.0,1401.7h0M1438.0,1453.5h0M1427.7,1405.5h0M1433.9,1378.9h0M1448.4,1394.0h0M1436.9,1371.5h0M1438.6,1386.2h0M1443.1,1461.9h0M1442.2,1420.2h0M1448.3,1376.9h0M1431.2,1386.6h0M1436.3,1410.2h0M1429.5,1415.8h0M1426.9,1422.9h0M1435.0,1421.9h0M1446.9,1423.4h0M1448.3,1407.3h0M1446.1,1402.1h0M1427.1,1448.3h0M1434.5,1443.1h0M1426.7,1393.3h0M1432.6,1400.1h0M1442.8,1409.0h0M1443.9,1403.0h0M1428.9,1422.4h0M1448.8,1365.0h0M1439.7,1431.0h0M1428.3,1404.5h0M1432.9,1434.0h0M1447.5,1401.5h0M1430.7,1427.9h0M1438.4,1413.6h0M1430.1,1458.3h0M1435.7,1423.5h0M1440.1,1414.6h0M1434.3,1401.7h0M1438.8,1389.5h0M1446.9,1463.6h0M1433.5,1429.9h0M1437.1,1434.8h0M1427.9,1413.5h0M1438.6,1374.9h0M1446.2,1372.8h0M1441.5,1388.2h0M1434.7,1373.3h0M1430.9,1410.9h0M1448.2,1396.7h0M1428.8,1448.5h0M1435.5,1390.5h0M1444.3,1437.5h0M1441.8,1400.8h0M1441.5,1442.6h0M1428.9,1404.4h0M1440.1,1421.3h0M1447.7,1376.8h0M1448.8,1408.5h0M1445.2,1382.1h0M1430.0,1439.3h0M1437.0,1408.8h0M1439.6,1408.7h0M1426.9,1433.8h0M1428.6,1419.3h0M1444.2,1464.4h0M1429.9,1448.7h0M1448.7,1423.9h0M1429.2,1391.5h0M1428.1,1398.0h0M1433.6,1389.4h0M1447.1,1457.1h0M1433.4,1445.3h0M1441.5,1371.9h0M1441.7,1454.8h0M1433.9,1448.7h0M1429.7,1406.5h0M1431.3,1409.2h0M1446.0,1376.8h0M1433.5,1380.5h0M1446.8,1404.0h0M1428.8,1409.8h0M1432.4,1410.4h0M1432.9,1372.1h0M1433.5,1451.2h0M1445.8,1408.7h0M1438.3,1387.0h0M1434.0,1390.2h0M1435.2,1459.5h0M1439.6,1383.7h0M1433.4,1369.5h0M1441.4,1388.2h0M1447.3,1449.6h0M1430.2,1371.8h0M1428.7,1448.3h0M1432.7,1469.1h0M1447.9,1389.6h0M1433.5,1394.8h0M1442.6,1383.0h0M1432.9,1409.2h0M1434.2,1458.8h0M1433.1,1460.8h0M1436.9,1398.3h0M1438.6,1389.9h0M1442.4,1422.0h0M1431.4,1389.2h0M1439.4,1424.4h0M1428.7,1412.8h0M1430.4,1391.1h0M1437.7,1394.9h0M1447.0,1395.4h0M1444.3,1448.5h0M1432.0,1394.8h0M1432.8,1385.1h0M1443.1,1390.7h0M1432.1,1401.3h0M1444.5,1396.4h0M1439.7,1437.6h0M1436.0,1369.4h0M1434.7,1374.1h0M1431.5,1436.7h0M1433.9,1394.1h0M1429.6,1388.4h0M1447.5,1413.3h0M1448.8,1437.1h0M1448.4,1421.3h0M1447.1,1444.6h0M1448.6,1383.4h0M1444.8,1408.8h0M1444.9,1370.5h0M1445.9,1439.7h0M1441.8,1366.7h0M1433.6,1393.0h0M1447.3,1402.4h0M1441.8,1457.1h0M1435.3,1457.8h0M1439.6,1407.5h0M1429.2,1457.1h0M1437.2,1394.2h0M1448.9,1442.5h0M1448.6,1375.8h0M1448.5,1396.6h0M1444.5,1461.1h0M1440.9,1382.5h0M1429.2,1389.6h0M1427.4,1440.7h0M1448.0,1421.5h0M1439.3,1391.8h0M1444.2,1378.0h0M1428.7,1421.4h0M1440.6,1385.4h0M1434.2,1372.7h0M1434.0,1370.1h0M1447.7,1397.8h0M1444.5,1384.2h0M1446.6,1455.6h0M1428.7,1394.7h0M1435.7,1381.6h0M1426.3,1428.8h0M1445.0,1379.7h0M1440.8,1425.6h0M1428.6,1376.7h0M1447.7,1428.4h0M1448.3,1401.7h0M1435.7,1401.1h0M1448.8,1457.2h0M1435.7,1459.1h0M1442.9,1426.7h0M1427.4,1416.7h0M1426.7,1395.7h0M1447.6,1369.3h0M1448.2,1371.7h0M1438.9,1451.8h0M1426.6,1392.5h0M1436.8,1453.3h0M1446.8,1457.9h0M1433.9,1451.4h0M1440.1,1379.7h0M1438.1,1392.6h0M1435.3,1405.1h0M1445.4,1399.5h0M1447.9,1397.0h0M1428.7,1454.3h0M1446.3,1411.9h0M1448.5,1378.6h0M1440.2,1466.1h0M1439.6,1393.0h0M1438.3,1461.5h0M1447.4,1401.2h0M1437.9,1449.2h0M1438.7,1461.2h0M1447.4,1457.0h0M1428.9,1419.4h0M1440.9,1371.9h0M1428.9,1453.0h0M1427.0,1411.5h0M1429.3,1434.5h0M1432.6,1427.9h0M1444.1,1439.0h0M1438.4,1415.9h0M1447.3,1368.5h0M1429.7,1448.7h0M1426.2,1377.2h0M1444.2,1382.5h0M1429.0,1409.8h0M1444.2,1388.5h0M1436.0,1404.6h0M1446.2,1369.0h0M1441.6,1459.1h0M1430.8,1386.4h0M1444.7,1377.8h0M1431.8,1396.7h0M1436.7,1372.8h0M1426.1,1459.8h0M1443.2,1399.3h0M1429.2,1388.7h0M1428.9,1457.8h0M1427.6,1406.7h0M1427.3,1382.2h0M1447.2,1392.3h0M1428.9,1425.0h0M1441.5,1385.7h0M1439.7,1378.4h0M1428.4,1436.9h0M1435.3,1439.2h0M1427.3,1379.9h0M1438.8,1385.3h0M1428.3,1417.1h0M1433.4,1372.5h0M1436.1,1369.2h0M1437.6,1398.1h0M1436.4,1422.2h0M1430.2,1457.8h0M1431.4,1466.6h0M1441.1,1420.6h0M1431.3,1413.5h0M1429.2,1454.5h0M1446.4,1443.3h0M1430.2,1377.9h0M1427.0,1387.8h0M1437.4,1422.0h0M1430.4,1452.7h0M1427.9,1372.9h0M1435.8,1376.4h0M1437.2,1387.9h0M1442.3,1391.5h0M1426.2,1393.5h0M1433.0,1433.8h0M1445.2,1400.6h0M1446.8,1463.7h0M1438.7,1433.1h0M1442.4,1442.1h0M1447.1,1455.0h0M1428.9,1389.7h0M1429.7,1416.2h0M1430.3,1426.6h0M1448.3,1382.3h0M1439.6,1393.1h0M1447.1,1394.3h0M1434.8,1377.1h0M1430.5,1442.6h0M1433.5,1414.4h0M1445.9,1458.3h0M1427.0,1387.8h0M1428.3,1387.6h0M1431.7,1461.4h0M1439.2,1426.9h0M1443.5,1455.5h0M1435.7,1380.6h0M1429.6,1395.3h0M1427.9,1436.7h0M1435.0,1395.1h0M1429.1,1373.9h0M1429.5,1377.4h0M1449.0,1418.9h0M1446.3,1465.2h0M1430.3,1427.3h0M1439.1,1436.7h0M1441.7,1392.7h0M1432.6,1426.7h0M1447.0,1380.3h0M1443.8,1438.2h0M1437.8,1372.9h0M1426.7,1370.9h0M1436.1,1407.8h0M1440.8,1459.3h0M1434.6,1387.7h0M1438.3,1382.9h0M1448.5,1450.4h0M1437.1,1393.0h0M1434.7,1460.8h0M1429.2,1429.5h0M1433.0,1433.1h0M1441.7,1452.8h0M1447.7,1395.1h0M1438.8,1372.7h0M1448.1,1408.4h0M1431.7,1370.4h0M1437.1,1438.3h0M1428.4,1448.9h0M1444.7,1429.7h0M1441.8,1382.7h0M1447.2,1432.1h0M1436.6,1422.7h0M1438.5,1375.4h0M1444.0,1400.7h0M1448.1,1424.1h0M1443.7,1382.1h0M1428.8,1454.5h0M1430.4,1443.0h0M1435.7,1397.6h0M1446.9,1409.9h0M1427.6,1389.4h0M1448.6,1378.5h0M1447.0,1392.4h0M1428.5,1442.9h0M1448.0,1391.0h0M1430.2,1443.2h0M1435.4,1458.5h0M1434.1,1433.3h0M1444.5,1422.2h0M1430.0,1406.4h0M1437.3,1457.2h0M1436.9,1398.7h0M1432.0,1418.5h0M1449.1,1368.5h0M1446.6,1410.7h0M1446.0,1381.0h0M1433.1,1384.6h0M1446.8,1396.0h0M1447.5,1390.9h0M1431.8,1461.4h0M1441.8,1374.1h0M1433.8,1372.4h0M1442.8,1371.6h0M1429.5,1459.3h0M1433.6,1443.7h0M1443.6,1433.9h0M1433.8,1444.1h0M1427.7,1437.5h0M1448.4,1451.8h0M1442.3,1398.3h0M1440.4,1378.6h0M1426.8,1427.5h0M1426.2,1384.3h0M1437.9,1374.8h0M1435.2,1401.6h0M1429.1,1377.5h0M1447.0,1433.1h0M1427.4,1400.9h0M1436.8,1396.3h0M1447.2,1465.2h0M1439.8,1371.4h0M1441.6,1436.3h0M1441.8,1410.5h0M1434.9,1385.9h0" stroke="#a6c3fa" stroke-opacity="0.95" stroke-width="2.3" stroke-linecap="round" fill="none"/>
<line x1="1328.0" y1="1367.6" x2="1328.0" y2="1387.6" stroke="#444" stroke-width="1.4"/>
<line x1="1328.0" y1="1437.6" x2="1328.0" y2="1467.6" stroke="#444" stroke-width="1.4"/>
<rect x="1311.0" y="1387.6" width="34.0" height="50.0" fill="none" stroke="#505050" stroke-width="1.15"/>
<line x1="1311.0" y1="1407.6" x2="1345.0" y2="1407.6" stroke="#2b2b2b" stroke-width="2.15"/>
<line x1="1437.6" y1="1367.6" x2="1437.6" y2="1387.6" stroke="#444" stroke-width="1.4"/>
<line x1="1437.6" y1="1437.6" x2="1437.6" y2="1467.6" stroke="#444" stroke-width="1.4"/>
<rect x="1420.6" y="1387.6" width="34.0" height="50.0" fill="none" stroke="#505050" stroke-width="1.15"/>
<line x1="1420.6" y1="1407.6" x2="1454.6" y2="1407.6" stroke="#2b2b2b" stroke-width="2.15"/>
<line x1="1357" y1="1376.9" x2="1413" y2="1376.9" stroke="#4a4a4a" stroke-width="1.5"/>
<text x="1385" y="1370.4" text-anchor="middle" style="font-size:20.5px;fill:#444">ns</text>
<line x1="1260.4" y1="1476.6" x2="1492.0" y2="1476.6" stroke="#454545" stroke-width="2.2"/>
<line x1="1328.0" y1="1476.6" x2="1328.0" y2="1481.2" stroke="#454545" stroke-width="2.2"/>
<text x="1328.0" y="1501.6" text-anchor="middle" class="tk" style="font-size:25px">lights off</text>
<line x1="1437.6" y1="1476.6" x2="1437.6" y2="1481.2" stroke="#454545" stroke-width="2.2"/>
<text x="1437.6" y="1501.6" text-anchor="middle" class="tk" style="font-size:25px">lights on</text>
<defs><filter id="kb" x="-5%" y="-5%" width="110%" height="110%"><feGaussianBlur stdDeviation="7"/></filter></defs>
<g transform="translate(960,0) scale(0.11341)" filter="url(#kb)">
<g fill="none" stroke-linecap="round" stroke-linejoin="round">
 <!-- antennae -->
 <g stroke="#6a6a6a" stroke-width="11" opacity="0.5">
  <path d="M338,236 L250,120 L165,40"/>
  <path d="M338,236 L270,130 L215,45"/>
  <path d="M338,236 L290,150 L245,75"/>
  <path d="M330,246 L230,270 L135,300"/>
  <path d="M330,250 L230,295 L140,338"/>
  <path d="M326,256 L280,330 L245,400"/>
  <path d="M335,262 L300,330 L275,385"/>
 </g>
 <!-- head mass -->
 <path d="M335,232 L400,238 L470,262 L440,330 L400,420 L380,350 L350,300 Z" fill="#666" fill-opacity="0.55" stroke="none"/>
 <g stroke="#555" stroke-width="13" opacity="0.75">
  <path d="M338,238 L400,250 L455,268"/>
  <path d="M355,300 L335,335 L350,365"/>
  <path d="M380,310 L362,365 L372,405"/>
  <path d="M410,310 L395,385 L408,432"/>
 </g>
 <!-- carapace / feeding basket -->
 <path d="M430,300 L400,420 L450,485 L560,508 L690,478 L770,505 L705,440 L600,335 L500,285 Z" fill="#555" fill-opacity="0.5" stroke="none"/>
 <g stroke="#2f2f2f" stroke-width="11" opacity="0.75">
  <path d="M430,340 L520,380 L640,455"/>
  <path d="M425,375 L520,420 L650,480"/>
  <path d="M418,410 L510,455 L620,498"/>
  <path d="M440,450 L520,485 L585,502"/>
  <path d="M470,310 L560,350 L700,455"/>
  <path d="M455,300 L520,320 L600,345"/>
 </g>
 <g stroke="#eee" stroke-width="7" opacity="0.7">
  <path d="M520,345 L590,395"/>
  <path d="M560,420 L640,470"/>
  <path d="M470,330 L500,345"/>
 </g>
 <path d="M640,450 L700,452 L790,500 L745,525 L680,495 Z" fill="#222" fill-opacity="0.85" stroke="none"/>
 <!-- dorsal line -->
 <path d="M420,258 L500,278 L600,325 L700,368 L760,390 L870,418 L940,440 L1000,470 L1100,530 L1200,600 L1260,652 L1300,700" stroke="#202020" stroke-width="21"/>
 <path d="M590,335 L700,388 L800,412" stroke="#2a2a2a" stroke-width="14" opacity="0.85"/>
 <!-- ventral line -->
 <path d="M700,470 L800,497 L900,522 L1000,552 L1100,602 L1200,652 L1270,692" stroke="#262626" stroke-width="17"/>
 <!-- second inner line -->
 <path d="M890,505 L1000,535 L1060,560 L1140,610" stroke="#1e1e1e" stroke-width="18" opacity="0.92"/>
 <!-- segment lines -->
 <g stroke="#333" stroke-width="11" opacity="0.75">
  <path d="M748,392 L735,440 L800,495"/>
  <path d="M838,412 L822,470 L830,505"/>
  <path d="M925,436 L915,500"/>
  <path d="M1000,470 L990,530"/>
  <path d="M1080,520 L1068,575"/>
  <path d="M1150,566 L1140,612"/>
 </g>
 <!-- pleopods -->
 <g stroke="#333" stroke-width="17" opacity="0.85">
  <path d="M785,500 L750,560 L728,600"/>
  <path d="M872,528 L840,580 L818,615"/>
  <path d="M950,552 L925,610 L905,635"/>
  <path d="M1020,585 L1000,635 L988,655"/>
  <path d="M1105,622 L1090,660 L1078,680"/>
 </g>
 <g fill="#3c3c3c" fill-opacity="0.85" stroke="#3c3c3c" stroke-width="8">
  <path d="M735,585 L678,642 L712,634 L722,657 L750,652 Z"/>
  <path d="M825,600 L770,647 L802,642 L812,664 L837,657 Z"/>
  <path d="M912,615 L863,654 L895,652 L902,674 L927,667 Z"/>
  <path d="M1000,635 L940,692 L975,682 L985,697 L1014,692 Z"/>
  <path d="M1090,655 L1028,714 L1062,702 L1075,714 L1102,702 Z"/>
 </g>
 <!-- tail -->
 <path d="M1250,652 L1300,670 L1348,745 L1352,798 L1318,772 L1282,715 Z" fill="#333" fill-opacity="0.9" stroke="none"/>
 <path d="M1270,690 L1310,750 L1347,795" stroke="#1a1a1a" stroke-width="11"/>
 <!-- eye -->
 <ellipse cx="455" cy="285" rx="30" ry="24" fill="#141414" stroke="none"/>
</g>
</g>
<text x="1005.3" y="94.0" text-anchor="middle" style="font-size:35px;fill:#555">#4</text>
<g transform="translate(960,787.4) scale(0.11341)" filter="url(#kb)">
<g fill="none" stroke-linecap="round" stroke-linejoin="round">
 <!-- antennae -->
 <g stroke="#6a6a6a" stroke-width="11" opacity="0.5">
  <path d="M338,236 L250,120 L165,40"/>
  <path d="M338,236 L270,130 L215,45"/>
  <path d="M338,236 L290,150 L245,75"/>
  <path d="M330,246 L230,270 L135,300"/>
  <path d="M330,250 L230,295 L140,338"/>
  <path d="M326,256 L280,330 L245,400"/>
  <path d="M335,262 L300,330 L275,385"/>
 </g>
 <!-- head mass -->
 <path d="M335,232 L400,238 L470,262 L440,330 L400,420 L380,350 L350,300 Z" fill="#666" fill-opacity="0.55" stroke="none"/>
 <g stroke="#555" stroke-width="13" opacity="0.75">
  <path d="M338,238 L400,250 L455,268"/>
  <path d="M355,300 L335,335 L350,365"/>
  <path d="M380,310 L362,365 L372,405"/>
  <path d="M410,310 L395,385 L408,432"/>
 </g>
 <!-- carapace / feeding basket -->
 <path d="M430,300 L400,420 L450,485 L560,508 L690,478 L770,505 L705,440 L600,335 L500,285 Z" fill="#555" fill-opacity="0.5" stroke="none"/>
 <g stroke="#2f2f2f" stroke-width="11" opacity="0.75">
  <path d="M430,340 L520,380 L640,455"/>
  <path d="M425,375 L520,420 L650,480"/>
  <path d="M418,410 L510,455 L620,498"/>
  <path d="M440,450 L520,485 L585,502"/>
  <path d="M470,310 L560,350 L700,455"/>
  <path d="M455,300 L520,320 L600,345"/>
 </g>
 <g stroke="#eee" stroke-width="7" opacity="0.7">
  <path d="M520,345 L590,395"/>
  <path d="M560,420 L640,470"/>
  <path d="M470,330 L500,345"/>
 </g>
 <path d="M640,450 L700,452 L790,500 L745,525 L680,495 Z" fill="#222" fill-opacity="0.85" stroke="none"/>
 <!-- dorsal line -->
 <path d="M420,258 L500,278 L600,325 L700,368 L760,390 L870,418 L940,440 L1000,470 L1100,530 L1200,600 L1260,652 L1300,700" stroke="#202020" stroke-width="21"/>
 <path d="M590,335 L700,388 L800,412" stroke="#2a2a2a" stroke-width="14" opacity="0.85"/>
 <!-- ventral line -->
 <path d="M700,470 L800,497 L900,522 L1000,552 L1100,602 L1200,652 L1270,692" stroke="#262626" stroke-width="17"/>
 <!-- second inner line -->
 <path d="M890,505 L1000,535 L1060,560 L1140,610" stroke="#1e1e1e" stroke-width="18" opacity="0.92"/>
 <!-- segment lines -->
 <g stroke="#333" stroke-width="11" opacity="0.75">
  <path d="M748,392 L735,440 L800,495"/>
  <path d="M838,412 L822,470 L830,505"/>
  <path d="M925,436 L915,500"/>
  <path d="M1000,470 L990,530"/>
  <path d="M1080,520 L1068,575"/>
  <path d="M1150,566 L1140,612"/>
 </g>
 <!-- pleopods -->
 <g stroke="#333" stroke-width="17" opacity="0.85">
  <path d="M785,500 L750,560 L728,600"/>
  <path d="M872,528 L840,580 L818,615"/>
  <path d="M950,552 L925,610 L905,635"/>
  <path d="M1020,585 L1000,635 L988,655"/>
  <path d="M1105,622 L1090,660 L1078,680"/>
 </g>
 <g fill="#3c3c3c" fill-opacity="0.85" stroke="#3c3c3c" stroke-width="8">
  <path d="M735,585 L678,642 L712,634 L722,657 L750,652 Z"/>
  <path d="M825,600 L770,647 L802,642 L812,664 L837,657 Z"/>
  <path d="M912,615 L863,654 L895,652 L902,674 L927,667 Z"/>
  <path d="M1000,635 L940,692 L975,682 L985,697 L1014,692 Z"/>
  <path d="M1090,655 L1028,714 L1062,702 L1075,714 L1102,702 Z"/>
 </g>
 <!-- tail -->
 <path d="M1250,652 L1300,670 L1348,745 L1352,798 L1318,772 L1282,715 Z" fill="#333" fill-opacity="0.9" stroke="none"/>
 <path d="M1270,690 L1310,750 L1347,795" stroke="#1a1a1a" stroke-width="11"/>
 <!-- eye -->
 <ellipse cx="455" cy="285" rx="30" ry="24" fill="#141414" stroke="none"/>
</g>
</g>
<text x="1006.6" y="884.2" text-anchor="middle" style="font-size:35px;fill:#555">#1</text>
</svg></body></html>
